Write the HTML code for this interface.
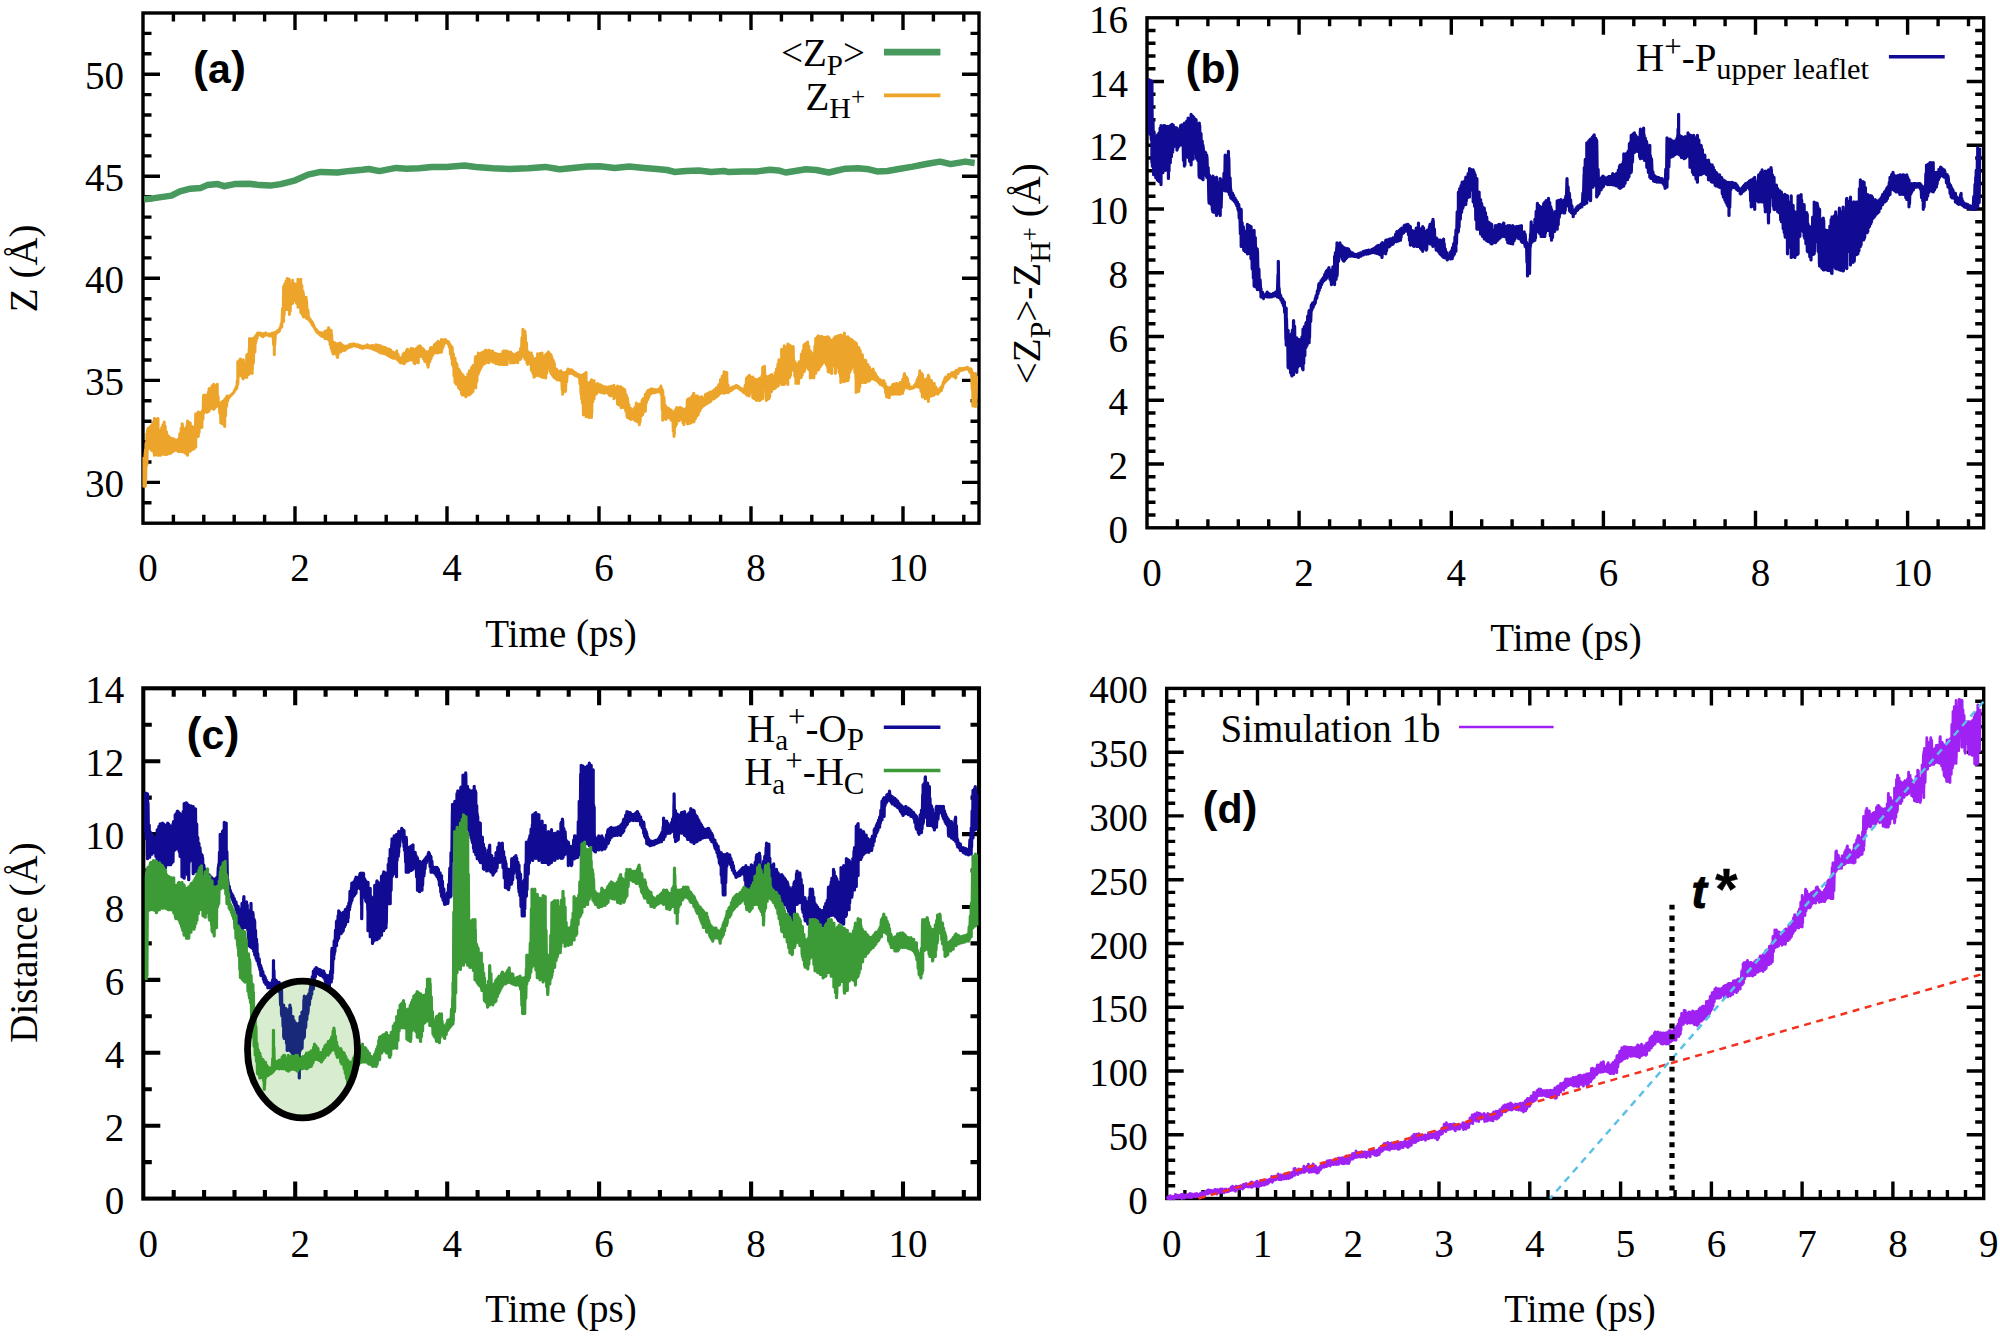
<!DOCTYPE html><html><head><meta charset="utf-8"><title>Figure</title>
<style>html,body{margin:0;padding:0;background:#fff;overflow:hidden;width:2000px;height:1337px}svg{display:block}text{fill:#000}</style></head><body>
<svg width="2000" height="1337" viewBox="0 0 2000 1337">
<rect width="2000" height="1337" fill="#fff"/>
<g id="panelA">
<path d="M173.4 523.2v-8.5 M173.4 13v8.5 M203.8 523.2v-8.5 M203.8 13v8.5 M234.2 523.2v-8.5 M234.2 13v8.5 M264.6 523.2v-8.5 M264.6 13v8.5 M295 523.2v-17 M295 13v17 M325.4 523.2v-8.5 M325.4 13v8.5 M355.8 523.2v-8.5 M355.8 13v8.5 M386.2 523.2v-8.5 M386.2 13v8.5 M416.6 523.2v-8.5 M416.6 13v8.5 M447 523.2v-17 M447 13v17 M477.4 523.2v-8.5 M477.4 13v8.5 M507.8 523.2v-8.5 M507.8 13v8.5 M538.2 523.2v-8.5 M538.2 13v8.5 M568.6 523.2v-8.5 M568.6 13v8.5 M599 523.2v-17 M599 13v17 M629.4 523.2v-8.5 M629.4 13v8.5 M659.8 523.2v-8.5 M659.8 13v8.5 M690.2 523.2v-8.5 M690.2 13v8.5 M720.6 523.2v-8.5 M720.6 13v8.5 M751 523.2v-17 M751 13v17 M781.4 523.2v-8.5 M781.4 13v8.5 M811.8 523.2v-8.5 M811.8 13v8.5 M842.2 523.2v-8.5 M842.2 13v8.5 M872.6 523.2v-8.5 M872.6 13v8.5 M903 523.2v-17 M903 13v17 M933.4 523.2v-8.5 M933.4 13v8.5 M963.8 523.2v-8.5 M963.8 13v8.5 M143 502.8h8.5 M979 502.8h-8.5 M143 482.4h17 M979 482.4h-17 M143 462h8.5 M979 462h-8.5 M143 441.6h8.5 M979 441.6h-8.5 M143 421.2h8.5 M979 421.2h-8.5 M143 400.8h8.5 M979 400.8h-8.5 M143 380.4h17 M979 380.4h-17 M143 360h8.5 M979 360h-8.5 M143 339.6h8.5 M979 339.6h-8.5 M143 319.1h8.5 M979 319.1h-8.5 M143 298.7h8.5 M979 298.7h-8.5 M143 278.3h17 M979 278.3h-17 M143 257.9h8.5 M979 257.9h-8.5 M143 237.5h8.5 M979 237.5h-8.5 M143 217.1h8.5 M979 217.1h-8.5 M143 196.7h8.5 M979 196.7h-8.5 M143 176.3h17 M979 176.3h-17 M143 155.9h8.5 M979 155.9h-8.5 M143 135.5h8.5 M979 135.5h-8.5 M143 115h8.5 M979 115h-8.5 M143 94.6h8.5 M979 94.6h-8.5 M143 74.2h17 M979 74.2h-17 M143 53.8h8.5 M979 53.8h-8.5 M143 33.4h8.5 M979 33.4h-8.5" stroke="#000" stroke-width="3.4" fill="none"/>
<rect x="143" y="13" width="836" height="510.2" fill="none" stroke="#000" stroke-width="3.4"/>
<path d="M143.9 457L143.9 486.3L143.9 458.1L144.5 476.1L145.1 453.1L145.4 486.3L145.4 449.8L145.7 481.3L146.3 442.5L146.8 465.2L146.8 433.7L147 462.9L147.5 430.6L148.1 449L148.1 428.3L148.2 446.2L148.7 435.9L149.4 446.6L150 427L150.5 447.7L150.8 426.5L150.8 449L151 426L151.6 450.4L152.2 424.4L152.9 450.9L153.5 422.1L154.1 453.4L154.4 418.4L154.4 455.3L154.7 433.1L155.4 446.5L156 418.9L156.6 454.9L157.1 425L157.6 446.3L158 418.4L158 455.3L158.2 432L158.9 455.3L159.4 434.1L160 444.8L160.6 430.1L160.6 455.3L160.6 430.1L161.2 450.1L161.8 427.4L162.4 444.6L163 424.7L163.6 454.5L164.1 428.8L164.2 454.4L164.2 422L164.6 452.3L165.2 426.3L165.8 454.4L166.5 431.8L166.9 454.4L166.9 433.7L167 454.3L167.6 441.8L168.3 453.8L168.9 436.3L169.5 449.5L170.1 437.7L170.5 453.5L170.5 438.1L170.9 453.2L171.4 441L172 452.3L172.5 438.6L173.1 451.5L173.7 439.2L174.1 450.8L174.1 439L174.3 446.6L174.9 440.1L175.6 450.3L176.1 442.8L176.8 449.8L176.8 439.9L176.8 449.9L177.3 441.4L178 451.1L178.6 439L178.6 451.7L178.7 442.2L179.3 451.2L179.8 433.8L180.5 451.6L181.2 428.3L181.8 449.5L182.2 423.8L182.2 451.7L182.4 424.3L183 452L183.6 428.8L184.3 450.2L184.8 436.9L184.9 452.6L184.9 430.1L185.4 453.1L185.9 427.7L186.4 454L187 425.5L187.5 454.6L187.6 421.1L187.6 455.3L188.2 433.9L188.8 449.1L189.4 422.4L189.9 451.4L190.3 422.9L190.3 450.8L190.6 427.1L191.3 450.3L192 426.5L192.6 449.3L193.3 427.4L193.9 449L193.9 428.3L193.9 445.6L194.6 426.8L195.2 441.6L195.7 413.9L195.7 447.2L195.9 414.3L196.6 434.7L197.2 413.6L197.9 431.4L198.3 412.1L198.3 436.4L198.5 414.5L199.1 432.7L199.7 412.8L200.4 424.2L201 416L201.6 425.9L201.9 413.9L201.9 427.5L202.2 411L202.9 419.5L203.5 396.7L203.7 413.1L203.7 395.1L204.2 412.2L204.7 397.5L205.3 411.1L206 395.2L206.5 412.2L207.1 395.2L207.3 412.2L207.3 395.1L207.7 406.6L208.3 392.3L209 411L209.1 388.8L209.1 411.3L209.6 388.4L210.2 406L210.9 393.4L211.5 408.5L212 385.9L212.6 404.1L213.3 388.2L213.6 409.5L213.6 384.3L214 408.9L214.5 385.2L215.1 407.9L215.7 386.6L216.3 406.6L216.9 392.6L217.2 405.9L217.2 384.3L217.5 405.9L218 396.3L218.5 404.8L219 403.1L219 405.9L219.1 403.1L219.8 413.5L220.3 403.7L220.8 423L220.8 403.1L220.8 418.5L221.4 402.6L221.9 421.4L222.5 403.7L222.6 423.9L222.6 401.3L223.1 419.6L223.8 403.5L224.3 425L224.7 399.5L224.7 426.6L224.9 399.3L225.5 416L226 397.7L226.6 406.3L227.1 395.9L227.1 402.3L227.2 396.5L227.8 400.8L228.5 397L229 397.7L229.6 395.9L229.8 396.4L230.2 396L230.9 395.4L231.5 394.7L232.1 394.1L232.7 393.5L233.4 392.9L233.4 392.8L234.1 391.9L234.7 390L235.2 390.3L235.9 387.6L236.5 388.6L236.9 385.2L236.9 388L237.2 381L237.8 384.4L237.8 361.8L237.9 382.7L238.6 361.3L239.2 374.8L239.8 359.8L240.4 374.6L240.5 359.1L240.5 375.4L241.1 360.1L241.6 373.1L242.1 363.3L242.6 377.9L243.2 360L243.2 379L243.3 359.9L243.8 377.6L244.4 363L245.1 371L245.7 363.7L246.2 377.4L246.8 354.9L246.8 377.2L246.8 354.7L247.4 373.7L248 354.1L248.7 374.4L249.2 348.3L249.5 373.6L249.5 338.5L249.9 373.5L250.6 351.3L251.2 371L251.7 340.7L252.2 373.6L252.2 338.5L252.3 369.6L252.8 349.2L253.4 363.1L254.1 338.8L254.7 351.5L254.9 336.7L254.9 352.1L255.2 337.2L255.8 342.7L256.5 334.7L257.1 338.4L257.6 333.1L257.6 335L257.7 333.5L258.3 334.9L258.9 333.1L259.5 334.4L260 333.5L260.3 335L260.3 333.1L260.5 335.2L261.1 333.6L261.6 335.9L262.3 333.8L262.9 336.7L263 334L263 336.8L263.5 333.8L264.1 335.9L264.6 333.5L265.2 335.2L265.7 333.1L265.7 335L265.8 333.1L266.4 335L267 333.9L267.6 335L268.2 334L268.8 335.2L269.3 334L269.3 335.9L269.4 334L270.1 335.9L270.8 334.3L271.3 335.9L272 333.4L272.5 335.3L272.9 333.1L272.9 335.9L273 334.1L273.6 344.7L274.2 333.1L274.3 354.8L274.3 333.1L274.7 345.3L275.4 333.3L275.5 334.1L275.5 332.2L276 333.7L276.6 331.5L277.2 332.8L277.8 330.5L278.3 331.9L278.9 329.8L279.1 331.4L279.1 329.5L279.4 330.9L279.9 327.9L280.6 327.8L281.1 324.1L281.8 326.9L281.8 322.3L281.8 326.6L282.5 308.7L283.1 321.6L283.6 286.4L283.6 321.5L283.7 289.3L284.2 314.8L284.8 283.7L285.4 309.8L286 281.1L286.5 309.6L287 287.5L287.2 309L287.2 278.4L287.7 305.8L288.4 282.2L289 310.4L289.4 279.3L289.4 314.4L289.6 292.4L290.2 311.4L290.9 284.6L291.6 301.2L292.1 287.3L292.6 303.6L292.6 280.2L292.8 300.3L293.5 285.4L294.1 299.2L294.6 283.7L295.2 301L295.3 284.6L295.3 300.9L295.7 285.6L296.4 303.3L297.1 284L297.6 303.3L298 279.3L298 307.2L298.2 281L298.8 297L299.4 283.5L300.1 299.3L300.6 282.4L300.7 312.6L300.7 279.3L301.3 313.3L301.8 285.3L302.4 314.7L302.9 291L303.4 317L303.4 293.6L303.6 315.5L304.2 302.8L304.8 308.8L305.4 300.8L305.9 316.1L306.1 297.2L306.1 317.9L306.6 300.7L307.3 318.7L307.9 310.1L308.5 319L308.8 317L308.8 319.7L309 318.2L309.6 320.7L310.2 319.1L310.7 322.3L311.3 320.8L312 324.4L312.4 322.3L312.4 325.1L312.5 322.5L313 326.1L313.6 324.6L314.3 327.8L314.8 327.7L315.5 330.2L316.2 329.4L316.8 332.3L316.8 330.4L316.8 331.6L317.3 330.8L318 333L318.6 332.4L319.3 334.1L319.8 332.5L320.4 335.2L320.9 333L321.3 335.9L321.3 333.1L321.4 335.9L322.1 332.9L322.6 336.5L323.2 333.1L323.8 335.4L324.5 332.6L324.9 338.6L324.9 331.3L325.1 338.6L325.7 332.1L326.4 338.8L326.9 330.5L327.5 338.4L328.2 330L328.5 339.5L328.5 327.7L328.7 340.1L329.4 332.9L330.1 344.7L330.6 329.9L331.2 346.6L331.2 330.4L331.2 348.5L331.7 334.6L332.2 351.5L332.8 341.8L333 353.9L333 342.1L333.5 354L334 342.6L334.6 353.1L335.3 343L335.8 353.4L336.4 345.9L337 356.6L337.5 343.9L337.5 357.4L337.5 346.8L338.1 354.8L338.8 343.6L339.4 351.9L340.1 343.3L340.2 352.1L340.2 343L340.7 351.9L341.3 343.9L341.9 350.9L342.5 345.6L343 349.9L343.5 345.7L344.2 350.5L344.7 346.6L344.7 350.3L344.7 347.2L345.4 349.9L345.9 346.2L346.5 349.1L347.1 346.1L347.7 347.6L348.4 346L348.9 347.2L349.2 344.8L349.2 347.6L349.5 344.8L350.1 346.4L350.8 344.5L351.3 346.7L351.9 344.3L352.5 346.2L353.1 344.4L353.6 345.8L353.6 343.9L353.7 345.4L354.3 344L355 345.6L355.5 344.3L356.1 346.2L356.7 345.2L357.4 346.2L357.9 344.9L358.1 346.7L358.1 344.8L358.5 346.9L359.1 345.5L359.7 347.4L360.4 345.7L361 347.7L361.6 346.2L362.2 348.2L362.6 346.6L362.6 348.5L362.9 346.5L363.4 347.6L364.1 346.1L364.7 347.7L365.3 346.3L365.9 347.3L366.5 345.7L367.1 347.6L367.1 344.8L367.2 347L367.9 345.9L368.5 347.7L369.2 345.8L369.8 348L370.3 345.9L371 348.3L371.5 345.7L371.6 348.5L371.6 345.7L372.1 348.7L372.8 345.5L373.4 349.2L374 346L374.5 349.7L375.1 345.4L375.8 350.2L376.1 344.8L376.1 350.3L376.3 344.9L376.9 350.7L377.5 345.6L378 351.4L378.6 345.3L379.2 352.1L379.9 347.1L380.5 352.9L380.6 345.7L380.6 353L381.1 348.1L381.7 352.8L382.4 346.7L382.9 353.5L383.6 348.3L384.2 353.3L384.8 347.4L385.1 353.9L385.1 347.5L385.5 353.4L386.1 347.9L386.7 354.7L387.3 349.4L387.9 355.5L388.5 348.9L389 354.3L389.6 349.3L389.6 356.5L389.6 350.1L390.3 356.8L390.9 350.3L391.6 357.5L392.3 352.9L392.9 358.2L393.1 352L393.1 358.3L393.5 352.9L394 358.2L394.6 354.1L395.2 357L395.8 352.8L396.3 356.7L396.7 351.1L396.7 359.2L396.9 353.3L397.4 359.4L398 354.3L398.7 361.1L399.2 357.4L399.8 362.1L400.3 360L400.3 362.8L400.4 359.8L401.1 363L401.7 357.6L402.4 361.6L403 354.7L403.6 362.2L403.9 352.9L403.9 363.7L404.1 353.5L404.7 363.1L405.4 353.7L405.9 361.1L406.5 350.6L407.1 361.2L407.5 349.3L407.5 361L407.7 349.5L408.3 360.7L408.8 350.8L409.4 356.6L410 350.4L410.6 357.6L411.1 348.4L411.1 360.1L411.1 348.4L411.6 359.1L412.3 348.7L412.8 358.8L413.5 349L414 363L414.5 349.6L414.7 363.7L414.7 349.3L415 359.1L415.6 349.4L416.2 360.6L416.9 348L417.5 362.6L418 347.3L418.3 362.8L418.3 346.6L418.6 355.8L419.3 347.5L419.9 356L420 345.7L420 355.6L420.5 346.3L421.1 356.7L421.7 347.9L422.3 355.7L423 348.7L423.6 359.2L423.6 349.3L423.6 356.3L424.2 350L424.8 361.4L425.5 355.3L426.1 361.8L426.7 351.8L427.4 364.7L428 352.8L428.1 367.3L428.1 352.9L428.5 365L429.2 351L429.8 361.8L430.4 348.2L430.8 359.2L430.8 347.5L431.1 358.6L431.8 347.4L432.4 355.7L433 348.7L433.7 352.3L434.3 344.9L434.4 353L434.4 344.8L435 352.9L435.7 343.6L436.3 350.7L436.8 343.1L437.3 353L437.9 345.8L438 353L438 341.2L438.5 351.5L439.1 342.1L439.8 352.3L440.4 342.6L440.9 352.2L441.5 339.4L441.5 352.1L441.5 339.4L442 349.8L442.6 339.9L443.1 347L443.7 340.1L444.2 344.1L444.7 340.8L445.1 342.2L445.1 339.4L445.3 342.3L445.9 340.3L446.6 342.8L447.2 341.1L447.9 343.7L448.6 342.1L448.7 344.9L448.7 342.1L449.2 347.2L449.9 344.3L450.5 354.3L451.2 345.9L451.7 358.9L452.3 347.5L452.3 364.6L452.3 350.4L453 365.8L453.5 354.1L454 376.1L454.6 357.9L455 382.6L455 358.2L455.2 382.9L455.8 362.1L456.4 384.4L457 364.2L457.5 380L458.2 370L458.6 388L458.6 369L458.8 387.9L459.5 370.5L460.2 389.6L460.8 372.4L461.5 393.7L462.1 381.4L462.2 395.1L462.2 374.4L462.6 395.2L463.2 375.6L463.7 390.1L464.3 377L464.9 394.9L465.4 377.6L465.8 396.9L465.8 378L466.1 396.5L466.7 382.8L467.4 395.2L467.9 373.9L468.6 388.8L469.2 376.9L469.4 395.1L469.4 370.8L469.7 393.7L470.3 376.2L471 393.5L471.6 367.6L472.3 392.3L472.8 369.7L473 391.6L473 365.4L473.4 383.3L474 366.1L474.6 385.6L475.3 359.1L475.7 388L475.7 356.5L475.8 387.5L476.3 359.8L476.9 381.5L477.4 357L478.1 374.5L478.3 352.9L478.3 373.6L478.7 358.4L479.3 371.5L479.9 358.5L480.5 369L481.1 352.9L481.8 366.1L481.9 352.9L481.9 366.4L482.4 353.3L483 364.2L483.5 351.8L484.2 364.1L484.7 353L485.3 362.9L485.5 350.2L485.5 362.8L485.9 350.2L486.6 357.9L487.1 350.7L487.7 362.5L488.4 350.8L488.9 361.9L489.1 350.2L489.1 362.8L489.6 350.5L490.2 360.2L490.8 351.2L491.5 360.7L492.1 354.8L492.6 359.9L492.7 351.1L492.7 361.9L493.1 352.4L493.7 362L494.3 354.4L495 363L495.6 353.3L496.2 363.2L496.3 353.8L496.3 363.7L496.7 354.7L497.4 363.2L498 354.3L498.6 364.3L499.2 354.8L499.8 364.5L499.9 354.7L499.9 364.6L500.4 354.2L501.1 363.8L501.7 355.2L502.3 364.6L502.8 351.8L503.4 363.3L503.5 351.1L503.5 364.6L504 351.2L504.6 364.6L505.3 351.1L505.8 364.6L506.5 354.2L507.1 364.6L507.1 351.1L507.1 364.6L507.7 351.5L508.2 359.4L508.8 352.1L509.4 358.9L509.9 352.2L510.6 362.9L510.7 352L510.7 362.8L511.1 355.3L511.7 362.6L512.2 353.4L512.7 362.8L513.4 355.6L514.1 362.8L514.3 354.7L514.3 362.8L514.6 355.1L515.2 362.5L515.9 354.1L516.4 359.3L517.1 353.3L517.6 361.7L517.8 352.9L517.8 362.8L518.1 352.6L518.8 358.9L519.4 353.5L520 359.6L520.5 349.3L520.5 359.2L520.7 348.2L521.3 357.9L521.9 337.7L522.5 356.2L522.9 329.2L522.9 355.6L523 329.4L523.6 356.5L524.2 341.2L524.9 351.8L525 331.3L525 359.2L525.4 334.9L525.9 358L526.5 342.8L527 363.1L527.5 351L527.7 364.6L527.7 352L528.2 363.4L528.8 352.5L529.3 362.2L529.9 355.3L530.5 364L531 353.1L531.3 370L531.3 352.9L531.6 370.8L532.3 355.7L532.9 373.4L533.4 358.9L534 377.1L534 360L534 377.2L534.5 360.6L535 376.5L535.6 358.5L536.1 373.4L536.7 358.5L537.3 375.5L537.6 353.8L537.6 375.4L537.8 353.9L538.5 375.2L539.1 359.3L539.6 376L540.2 353.4L540.7 376.6L541.3 354.8L542 368.1L542.1 352.9L542.1 377.2L542.5 356L543.2 377.4L543.8 356.6L544.5 371.6L545.1 356.8L545.6 377.3L545.7 354.7L545.7 378.1L546.2 354.2L546.8 373.3L547.4 353.2L547.9 368.2L548.4 352L548.4 366.4L548.5 352.1L549.1 368.2L549.6 353.5L550.2 371.2L550.8 357L551.1 373.6L551.1 354.7L551.4 371.5L551.9 357.3L552.5 375.5L553.1 359.9L553.7 375.8L553.8 361.8L553.8 377.2L554.3 363.2L554.8 378L555.4 369.5L556 378.8L556.6 369.1L557.2 379L557.3 370.8L557.3 379.9L557.9 371L558.5 377.1L559.2 371.7L559.8 380.3L560.4 370.9L560.9 380.8L560.9 370.8L561.1 379.1L561.7 376L562.2 390.2L562.7 372.6L562.7 394.2L562.8 372.9L563.3 385.8L563.9 372.7L564.4 390L564.9 372.6L565.4 391.6L565.4 372.6L565.6 390.1L566.1 372.4L566.7 381.9L567.4 370.6L568 372.3L568.1 369L568.1 373.6L568.6 369.2L569.3 373.5L569.9 370L570.6 372.2L571.2 369.8L571.7 373.6L571.7 369.9L571.9 373.5L572.5 370.5L573 373.7L573.6 371.4L574.2 374.8L574.7 372.3L575.2 375.4L575.3 372.6L575.3 375.4L575.7 372.8L576.4 375.9L577 374L577.6 376.5L578.2 374.8L578.8 377.1L578.9 374.4L578.9 377.2L579.4 375.8L579.9 383.8L580.5 377.1L581 394L581.6 375.3L581.6 398.7L581.7 381.1L582.4 403.3L582.9 379.7L583.4 414.9L583.4 374.4L583.6 405.7L584.2 373.9L584.8 410.8L585.4 373.2L585.9 413L586.1 372.6L586.1 416.7L586.5 389.9L587.1 411.8L587.7 382.7L588.2 405.6L588.8 383.4L588.8 417.6L588.9 383.2L589.6 417.6L590.1 382L590.7 403.2L591.2 380.7L591.5 417.6L591.5 379.8L591.8 413.5L592.3 380.7L592.9 401.8L593.6 380.7L594.1 398.7L594.1 380.7L594.2 396.9L594.8 387.3L595.4 394.2L596 384.8L596.5 393.9L597 386.2L597.6 391.4L597.7 383.4L597.7 391.6L598.1 383.7L598.6 391.2L599.1 384.9L599.7 392.1L600.3 384.8L600.8 392.4L601.3 385.2L601.3 392.5L601.3 387.3L601.9 392.6L602.4 386.1L603.1 392.9L603.8 386.8L604.4 391.8L604.9 387L604.9 393.3L605 387L605.6 392.8L606.2 387.1L606.9 392.3L607.6 387.3L608.3 393.5L608.8 387L609.3 395.1L609.4 387L609.4 395.1L609.9 387L610.5 395.9L611.1 386.3L611.6 393.1L612.1 386.6L612.8 395.4L613.5 385.7L613.9 398.7L613.9 385.2L614.1 395.9L614.8 391L615.3 395.6L615.9 387.9L616.4 397.5L616.9 387.3L617.5 403.6L617.5 386.1L617.5 404.1L618 388.3L618.7 404.9L619.3 386.9L619.9 400.6L620.4 386.8L621 404.2L621.1 387L621.1 407.7L621.6 390.7L622.2 405.2L622.7 388.2L623.2 407.4L623.8 389L624.4 407.2L624.7 389.7L624.7 407.7L625 391.6L625.7 411.2L626.3 394.8L627 416.1L627.4 397.7L627.4 417.6L627.7 399.2L628.4 418L629 404.7L629.5 418.5L630.1 410.4L630.7 419.2L631 408.5L631 419.4L631.3 412.8L631.8 418.5L632.4 409.7L632.9 418.8L633.6 411.4L634.2 419.6L634.5 408.5L634.5 420.3L634.8 407.5L635.5 418.8L636.1 405.7L636.3 421.2L636.3 403.1L636.7 421.2L637.2 405L637.8 421.9L638.3 405.7L638.9 422.6L639.4 404L639.4 424.8L639.6 410.4L640.1 421.9L640.8 405L641.3 416L642 400.7L642.6 414.9L642.6 399.5L642.7 414.7L643.4 398.6L644 409.2L644.6 401.1L645.3 407.9L645.3 394.2L645.3 411.3L645.9 399.4L646.4 402.7L647 392L647.7 399.8L648 390.6L648 398.7L648.3 392.5L648.8 397.4L649.5 389.9L650.1 394.4L650.7 389.3L651.3 392.5L651.6 388.8L651.6 393.3L652 389.2L652.7 392.3L653.2 389.3L653.7 392.8L654.3 390.3L655 392.6L655.2 389.7L655.2 392.5L655.5 389.8L656.2 392L656.9 389.7L657.6 391.9L658.2 390.3L658.8 391.6L658.8 389.7L658.8 391.6L659.5 388.7L660 392L660.5 387.3L660.9 392.5L660.9 386.1L661.1 394.5L661.7 388.2L662.2 410L662.7 390.6L662.7 420.3L662.8 391.3L663.4 411.3L664 397.2L664.5 411.8L665.2 405.3L665.7 419.3L666 406.7L666 419.4L666.3 406.9L666.9 418.1L667.6 408L668.2 416.7L668.7 408.5L668.7 416.7L668.9 408.8L669.5 417.8L670.1 409.6L670.8 419.5L671.3 410.3L671.3 420.3L671.5 411.8L672.1 420.4L672.7 414L673.3 431.4L673.8 412.6L674 436.4L674 412.1L674.3 434L675 410.6L675.7 426.3L676.2 408.9L676.7 423.9L676.7 407.6L676.8 419.2L677.3 408.1L677.9 419.2L678.5 408.8L679.1 420.8L679.8 407.6L680.3 419.4L680.3 407.6L680.4 419.3L681 409.5L681.6 417.6L682.3 408.6L682.9 422.8L683.5 409.8L683.9 424.8L683.9 409.4L684.1 422.8L684.7 413.6L685.4 416.9L686 408.4L686.6 421.1L687.3 400L687.5 423.9L687.5 399.5L687.9 423.2L688.5 399.1L689.2 423.4L689.8 398.4L690.4 419.1L690.9 397.8L691.1 423L691.1 397.7L691.5 420.4L692.2 396.1L692.8 418.1L693.5 393.8L693.8 422.1L693.8 393.3L694.1 421.5L694.8 402.8L695.5 418.8L696 396.3L696.6 416.4L697.3 396L697.4 414.9L697.4 395.9L697.9 414.9L698.1 397.7L698.1 414.9L698.5 397.6L699 412.2L699.6 400.1L700.1 410.5L700.6 397.1L701.2 407.8L701.7 396.8L701.7 407.7L701.8 399.4L702.3 404.6L702.9 400L703.5 406L704.1 398.1L704.8 404.9L705.3 394.7L705.9 402.7L706.2 394.2L706.2 404.1L706.6 394L707.2 403.6L707.7 393.5L708.4 401.9L709.1 392.7L709.7 402.3L709.7 392.4L709.7 402.3L710.2 392.1L710.9 401.2L711.5 392.4L712.2 397.1L712.8 391L713.5 399L714 391.3L714.2 398.7L714.2 389.7L714.6 398.2L715.2 389.4L715.7 397.3L716.3 388.1L717 396.6L717.6 387.7L717.8 396L717.8 387L718.2 395.6L718.7 384.8L719.3 394L719.8 383.7L720.4 393.4L720.5 379.8L720.5 393.3L721 384L721.5 392L722.2 376.3L722.8 392.9L723.4 375.2L724 393L724.1 371.7L724.1 393.3L724.6 373L725.2 393L725.8 372.4L726.3 388.6L726.8 372.6L726.8 392.5L726.9 378.3L727.5 392.4L728.1 385L728.6 392.5L728.6 389.7L728.8 391.7L729.4 389.2L730 390.9L730.7 388.2L731.3 390.5L731.9 387.4L732.2 389.8L732.2 387L732.6 389.2L733.1 387.4L733.8 388.6L734.3 386.5L734.9 387.8L735.6 386.2L736.1 386.9L736.3 385.2L736.3 387.1L736.7 385.8L737.2 387.7L737.8 386.2L738.4 388.2L738.9 387L739.6 389.1L740.2 387.8L740.3 389.8L740.3 387.9L740.7 390.1L741.4 388.6L742.1 391.1L742.7 389.2L743.3 392.1L743.9 389.7L743.9 392.5L744 389.3L744.5 392.9L745.1 385.6L745.8 393.7L746.4 379.1L746.6 395.1L746.6 378L747.1 395.3L747.7 376.9L748.4 395.6L748.9 375.6L749.2 396L749.2 375.3L749.5 394.4L750.1 376.2L750.7 391.8L751.3 378L751.9 389.5L752.4 379.7L752.8 397.8L752.8 377.1L753 397.8L753.6 379.3L754.2 398.8L754.8 379.1L755.5 399.1L756.1 381L756.4 400.5L756.4 379.8L756.8 394.2L757.4 380.3L758 396.8L758.5 379L759.1 400.5L759.8 379.8L760 400.5L760 378L760.4 399.9L760.9 383.1L761.6 393.6L762.1 375.3L762.6 398.6L762.7 367.2L762.7 398.7L763.2 369.4L763.8 386.1L764.4 371.9L764.5 384.4L764.5 366.3L765.1 386.8L765.6 380.1L766.3 400.1L766.3 376.2L766.3 400.5L767 379.9L767.5 399.5L768 377.6L768.6 398.8L769 376.2L769 398.7L769.1 376.2L769.7 396.7L770.3 375.5L770.9 388.8L771.4 379.1L771.7 391.6L771.7 374.4L772.1 389.7L772.7 376.6L773.3 388.1L774 376.3L774.5 388.8L775.2 372.9L775.3 388L775.3 372.6L775.9 387.5L776.5 369.1L777.1 380L777.7 366.2L778 386.2L778 363.6L778.3 385.9L779 359.8L779.7 382.1L780.2 363.8L780.7 382.5L781.2 363.9L781.6 384.4L781.6 349.3L781.8 375L782.3 352.7L782.8 384.4L783.4 361.1L784 374.8L784.3 345.7L784.3 384.4L784.7 347.7L785.2 382.1L785.7 347.3L786.3 382.4L786.9 350L787.4 382.6L787.8 343.9L787.8 384.4L787.9 345.8L788.6 368.1L789.2 344.8L789.7 377.5L790.4 355.6L790.5 375.4L790.5 345.7L791.1 364.3L791.8 352.7L792.5 370.2L793 348.4L793.2 368.2L793.2 346.6L793.7 369L794.3 360.9L794.8 376.3L795.5 362.8L795.9 383.5L795.9 365.4L796 378.7L796.7 364.8L797.2 379.2L797.9 365.2L798.5 380.1L798.6 363.6L798.6 383.5L799.2 361.8L799.7 376.8L800.4 362.8L800.9 377.7L801.3 354.7L801.3 377.2L801.5 353.9L802.2 375.3L802.8 350.7L803.4 369.9L803.9 345.1L804 371.8L804 344.8L804.6 370.8L805.2 344.1L805.7 364.2L806.3 343.2L806.9 367.2L807.6 342.3L807.6 366.4L807.6 342.1L808.2 369.1L808.8 346.3L809.3 369.9L810 355.3L810.3 378.1L810.3 351.1L810.6 378.1L811.2 352.2L811.8 377.4L812.5 353.8L813.1 370.8L813.8 355.1L813.9 378.1L813.9 354.7L814.3 372.1L814.9 345.8L815.6 373.1L815.7 338.5L815.7 373.6L816.2 341L816.8 370.6L817.5 336.7L818.1 369.7L818.4 335.8L818.4 370L818.6 346.2L819.1 368.8L819.8 347.4L820.5 366.4L821.2 336.5L821.8 355.3L822 336.7L822 364.6L822.3 336.8L823 356.4L823.6 346.1L824.2 362.4L824.7 337.6L825.4 361.9L825.5 337.6L825.5 361.9L826 337.9L826.5 365.1L827 337.1L827.6 367.6L828.2 336.7L828.2 371.8L828.2 342.9L828.8 360.3L829.3 338L829.9 372.2L830.5 349.7L831.1 373.2L831.7 342.6L831.8 373.6L831.8 340.3L832.2 366.9L832.9 340.5L833.6 365.1L834.1 338.1L834.8 360L835.3 343.3L835.4 373.6L835.4 336.7L835.9 371.7L836.4 336.4L837.1 367.3L837.6 336.1L838.1 363.7L838.1 335.8L838.3 363.4L838.9 336.9L839.4 373L840 335.2L840.5 376.4L840.8 334.9L840.8 382.6L841.1 336.8L841.7 381.8L842.3 347.4L842.9 380.7L843.5 335.4L844.1 367L844.4 333.1L844.4 381.7L844.6 349.2L845.3 368.4L845.8 337L846.5 380.7L847.1 342.6L847.6 377.4L848 336.7L848 380.8L848.1 351.6L848.7 378.3L849.3 338.3L849.9 372.2L850.6 340.5L851.2 369.6L851.6 339.4L851.6 368.2L851.8 339.8L852.4 364.9L853 340.8L853.6 365.7L854.2 351L854.3 366.4L854.3 342.1L854.8 372.6L855.3 350.5L855.9 378.5L856.1 343L856.1 392.5L856.5 344L857.2 389.7L857.8 349L858.5 389.6L858.8 347.5L858.8 391.6L859.1 348.5L859.8 387.2L860.3 350.7L860.9 378.4L861.5 364.9L862.2 379.4L862.4 354.7L862.4 382.6L862.9 359.4L863.5 377.3L864.1 363.1L864.6 382.5L865.3 359.9L865.9 382.6L865.9 360.9L865.9 382.2L866.6 363.9L867.3 375.9L867.9 364.4L868.5 381.3L869.2 370.5L869.5 380.8L869.5 367.2L869.8 380.6L870.4 369.9L871.1 378.8L871.7 370L872.2 376.6L872.8 370.9L873.1 379L873.1 369L873.5 378.5L874.2 372.1L874.8 379.7L875.4 373.5L875.9 379.2L876.4 376.2L876.7 380.8L876.7 376.2L877.1 380.6L877.7 377.3L878.2 382.3L878.9 379L879.6 383.6L880.3 381.2L880.3 384.4L880.3 379.8L880.8 383L881.4 381.8L882.1 385.2L882.7 380.7L883.3 385.9L883.9 380.7L883.9 386.2L883.9 381.1L884.5 387.6L885.1 383.4L885.7 393.2L886.2 386.2L886.6 396.9L886.6 387L886.8 396.8L887.4 390.6L888 397.1L888.6 387.7L889.2 394.3L889.3 387.9L889.3 397.8L889.7 387.8L890.3 395L890.9 387.3L891.6 392.6L892.2 385.7L892.9 393.6L892.9 384.3L892.9 394.2L893.4 386L893.9 394.2L894.5 384L895.2 392.6L895.7 385.5L896.4 392.7L896.5 383.4L896.5 394.2L897 383.6L897.5 393.7L898.2 386.1L898.7 394.2L899.2 384.3L899.8 394.2L900.1 382.5L900.1 394.2L900.4 383.1L901.1 393.5L901.7 382.5L902.3 393.4L902.7 379.8L902.7 393.3L903 378.9L903.5 390.5L904 375.4L904.5 388L904.5 373.5L904.5 387.4L905.1 379.1L905.7 387.4L906.3 376.7L907 388L907.2 378L907.2 388L907.6 379.4L908.3 388L908.9 383.7L909.5 388.8L909.9 387L909.9 388.9L910.2 387.3L910.8 388.6L911.4 387.1L911.9 388.3L912.5 387L913.2 387.5L913.5 387.5L913.8 387.9L914.5 385.2L915 386.6L915.7 383.5L916.3 386.6L917 380.2L917.1 387.1L917.1 379.8L917.6 384.1L918.2 377.4L918.8 386.2L919.4 375.1L919.8 388L919.8 370.8L920 382L920.5 374.5L921 391.5L921.7 373.5L922.3 396.2L922.5 374.4L922.5 396.9L922.9 383.8L923.4 391.1L923.9 378.9L924.6 393.7L925.2 381.3L925.2 398.7L925.2 379.8L925.8 395.6L926.5 379.7L927 397L927.6 377.9L928.3 401.3L928.4 375.3L928.4 401.4L929 376.7L929.7 391.8L930.2 379.9L930.8 396.3L931.3 382L931.5 396L931.5 380.7L932 394.1L932.6 384.7L933.2 395.4L933.8 383.5L934.2 395.1L934.2 383.4L934.4 390.7L935 388.4L935.6 393.3L936.1 387.3L936.7 393.7L937.4 389.9L937.8 394.2L937.8 390.6L937.9 394L938.6 389.8L939.1 392.5L939.7 388.7L940.3 390.5L940.9 387.4L941.3 390.7L941.3 387L941.4 390.5L942.1 385.7L942.6 387.6L943.3 382.1L943.9 383.7L944.5 379.7L944.9 382.6L944.9 378L945.1 382.3L945.8 377.1L946.4 381.1L947 376.9L947.6 379.5L948.3 374.6L948.5 379L948.5 374.4L948.8 378.3L949.4 375.5L949.9 377.5L950.5 374.2L951.2 375.9L951.7 372.8L952.1 375.4L952.1 372.6L952.4 375.6L953 373.2L953.6 376.4L954.1 372.4L954.6 376.5L955.1 372.7L955.7 378.1L955.7 370.8L955.8 377.4L956.3 370.4L956.8 373.6L957.5 370.9L958 373.6L958.5 369.5L959 371.5L959.3 368.5L959.3 370.9L959.6 368.8L960.2 370.6L960.8 368.6L961.3 370.4L961.9 368.5L962.4 370.1L962.9 368.5L962.9 370L963 368.6L963.5 369.8L964.2 368.2L964.8 369.4L965.5 368L966.1 368.8L966.8 367.5L967.3 368.6L967.4 367.2L967.4 368.6L967.9 367.5L968.5 370L969.2 369L969.7 371.9L970.3 368.7L971 373.1L971 369L971 373.6L971.5 370.1L972.2 389.5L972.8 372.6L972.8 405.9L972.8 377L973.5 404.9L974.1 375.3L974.7 393.6L975.4 381.2L975.5 406.8L975.5 373.5L975.9 405.2L976.6 376.1" fill="none" stroke="#ECA42A" stroke-width="3" stroke-linejoin="round" stroke-linecap="butt"/>
<path d="M144.2 199.2L152.6 198.4L161 197.1L171.5 195.6L179.9 191.4L190.4 188.7L200.9 187.9L207.2 185.1L217.7 184.1L224 186.2L234.5 184.1L249.2 183.7L259.7 185.1L270.2 185.6L280.7 184.1L295.4 180.3L308 174.6L320.6 171.9L337.4 172.5L350 170.9L362.6 169.8L368.9 169L379.4 171.1L396.2 167.9L406.7 168.8L419.3 168.3L431.9 166.9L446.6 166.9L464.4 165.6L476 166.9L492.8 168.3L509.6 169L528.5 168.3L545.3 166.9L557.9 169L560 169.3L572.6 167.9L587.3 166.6L599.9 166.2L614.6 167.9L629.3 166.6L644 167.9L656.6 168.9L667.1 170L674.4 171.9L686 171L698.6 170.4L711.2 171.9L723.8 171L728 171.9L742.7 171.4L757.4 171.4L770 169.8L778.4 170.4L785.7 172.5L795.2 171L805.7 169.3L816.2 170L828.8 172.5L835.1 171L845.6 168.7L858.2 168.3L868.7 169.3L877.1 171.4L887.6 171L900.2 168.7L912.8 166.6L927.5 163.7L940.1 161.6L950.6 164.1L965.3 161.6L974.7 163" fill="none" stroke="#47995E" stroke-width="6.5" stroke-linejoin="round"/>
<text x="148" y="581.3" font-family='"Liberation Serif", serif' font-size="39" text-anchor="middle">0</text>
<text x="300" y="581.3" font-family='"Liberation Serif", serif' font-size="39" text-anchor="middle">2</text>
<text x="452" y="581.3" font-family='"Liberation Serif", serif' font-size="39" text-anchor="middle">4</text>
<text x="604" y="581.3" font-family='"Liberation Serif", serif' font-size="39" text-anchor="middle">6</text>
<text x="756" y="581.3" font-family='"Liberation Serif", serif' font-size="39" text-anchor="middle">8</text>
<text x="908" y="581.3" font-family='"Liberation Serif", serif' font-size="39" text-anchor="middle">10</text>
<text x="124" y="497.4" font-family='"Liberation Serif", serif' font-size="39" text-anchor="end">30</text>
<text x="124" y="395.4" font-family='"Liberation Serif", serif' font-size="39" text-anchor="end">35</text>
<text x="124" y="293.3" font-family='"Liberation Serif", serif' font-size="39" text-anchor="end">40</text>
<text x="124" y="191.3" font-family='"Liberation Serif", serif' font-size="39" text-anchor="end">45</text>
<text x="124" y="89.2" font-family='"Liberation Serif", serif' font-size="39" text-anchor="end">50</text>
<text x="561" y="646.5" font-family='"Liberation Serif", serif' font-size="39" text-anchor="middle">Time (ps)</text>
<text x="37.4" y="268.3" font-family='"Liberation Serif", serif' font-size="39" text-anchor="middle" transform="rotate(-90 37.4 268.3)">Z (Å)</text>
<text x="219.5" y="83" text-anchor="middle" font-family='"Liberation Sans", sans-serif' font-weight="bold" font-size="41"><tspan font-size="45" dy="-1">(</tspan><tspan dy="1">a</tspan><tspan font-size="45" dy="-1">)</tspan></text>
<text x="865" y="66.2" font-family='"Liberation Serif", serif' font-size="39" text-anchor="end">&lt;Z<tspan font-size="29" dy="8.4">P</tspan><tspan dy="-8.4">&gt;</tspan></text>
<text x="865" y="110" font-family='"Liberation Serif", serif' font-size="39" text-anchor="end">Z<tspan font-size="30" dy="7.8">H</tspan><tspan font-size="25" dy="-12.6">+</tspan></text>
<path d="M884 52.1H940.4" stroke="#47995E" stroke-width="6.6"/>
<path d="M884 95.4H940.4" stroke="#ECA42A" stroke-width="3.8"/>
</g>
<g id="panelB">
<path d="M1177.4 527.8v-8.5 M1177.4 17.8v8.5 M1207.9 527.8v-8.5 M1207.9 17.8v8.5 M1238.3 527.8v-8.5 M1238.3 17.8v8.5 M1268.7 527.8v-8.5 M1268.7 17.8v8.5 M1299.1 527.8v-17 M1299.1 17.8v17 M1329.6 527.8v-8.5 M1329.6 17.8v8.5 M1360 527.8v-8.5 M1360 17.8v8.5 M1390.4 527.8v-8.5 M1390.4 17.8v8.5 M1420.8 527.8v-8.5 M1420.8 17.8v8.5 M1451.3 527.8v-17 M1451.3 17.8v17 M1481.7 527.8v-8.5 M1481.7 17.8v8.5 M1512.1 527.8v-8.5 M1512.1 17.8v8.5 M1542.5 527.8v-8.5 M1542.5 17.8v8.5 M1573 527.8v-8.5 M1573 17.8v8.5 M1603.4 527.8v-17 M1603.4 17.8v17 M1633.8 527.8v-8.5 M1633.8 17.8v8.5 M1664.2 527.8v-8.5 M1664.2 17.8v8.5 M1694.7 527.8v-8.5 M1694.7 17.8v8.5 M1725.1 527.8v-8.5 M1725.1 17.8v8.5 M1755.5 527.8v-17 M1755.5 17.8v17 M1785.9 527.8v-8.5 M1785.9 17.8v8.5 M1816.4 527.8v-8.5 M1816.4 17.8v8.5 M1846.8 527.8v-8.5 M1846.8 17.8v8.5 M1877.2 527.8v-8.5 M1877.2 17.8v8.5 M1907.6 527.8v-17 M1907.6 17.8v17 M1938.1 527.8v-8.5 M1938.1 17.8v8.5 M1968.5 527.8v-8.5 M1968.5 17.8v8.5 M1147 515h8.5 M1983.7 515h-8.5 M1147 502.2h8.5 M1983.7 502.2h-8.5 M1147 489.5h8.5 M1983.7 489.5h-8.5 M1147 476.8h8.5 M1983.7 476.8h-8.5 M1147 464h17 M1983.7 464h-17 M1147 451.2h8.5 M1983.7 451.2h-8.5 M1147 438.5h8.5 M1983.7 438.5h-8.5 M1147 425.8h8.5 M1983.7 425.8h-8.5 M1147 413h8.5 M1983.7 413h-8.5 M1147 400.2h17 M1983.7 400.2h-17 M1147 387.5h8.5 M1983.7 387.5h-8.5 M1147 374.8h8.5 M1983.7 374.8h-8.5 M1147 362h8.5 M1983.7 362h-8.5 M1147 349.2h8.5 M1983.7 349.2h-8.5 M1147 336.5h17 M1983.7 336.5h-17 M1147 323.8h8.5 M1983.7 323.8h-8.5 M1147 311h8.5 M1983.7 311h-8.5 M1147 298.2h8.5 M1983.7 298.2h-8.5 M1147 285.5h8.5 M1983.7 285.5h-8.5 M1147 272.8h17 M1983.7 272.8h-17 M1147 260h8.5 M1983.7 260h-8.5 M1147 247.2h8.5 M1983.7 247.2h-8.5 M1147 234.5h8.5 M1983.7 234.5h-8.5 M1147 221.7h8.5 M1983.7 221.7h-8.5 M1147 209h17 M1983.7 209h-17 M1147 196.2h8.5 M1983.7 196.2h-8.5 M1147 183.5h8.5 M1983.7 183.5h-8.5 M1147 170.7h8.5 M1983.7 170.7h-8.5 M1147 158h8.5 M1983.7 158h-8.5 M1147 145.2h17 M1983.7 145.2h-17 M1147 132.5h8.5 M1983.7 132.5h-8.5 M1147 119.8h8.5 M1983.7 119.8h-8.5 M1147 107h8.5 M1983.7 107h-8.5 M1147 94.2h8.5 M1983.7 94.2h-8.5 M1147 81.5h17 M1983.7 81.5h-17 M1147 68.8h8.5 M1983.7 68.8h-8.5 M1147 56h8.5 M1983.7 56h-8.5 M1147 43.2h8.5 M1983.7 43.2h-8.5 M1147 30.5h8.5 M1983.7 30.5h-8.5" stroke="#000" stroke-width="3.4" fill="none"/>
<rect x="1147" y="17.8" width="836.7" height="510" fill="none" stroke="#000" stroke-width="3.4"/>
<path d="M1149.4 79.8L1149.4 132.8L1149.4 79.9L1150 134.2L1150.6 80.7L1151.3 139.6L1151.9 85.3L1151.9 162.4L1151.9 81.1L1152.4 166.3L1153 119.6L1153.5 165.5L1153.6 132.9L1153.6 174.7L1154.1 133.4L1154.6 159.2L1155.2 145.5L1155.8 177.7L1156.4 137L1156.9 164L1157.3 135.4L1157.3 179.7L1157.5 134.9L1158.2 180.8L1158.9 133.1L1159.5 181.7L1160.1 128.1L1160.6 169.1L1161 125.5L1161 184.6L1161.1 136.6L1161.7 161.4L1162.3 134.7L1163 172.6L1163.6 125.5L1164.2 161.2L1164.7 125.5L1164.7 169.8L1164.8 139.5L1165.5 170.3L1166 127.7L1166.6 155.3L1167.2 126.3L1167.7 169.4L1168.4 129.2L1168.4 178.5L1168.4 126.7L1169 171.1L1169.6 126.1L1170.3 162.6L1170.9 125.2L1171.4 156.7L1172.1 124.3L1172.1 152.5L1172.1 124.8L1172.7 151.9L1173.3 125.2L1173.9 146.7L1174.5 129.3L1175.1 143.9L1175.8 127.7L1176.5 142.3L1177 128L1177 150.1L1177.1 133.9L1177.7 148.2L1178.3 132.6L1178.8 146.5L1179.5 129.8L1180.1 139.7L1180.6 125.7L1180.7 142.7L1180.7 125.5L1181.1 144.9L1181.7 124.8L1182.2 144.3L1182.9 129.4L1183.5 160.4L1184.2 125.5L1184.4 166.1L1184.4 123L1184.9 165L1185.4 131.6L1186.1 150.8L1186.7 121.2L1187.3 149.5L1187.9 120.8L1188.1 157.5L1188.1 118.1L1188.4 151L1188.9 122.5L1189.6 161.3L1190.2 120.5L1190.9 160.5L1191.1 114.4L1191.1 164.9L1191.5 116.1L1192.2 148.2L1192.7 116.1L1193.2 159.1L1193.8 117.4L1194.5 151.4L1195 120.9L1195.6 151L1195.6 119.3L1195.6 152.5L1196.1 119.9L1196.6 158.5L1197.3 123.8L1197.8 160.5L1198.5 131.3L1199.1 176L1199.3 123L1199.3 177.2L1199.7 125.5L1200.4 177.8L1201 133.6L1201.7 178.3L1202.2 141.1L1202.7 169L1203 145.3L1203 179.7L1203.3 147.7L1203.9 168.4L1204.4 151.6L1205 173.9L1205.7 152.7L1206.3 176.1L1206.7 155.1L1206.7 177.2L1207 157.2L1207.6 178L1208.2 167.7L1208.9 200.8L1209.1 174.9L1209.1 203.1L1209.4 175L1210.1 200.1L1210.7 178.4L1211.2 204.5L1211.7 177.6L1212.3 209.8L1212.8 176.1L1212.8 211.8L1212.9 176.1L1213.5 212.2L1214.1 184.5L1214.7 212.3L1215.3 177.8L1215.9 211.1L1216.5 177.3L1216.5 215.5L1216.6 177.3L1217.2 213.7L1217.8 188.4L1218.5 211.8L1219.1 182.7L1219.8 210.4L1220.2 178.6L1220.2 215.5L1220.4 178.9L1221.1 207.5L1221.8 184.6L1222.5 190.7L1223 179.8L1223.5 189.6L1223.5 179.8L1223.5 189.4L1224 173.2L1224.6 190.1L1225.2 155.1L1225.2 190.8L1225.2 160.9L1225.8 191L1226.5 158.8L1227.1 190.9L1227.7 157.2L1228.2 178L1228.4 151.4L1228.4 192L1228.8 157.9L1229.5 194.7L1230.1 177.8L1230.7 197.7L1230.9 189.7L1230.9 198.2L1231.3 193.2L1231.9 198.8L1232.5 193.1L1233.1 200L1233.6 195.3L1234.3 201.2L1235 199.3L1235.1 201.9L1235.1 198.3L1235.6 203.3L1236.2 200.2L1236.8 205.8L1237.4 202.1L1238 209.7L1238.6 204.4L1238.8 211.8L1238.8 204.5L1239.2 217.9L1239.8 210.3L1240.4 233.7L1240.9 209L1241.2 246.4L1241.2 209.4L1241.5 244.5L1242.1 222.7L1242.7 240.1L1243.4 226.9L1243.7 250.1L1243.7 229.2L1244 250.4L1244.7 231.7L1245.4 251.7L1245.9 231.9L1246.5 250.3L1247.1 230.6L1247.4 253.8L1247.4 224.3L1247.7 253.9L1248.2 225.2L1248.9 247.1L1249.4 225.6L1250 253.3L1250.5 226.6L1251 258.6L1251.1 226.7L1251.1 258.7L1251.6 231.9L1252.2 269L1252.8 243.3L1253.4 277.9L1254 238.7L1254.1 285.9L1254.1 230.4L1254.6 286.5L1255.3 237.5L1255.8 287L1256.4 248.2L1256.9 283.1L1257.3 249L1257.3 289.6L1257.5 251.4L1258.2 284.5L1258.9 269.2L1259.4 289.7L1260.1 279.9L1260.8 292.8L1261 288.5L1261 297L1261.4 292L1262.1 296.4L1262.6 292.4L1263.2 298.1L1263.5 294.6L1263.5 298.7L1263.8 294.8L1264.4 296.9L1265 294.8L1265.5 296L1266.1 293.8L1266.8 295.9L1267.2 292.2L1267.2 297L1267.3 292.3L1267.9 297L1268.5 293.9L1269.1 297L1269.6 293.9L1270.2 297L1270.9 294.6L1270.9 297L1270.9 294.6L1271.4 296.1L1272 294.8L1272.6 296.6L1273.1 293.6L1273.8 295.7L1274.4 293.2L1275 295.8L1275.5 292.5L1275.8 295.7L1275.8 292.2L1276.1 295.7L1276.7 291.4L1277.3 297L1277.3 290.9L1277.3 296.4L1278 274.4L1278.3 297L1278.3 261.3L1278.7 287.2L1279.2 288.9L1279.3 297.7L1279.3 290.9L1279.7 297.5L1280.3 294.9L1280.7 299.4L1280.7 295.9L1281 300.2L1281.6 298L1282.3 302.8L1282.8 299.4L1283.4 305.5L1284 301.5L1284.4 308.1L1284.4 302L1284.6 312.3L1285.3 310.6L1285.9 339.1L1286.2 308.2L1286.2 345.1L1286.5 318.6L1287.1 344.4L1287.7 334.5L1288.1 367.3L1288.1 330.4L1288.4 367.9L1288.9 334.8L1289.5 361.4L1290 336.7L1290.6 372.8L1291.1 334.4L1291.7 375.5L1291.9 332.9L1291.9 376L1292.4 330.1L1293 374.1L1293.5 321L1293.6 374.7L1293.6 320.6L1294.1 367.4L1294.6 326.2L1295.3 368.5L1295.8 338.7L1296.4 371.3L1296.8 337.8L1296.8 372.3L1297 350L1297.6 367.3L1298.2 339.4L1298.8 363.3L1299.4 340.6L1300 365.7L1300.5 340.3L1300.5 364.9L1300.7 339.4L1301.3 365.4L1301.9 336.9L1302.5 368.8L1303 329.2L1303 369.8L1303.1 329.1L1303.7 363.5L1304.3 326.5L1304.8 355.8L1305.3 326.9L1305.9 347.6L1305.9 323L1306 347.3L1306.5 322.1L1307.1 345.1L1307.7 316.1L1308.4 342L1308.9 311.8L1309.1 342.7L1309.1 310.7L1309.5 337.7L1310 310.1L1310.7 321.4L1311.3 305.2L1311.6 310.6L1311.6 304.5L1311.9 309.9L1312.6 303L1313.2 307.3L1313.8 302.3L1314.5 304.4L1315 300.3L1315.3 303.1L1315.3 298.3L1315.5 300.5L1316.2 295.5L1316.8 298.1L1317.4 290.8L1318 294L1318.7 284.9L1319 290.8L1319 283.5L1319.2 290.3L1319.8 283.8L1320.4 287.5L1321 280.9L1321.6 284.5L1322.2 279.4L1322.7 282.2L1322.7 278.6L1322.8 281.9L1323.5 277.5L1324.1 280.5L1324.7 274.7L1325.3 279.6L1325.8 272.4L1326.4 278.5L1326.4 271.2L1326.5 278.2L1327 270.3L1327.6 275.3L1328.1 269.6L1328.7 275.3L1328.9 267.5L1328.9 276L1329.3 269.5L1329.9 279.2L1330.4 270.7L1331.1 281.9L1331.4 271.2L1331.4 284.6L1331.7 270L1332.4 280.2L1332.9 266.8L1333.6 281.7L1334.3 265.2L1334.6 284.6L1334.6 256.4L1334.8 272.5L1335.4 252.7L1336.1 279.3L1336.7 247.9L1337 276L1337 242.8L1337.2 274.4L1337.9 245.3L1338.5 261.4L1339.2 248.1L1339.9 251.7L1340 242.8L1340 256.2L1340.5 245.3L1341.1 252.8L1341.7 245.5L1342.3 259.2L1342.9 246.9L1343.4 260.8L1343.7 247.7L1343.7 261.2L1343.9 248.2L1344.6 260.3L1345.2 248.1L1345.8 259L1346.4 249.9L1347 257.7L1347.6 248.7L1348.2 255.6L1348.6 249L1348.6 256.2L1348.8 251.9L1349.4 255.6L1349.9 251.1L1350.6 256.2L1351.2 253.1L1351.8 255.8L1352.4 252.8L1353.1 256.2L1353.6 253.9L1353.6 256.2L1353.6 253.9L1354.2 256.4L1354.7 254.4L1355.2 256.4L1355.9 254.6L1356.5 256.7L1357.1 254.5L1357.6 256.2L1358.1 253.9L1358.5 257.5L1358.5 253.9L1358.7 257.3L1359.3 254.4L1360 256.2L1360.5 252.9L1361.1 256.1L1361.8 253.7L1362.3 254.3L1363 251.8L1363.5 255L1363.5 251.4L1363.6 254.3L1364.2 251.6L1364.9 253.7L1365.5 250.9L1366.2 254.2L1366.9 250.6L1367.5 254L1368.1 250.8L1368.4 253.8L1368.4 250.2L1368.6 253.7L1369.2 250.4L1369.8 253.4L1370.5 251L1371.1 252.8L1371.7 249.7L1372.2 252.7L1372.9 249.1L1373.3 252.5L1373.3 249L1373.4 251.9L1374 248.5L1374.7 252.8L1375.3 247.6L1375.8 253L1376.4 246.7L1377 253.5L1377.5 245.9L1378.1 253.6L1378.3 245.3L1378.3 253.8L1378.6 247.2L1379.3 254.3L1379.9 245.7L1380.5 254.8L1381.1 244.2L1381.8 255.8L1382 242.8L1382 257.5L1382.5 242.6L1383.1 251L1383.7 245.8L1384.2 253.2L1384.8 243.3L1385.4 253.3L1385.7 240.3L1385.7 253.8L1385.9 240.3L1386.6 250.7L1387.2 239.8L1387.8 246L1388.3 240L1389 246.9L1389.4 239.1L1389.4 246.4L1389.6 241.7L1390.2 245.8L1390.8 238.8L1391.4 244.2L1392 239L1392.6 244.3L1393.1 237.8L1393.1 243.9L1393.1 237.9L1393.7 242.7L1394.4 238.1L1395 240.6L1395.6 234.4L1396.3 241.7L1396.8 231.7L1396.8 241.4L1396.9 231.9L1397.4 240.9L1397.9 232.2L1398.6 240.8L1399.2 230.3L1399.8 240.4L1400.5 229.2L1400.5 240.2L1400.5 229.2L1401.1 237.3L1401.7 228L1402.4 233.6L1403 228.6L1403.6 232.8L1404.2 225.5L1404.2 231.5L1404.2 226.8L1404.8 231.5L1405.3 225.1L1406 230.8L1406.6 224.9L1407.3 231.4L1407.9 224.3L1407.9 231.5L1407.9 224.3L1408.5 234.7L1409 225.6L1409.5 240.1L1410.2 227.6L1410.4 245.1L1410.4 226.7L1410.8 244.5L1411.3 230.7L1411.9 242.8L1412.6 230.6L1413.2 245.8L1413.8 231.4L1414.1 246.4L1414.1 231.7L1414.3 246L1414.9 233.6L1415.6 241.5L1416.2 228L1416.9 246.4L1417.5 228L1418.1 245.4L1418.5 223L1418.5 246.4L1418.6 227.8L1419.2 242.7L1419.9 228.7L1420.5 248.3L1421.2 232.5L1421.7 249.7L1422.4 230.6L1422.7 251.3L1422.7 226.7L1422.9 250.4L1423.6 227.9L1424.2 248.2L1424.9 236.7L1425.4 246.5L1426.1 231.6L1426.4 250.1L1426.4 231.7L1426.7 249.1L1427.3 230.1L1428 240.3L1428.5 229.8L1429.1 236.8L1429.4 226.7L1429.4 241.4L1429.7 226.3L1430 243.9L1430 224.3L1430.4 240.7L1430.9 227.3L1431.5 236.7L1432.2 221.9L1432.8 246.1L1433 219.3L1433 246.4L1433.3 221.3L1433.9 243.8L1434.4 229L1435 245.8L1435.6 239.1L1436.2 250L1436.2 237.8L1436.2 250.1L1436.8 238.3L1437.5 247.4L1438.1 242.1L1438.7 252L1439.2 240.1L1439.8 253.1L1439.9 240.3L1439.9 253.8L1440.4 240.1L1441 254.9L1441.7 240.8L1442.4 256.1L1443 241.8L1443.6 257.5L1443.6 239.1L1443.7 256.1L1444.2 243.7L1444.8 256L1445.3 248.8L1445.8 258.1L1446.4 252L1446.9 258.4L1447.3 256.4L1447.3 259.9L1447.5 256.3L1448.2 258L1448.7 255L1449.4 258.2L1449.9 252.7L1450.6 259L1451.2 251.4L1451.9 258.7L1452.2 249L1452.2 258.7L1452.5 247.7L1453 256.5L1453.7 243.6L1454.3 254.4L1455 236.9L1455.5 246.4L1455.9 231.7L1455.9 251.3L1456 229.9L1456.5 243.7L1457.2 211.9L1457.9 232.3L1458.4 205.5L1458.4 231.5L1458.4 192.2L1459.1 227.1L1459.7 188.6L1460.3 219.1L1461 185.6L1461.6 212.3L1462.1 182.3L1462.1 209.3L1462.2 182.2L1462.9 207.8L1463.5 187.7L1464.1 205.1L1464.7 180.9L1465.3 202.2L1465.8 177.3L1465.8 204.4L1465.9 177.2L1466.3 200.9L1467 180.2L1467.5 197.6L1468.1 173.6L1468.8 196.9L1469.3 172.1L1469.5 197L1469.5 168.7L1469.9 189.9L1470.5 169L1471.1 189L1471.8 170.4L1472.3 190.5L1472.9 169.8L1473.2 201.9L1473.2 169.9L1473.4 202.1L1474.1 171.9L1474.6 206.3L1475.2 174.7L1475.8 219.7L1476.5 179.8L1476.9 229.1L1476.9 178.6L1477.1 226.8L1477.8 193.9L1478.5 229.1L1479.1 192L1479.6 222L1480.3 204.2L1480.6 234L1480.6 199.6L1481 232.2L1481.7 203.5L1482.4 236.3L1482.9 207.4L1483.6 236.2L1484.3 208.8L1484.3 238.9L1484.3 208.2L1484.9 233.5L1485.5 212.7L1486.2 240.2L1486.7 217.1L1487.4 240.9L1488 221.8L1488 241.4L1488 221.8L1488.6 239.1L1489.2 222.6L1489.9 242.2L1490.5 223.5L1491 243.4L1491.7 225.2L1491.7 243.9L1491.7 224.3L1492.3 243.7L1492.9 230.2L1493.5 239.8L1494.1 232.1L1494.8 241L1495.3 228.8L1495.4 242.7L1495.4 225.5L1495.9 240.6L1496.5 231.5L1497.2 240.9L1497.7 225L1498.3 237.5L1498.8 225.4L1499.1 238.9L1499.1 224.3L1499.4 238.5L1500.1 224.5L1500.8 237.5L1501.4 225L1502 236.5L1502.7 225.9L1503.2 233.7L1503.6 223L1503.6 235.2L1503.8 223.1L1504.5 236.7L1505.1 226.4L1505.8 235.4L1506.4 228.4L1506.9 240L1507.5 229.7L1507.8 242.7L1507.8 225.5L1508.1 240.8L1508.8 225.8L1509.4 243.1L1509.9 225.6L1510.6 243.4L1511.3 227.1L1511.9 243.7L1512.5 226.8L1512.7 243.9L1512.7 225.5L1513 236.7L1513.5 226.3L1514.1 240.8L1514.7 229.6L1515.2 238.7L1515.8 227L1516.4 236.1L1516.4 226.7L1516.4 236.5L1516.9 226.7L1517.4 235.5L1518 226.6L1518.7 238.6L1519.3 226L1519.9 239L1520.5 229.7L1521.2 235.2L1521.4 225.5L1521.4 241.4L1521.7 231.7L1522.3 242.4L1522.9 233.5L1523.6 241.5L1524.2 231.9L1524.7 244.3L1525.1 234.1L1525.1 246.4L1525.3 235.6L1525.8 244.1L1526.4 242.2L1526.5 248.8L1526.5 242.8L1527 262.5L1527.5 244L1527.5 276L1527.7 245.9L1528.3 265.1L1528.8 244.1L1529.5 270.9L1529.5 244L1529.5 273.5L1530.1 238.8L1530.5 246.4L1530.5 234.1L1530.7 240.5L1531.2 221.8L1531.2 242.7L1531.4 228.1L1532.1 242.1L1532.6 225.6L1533.1 240.2L1533.7 227.8L1534.3 240.6L1534.8 225.5L1534.9 240.2L1534.9 219.3L1535.5 238L1536.2 211.4L1536.9 231.5L1537.4 203.3L1537.4 231.5L1537.5 204.8L1538 230.4L1538.7 205.4L1539.4 233.1L1539.9 206.4L1540.5 234.2L1541.1 207L1541.1 236.5L1541.2 209.3L1541.8 236.4L1542.4 207.7L1543 236.5L1543.7 203.6L1544.3 223.7L1544.8 202L1544.8 236.5L1544.9 202.2L1545.4 233.1L1546.1 200.7L1546.7 223.4L1547.2 203.4L1547.9 230.4L1548.4 203.8L1548.5 229.1L1548.5 198.3L1549.1 227L1549.7 202.6L1550.3 235.6L1550.8 206.9L1551.4 238.7L1551.5 209.4L1551.5 240.2L1552 210.3L1552.5 237.5L1553 221L1553.5 231.5L1554.1 215.1L1554.7 225.1L1554.7 214.4L1554.7 231.5L1555.3 211.5L1555.9 223.4L1556.4 211.6L1557.1 227.2L1557.2 200.8L1557.2 229.1L1557.7 202.8L1558.2 224.7L1558.8 200.4L1559.3 217.2L1559.9 202.8L1560.4 209.9L1560.9 199.6L1560.9 213L1561 200.3L1561.6 210.3L1562.1 200.5L1562.7 211.7L1563.2 200.5L1563.9 213L1564.6 199.6L1564.6 213L1564.6 204.3L1565.2 210.8L1565.8 196.1L1566.3 203.1L1567 179L1567 204.4L1567 178.6L1567.6 205.8L1568.1 186.8L1568.7 206.3L1569.3 193.1L1569.5 210.6L1569.5 194.6L1569.9 211.3L1570.6 199.9L1571.3 212.6L1571.9 205.8L1572.6 213.9L1573.2 211.9L1573.2 216.7L1573.3 212.2L1573.9 214.2L1574.6 210.1L1575.2 213.3L1575.9 208.6L1576.5 210.1L1576.9 207L1576.9 210.6L1577.2 206.8L1577.8 209.9L1578.3 205.9L1578.9 208.4L1579.4 206.2L1580.1 207.5L1580.6 204.3L1581.2 207L1581.9 203.3L1581.9 206.8L1581.9 203L1582.4 203.8L1582.9 193L1583.5 195.8L1584.1 174L1584.3 204.4L1584.3 167.5L1584.7 195L1585.3 159.3L1586 203.2L1586.5 160.7L1586.8 203.1L1586.8 142.8L1587.2 189.1L1587.8 142.8L1588.3 188.1L1588.8 140.9L1589.3 199.1L1590 139.6L1590.5 200.7L1590.5 139.1L1590.6 200L1591.2 139.4L1591.7 187L1592.4 137L1592.9 187.2L1593.6 135.6L1594.1 177.4L1594.2 134.9L1594.2 182.2L1594.8 138L1595.3 185.2L1595.8 138.4L1596.3 176.6L1596.7 140.3L1596.7 197L1596.8 144.9L1597.5 195.6L1598.1 169.4L1598.7 193.9L1599.1 179.8L1599.1 193.3L1599.3 184.9L1600 187.2L1600.5 178.4L1601.1 190L1601.8 177.3L1602.4 184.8L1602.8 176.1L1602.8 187.1L1603 178.1L1603.5 186.4L1604.1 176.8L1604.7 183.7L1605.2 179.5L1605.8 183.6L1606.3 178L1607 184.2L1607.6 180.1L1607.8 184.6L1607.8 177.3L1608.3 182.9L1608.8 176.5L1609.5 184.6L1610 176.3L1610.7 184.5L1611.3 178.2L1612 184.6L1612.5 177.5L1612.7 184.6L1612.7 173.6L1613.2 184.8L1613.8 175.2L1614.3 185.2L1614.8 174.5L1615.4 182.7L1615.9 177.1L1616.4 185.9L1616.4 173.6L1616.6 185.7L1617.2 173.6L1617.7 181.5L1618.3 170.1L1619 187.6L1619.5 166.3L1620.1 188.3L1620.1 165L1620.2 188.1L1620.8 166.5L1621.5 187.3L1622.1 164.4L1622.7 186.5L1623.3 161.5L1623.8 185.9L1623.8 153.9L1623.9 185L1624.5 154.5L1625.1 183.1L1625.8 153.8L1626.4 176.1L1627.1 159.5L1627.5 179.7L1627.5 152.7L1627.7 178.3L1628.2 151.2L1628.9 176.9L1629.4 143.7L1630 173.1L1630.7 141.9L1631.2 172.3L1631.2 135.4L1631.4 170.8L1632 139.3L1632.5 161.9L1633.1 133.9L1633.7 152.4L1634.2 135.2L1634.4 152.5L1634.4 132.9L1634.8 151.9L1635.5 135.1L1636.1 148.3L1636.8 136.8L1637.3 146.6L1637.4 137.8L1637.4 151.3L1637.9 137.8L1638.4 150.8L1639.1 139.4L1639.7 156.9L1640.3 131.6L1640.4 158.7L1640.4 129.2L1641 157L1641.6 129.8L1642.2 154.6L1642.8 136.1L1643.4 158.6L1643.6 128L1643.6 158.7L1644.1 134.7L1644.6 160.4L1645.3 138L1645.8 157.9L1646.5 141.4L1646.8 167.3L1646.8 142.8L1647.1 161.9L1647.7 152.7L1648.4 172.4L1649 151.5L1649.7 171.3L1649.8 145.3L1649.8 177.2L1650.4 155.6L1651 178.4L1651.5 158.8L1652.2 176.4L1652.9 171.8L1653.5 180.4L1653.5 174.9L1653.5 180.9L1654 175.2L1654.5 181.3L1655.1 176.2L1655.6 181.6L1656.1 176.8L1656.8 181.9L1657.2 177.3L1657.2 182.2L1657.5 178.1L1658.1 181.3L1658.7 177.7L1659.2 182.2L1659.8 178.4L1660.4 182.2L1660.9 178.9L1661.6 181.7L1662.1 178.6L1662.1 182.2L1662.2 179.1L1662.8 183.4L1663.5 180.6L1664.1 185.2L1664.6 181.4L1665.1 188.3L1665.1 179.8L1665.2 188.2L1665.8 169.1L1666.4 187L1667 137.8L1667 187.1L1667.1 157L1667.8 179.1L1668.4 139.1L1668.9 166.6L1669.4 139.9L1670 157.5L1670 139.1L1670.1 156.2L1670.8 139.8L1671.3 157L1672 140.7L1672.5 154.9L1673.2 141.5L1673.2 156.2L1673.2 144L1673.9 151L1674.5 141.1L1675.2 154.7L1675.7 140.9L1676.3 152.5L1676.4 140.3L1676.4 153.8L1676.9 138.3L1677.5 152.3L1677.7 135.4L1677.7 153.8L1678.1 128.8L1678.6 152.5L1678.6 114.4L1678.7 150L1679.4 138.2L1679.6 155L1679.6 135.4L1680 155.2L1680.6 136.2L1681.1 154L1681.4 136.6L1681.4 157.5L1681.7 136.7L1682.3 157.6L1682.8 137.2L1683.4 154L1684.1 139.5L1684.3 158.7L1684.3 137.8L1684.6 156.3L1685.2 136.7L1685.7 157.7L1686.3 143.7L1686.8 148.8L1687.4 137.4L1687.9 153.3L1688 132.9L1688 156.2L1688.5 134.8L1689.1 153.9L1689.6 134.9L1690 167.3L1690 135.4L1690.2 165.8L1690.8 135.4L1691.4 165.1L1692 135.9L1692.5 172.3L1693.2 135.7L1693.7 174.7L1693.7 135.4L1693.7 174.3L1694.2 138L1694.8 174.2L1695.4 138L1696 179.1L1696.6 143L1697.1 171.2L1697.4 135.4L1697.4 182.2L1697.7 138.1L1698.4 175.3L1698.9 140.2L1699.5 171.7L1700 150.5L1700.7 168.4L1701.1 145.3L1701.1 174.7L1701.3 146L1701.9 173.3L1702.4 149.7L1703 173.5L1703.5 159.2L1704.1 172.1L1704.8 155.4L1704.8 172.3L1704.8 155.1L1705.4 173.3L1706.1 160.4L1706.6 174.7L1707.2 161.8L1707.9 172.4L1708.4 165.8L1708.5 179.7L1708.5 160.1L1708.9 180L1709.5 163.5L1710 178.8L1710.7 166.5L1711.4 181.6L1712 164.8L1712.2 182.2L1712.2 165L1712.5 177.9L1713.3 167.2L1713.9 182.5L1714.6 170.3L1715.1 185.1L1715.6 172.4L1715.9 185.9L1715.9 172.4L1716.1 184.2L1716.7 172.9L1717.3 185.8L1718 174.8L1718.5 186.8L1719.2 176.2L1719.6 187.1L1719.6 174.9L1719.8 187.5L1720.4 180.2L1721 186.5L1721.7 177.7L1722.3 193.6L1722.8 179.9L1723.3 197L1723.3 179.8L1723.5 197.2L1724.1 180.5L1724.8 200L1725.3 181.2L1725.9 202.3L1726.6 182.6L1727 204.4L1727 182.3L1727.3 205.3L1727.9 186.9L1728.5 207L1729 182.3L1729 215.5L1729.1 185L1729.7 207.5L1730.3 183.3L1730.9 189.5L1731.4 184L1731.5 187.1L1731.5 182.3L1732 187.3L1732.7 182.6L1733.3 187.4L1733.9 184.4L1734.4 186.6L1735.1 183.3L1735.6 188.1L1735.7 183.5L1735.7 188.3L1736.1 184L1736.7 189.5L1737.3 185.6L1738 190.5L1738.5 187.6L1739.2 190.6L1739.7 189.1L1740.2 193.5L1740.6 189.7L1740.6 194L1740.8 189.4L1741.5 193.2L1742.1 187.8L1742.8 191.7L1743.3 186.4L1743.9 191L1744.4 185L1744.9 188.9L1745.5 184.7L1745.6 189.6L1745.6 183.5L1746 188L1746.6 184.5L1747.2 186.3L1747.8 182.7L1748.5 187.7L1749 182.1L1749.3 187.1L1749.3 181.1L1749.5 189.3L1750.1 180.6L1750.7 201.2L1751.2 185.6L1751.2 206.8L1751.2 179.8L1751.9 202.9L1752.4 187.9L1753 206.1L1753.5 178.7L1754.1 205.3L1754.7 177.3L1754.7 209.3L1754.8 180.4L1755.3 200.9L1755.9 183L1756.4 195.4L1757 187L1757.6 200.6L1758.2 179.8L1758.6 201.9L1758.6 174.9L1758.8 200.9L1759.5 183L1760 201.7L1760.7 172.3L1761.3 199.9L1761.8 171.5L1762.1 201.9L1762.1 169.9L1762.4 201.7L1763.1 176.4L1763.8 195.2L1764.3 178L1764.9 206.8L1765.3 171.2L1765.3 211.8L1765.5 184.1L1766.2 200.3L1766.7 171.5L1767.2 211.2L1767.8 170.8L1768.4 220L1768.5 169.9L1768.5 222.9L1768.9 171.9L1769.5 212.1L1770.1 170.6L1770.7 197.3L1771 167.5L1771 197L1771.4 169.7L1772 195.8L1772.6 175.2L1773.3 206.2L1773.9 178.5L1774 209.3L1774 177.3L1774.5 209.6L1775.1 189.7L1775.7 208.7L1776.4 185.1L1776.9 205.7L1777.5 190.1L1777.7 211.8L1777.7 188.5L1778.1 204L1778.7 191.3L1779.3 212.8L1780 190.8L1780.7 219.8L1781.2 192.6L1781.4 221.7L1781.4 192.2L1781.9 215L1782.5 195.2L1783.2 228.7L1783.7 195.1L1784.2 232.6L1784.8 194.4L1785.1 236.5L1785.1 194.6L1785.3 237.2L1786 206.8L1786.5 236.7L1787.2 195.7L1787.5 253.8L1787.5 195.9L1787.7 238.3L1788.2 201.7L1788.8 242.7L1789.5 209L1790 247.2L1790.7 203.1L1791.2 257.5L1791.2 195.9L1791.4 257.5L1792 220.4L1792.6 256.6L1793.1 205.3L1793.7 254.9L1794.2 211.5L1794.9 257.5L1794.9 211.9L1794.9 256.7L1795.5 223.7L1796.1 246.1L1796.8 222.5L1797.4 254.6L1798 202.9L1798.1 253.8L1798.1 195.9L1798.6 233.4L1799.3 198.9L1799.9 236.3L1800.4 195.3L1801.1 225.3L1801.1 194.6L1801.1 226.6L1801.7 200.1L1802.4 230.8L1802.9 206.3L1803.4 231.9L1804 208.1L1804.1 236.5L1804.1 204.5L1804.7 238.2L1805.3 219.2L1805.9 243.7L1806.6 212.6L1807.3 251.2L1807.3 214.4L1807.3 251.3L1807.9 223.6L1808.6 252.1L1809.2 226.1L1809.8 256.6L1810.5 229.4L1811 259.9L1811 231.7L1811 259.9L1811.5 227.8L1812 251.1L1812.7 217.1L1813.2 254.4L1813.9 216.5L1814.2 253.8L1814.2 202L1814.5 251.3L1815.2 204.9L1815.8 234.3L1816.4 203L1816.9 240.9L1817.2 203.3L1817.2 241.4L1817.6 205.6L1818.2 251.4L1818.8 208.7L1819.4 263.5L1819.6 209.4L1819.6 266.1L1820 223.1L1820.6 262.2L1821.2 221L1821.8 268.3L1822.5 218.8L1823 261.7L1823.3 218.1L1823.3 269.8L1823.7 220.6L1824.3 269.8L1825 229.8L1825.6 268L1826.3 230.4L1826.8 269.8L1827 231.7L1827 269.8L1827.4 230.7L1827.9 270.5L1828.6 239.4L1829.3 270.6L1829.9 226.1L1830.5 264.5L1831.1 219.7L1831.6 273.2L1832 216.9L1832 273.5L1832.3 237.1L1832.9 264.9L1833.5 235.7L1834 266.6L1834.6 215.6L1835.1 258.5L1835.7 212.4L1835.7 268.6L1835.7 211.9L1836.4 268.8L1836.9 229.3L1837.5 269L1838.1 216.8L1838.7 245.5L1839.4 208.2L1839.4 269.8L1839.4 218.7L1839.9 257.9L1840.5 211.6L1841 270.3L1841.6 214.3L1842.2 247.8L1842.7 224.2L1843.1 271L1843.1 207L1843.4 270.8L1844 210.9L1844.6 267.8L1845.2 223.5L1845.9 266.3L1846.5 199.2L1846.8 268.6L1846.8 198.3L1847.1 250.4L1847.7 204L1848.3 240.7L1849 201.4L1849.6 251.4L1850.2 204L1850.5 264.9L1850.5 197.1L1850.7 252.7L1851.3 221.7L1851.9 259.7L1852.5 204.8L1853.1 262.3L1853.7 201.9L1854.2 261.2L1854.2 202L1854.3 260.8L1854.8 223.8L1855.4 249.3L1855.9 202L1856.5 254.7L1857.2 202L1857.8 249.5L1857.9 202L1857.9 253.8L1858.4 206L1858.9 250.8L1859.4 188.5L1860 235.2L1860.4 179.8L1860.4 246.4L1860.5 180.5L1861.1 244.7L1861.8 195.3L1862.3 235.5L1863 181.5L1863.6 240L1864.1 182.3L1864.1 238.9L1864.1 182.4L1864.7 237.5L1865.4 187.6L1865.9 232.2L1866.5 197.3L1867.1 232.6L1867.7 199.8L1867.8 231.5L1867.8 194.6L1868.4 227.6L1869 195.5L1869.6 226.3L1870.2 195.7L1870.8 223.7L1871.3 202.7L1871.5 221.7L1871.5 195.9L1871.8 212.2L1872.4 197.2L1873.1 218.3L1873.7 201.8L1874.3 217L1874.8 203.6L1875.2 215.5L1875.2 199.6L1875.4 212.3L1876.1 203.8L1876.7 214L1877.3 200.9L1877.8 212.9L1878.4 200.9L1878.9 211.8L1878.9 200.8L1879.1 207.1L1879.8 199.5L1880.5 208.5L1881 198L1881.5 205.3L1882 196.4L1882.6 204.4L1882.6 194.6L1882.7 204.3L1883.3 194.2L1883.9 201.2L1884.5 192.2L1885 201.8L1885.7 190.5L1886.3 198.6L1886.3 189.7L1886.3 200.7L1886.9 188L1887.4 198.6L1888 186.6L1888.7 195.7L1889.3 182.4L1889.9 194.6L1890 177.3L1890 194.5L1890.5 180.4L1891.1 188.4L1891.6 174.7L1892.2 185.9L1892.8 173.1L1893 189.6L1893 172.4L1893.3 189.1L1893.9 174.9L1894.6 190.8L1895.2 180.8L1895.9 189.5L1896.2 176.1L1896.2 192L1896.5 180.5L1897.1 192L1897.8 175.6L1898.4 186.9L1898.9 175.8L1899.5 193.4L1899.9 174.9L1899.9 194.5L1900.2 174.9L1900.8 193.9L1901.5 179.8L1902 194.2L1902.7 174.9L1903.4 194.5L1903.6 174.9L1903.6 194.5L1903.9 177.1L1904.6 193.8L1905.1 175.5L1905.8 197.6L1906.4 176.6L1906.8 199.4L1906.8 174.9L1907.1 195.1L1907.7 177.3L1908.4 197.2L1908.9 183.6L1909 206.8L1909 179.8L1909.5 203.7L1910.1 185.4L1910.8 194L1911.5 185.8L1911.7 192L1911.7 183.5L1912.1 190.5L1912.8 184.1L1913.3 190L1913.9 183.5L1914.4 187.5L1915.1 183.5L1915.7 187L1915.9 183.5L1915.9 187.1L1916.3 183.9L1916.8 187.1L1917.5 184L1918.1 187L1918.6 183.5L1919.3 187.1L1919.9 183.7L1920.1 187.1L1920.1 183.5L1920.4 189L1920.9 184.5L1921.6 197.6L1922.2 186L1922.8 201L1923.3 187.2L1923.3 209.3L1923.5 188.4L1924.1 206.9L1924.7 186.9L1925.4 193.6L1925.9 173.7L1926.5 199.4L1926.5 165L1926.6 198.9L1927.2 176.8L1927.7 195.9L1928.4 164.1L1929 192.2L1929.5 165.1L1930 189.6L1930 162.5L1930.1 186.4L1930.7 162.7L1931.3 190.5L1931.8 166.6L1932.3 191.4L1932.8 169.8L1933.2 192L1933.2 162.5L1933.5 191.5L1934.1 172.6L1934.6 189.7L1935.3 172.6L1935.8 187.2L1936.4 172.7L1936.4 187.1L1936.4 172.4L1937.1 184.1L1937.7 174.5L1938.4 179.9L1938.9 169.4L1939.6 177.3L1940.1 168.7L1940.6 174.7L1940.6 167L1940.7 173.6L1941.3 167.6L1941.9 175.6L1942.5 168.9L1943 176.3L1943.6 170.1L1944.3 176.9L1944.3 169.9L1944.3 177.2L1944.8 171.1L1945.3 177.5L1945.9 174.4L1946.5 183L1947.1 174.6L1947.7 184.7L1948 176.1L1948 187.1L1948.2 177.5L1948.9 186L1949.5 183.8L1950.1 193.4L1950.6 185.3L1951.2 196.8L1951.2 187.2L1951.2 197L1951.7 188.1L1952.3 197.8L1952.9 189.9L1953.5 197.8L1954.1 192.9L1954.8 198.7L1955.4 195.4L1955.4 201.9L1955.4 193.4L1956.1 202.4L1956.6 196.8L1957.2 203.3L1957.9 198.5L1958.6 204.4L1958.6 199.6L1958.6 204.2L1959.3 198L1959.9 204.1L1960.5 195.2L1961.1 204.4L1961.1 193.4L1961.1 201.3L1961.8 198.5L1962.4 205.3L1962.9 201.4L1963.5 204.6L1964.1 203.3L1964.1 206.8L1964.2 204L1964.8 207L1965.4 204.1L1965.9 207.4L1966.6 204.1L1967.1 207.8L1967.7 204.5L1967.8 208.1L1967.8 204.5L1968.3 208.2L1968.8 206.1L1969.5 208L1970.1 205.9L1970.8 208.8L1971.3 206.3L1971.9 209.1L1972.6 207L1972.7 209.3L1972.7 207L1973.2 208.8L1973.8 196.4L1974.4 209.3L1975 184.3L1975.6 200.4L1975.7 177.3L1975.7 209.3L1976.2 170.5L1976.8 206.7L1977.4 157.5L1977.7 206.8L1977.7 147.7L1978 189.3L1978.5 160L1979.2 202.6L1979.7 147.8" fill="none" stroke="#110B93" stroke-width="3.2" stroke-linejoin="round" stroke-linecap="butt"/>
<text x="1152" y="586" font-family='"Liberation Serif", serif' font-size="39" text-anchor="middle">0</text>
<text x="1304.1" y="586" font-family='"Liberation Serif", serif' font-size="39" text-anchor="middle">2</text>
<text x="1456.3" y="586" font-family='"Liberation Serif", serif' font-size="39" text-anchor="middle">4</text>
<text x="1608.4" y="586" font-family='"Liberation Serif", serif' font-size="39" text-anchor="middle">6</text>
<text x="1760.5" y="586" font-family='"Liberation Serif", serif' font-size="39" text-anchor="middle">8</text>
<text x="1912.6" y="586" font-family='"Liberation Serif", serif' font-size="39" text-anchor="middle">10</text>
<text x="1128" y="542.8" font-family='"Liberation Serif", serif' font-size="39" text-anchor="end">0</text>
<text x="1128" y="479" font-family='"Liberation Serif", serif' font-size="39" text-anchor="end">2</text>
<text x="1128" y="415.2" font-family='"Liberation Serif", serif' font-size="39" text-anchor="end">4</text>
<text x="1128" y="351.5" font-family='"Liberation Serif", serif' font-size="39" text-anchor="end">6</text>
<text x="1128" y="287.8" font-family='"Liberation Serif", serif' font-size="39" text-anchor="end">8</text>
<text x="1128" y="224" font-family='"Liberation Serif", serif' font-size="39" text-anchor="end">10</text>
<text x="1128" y="160.2" font-family='"Liberation Serif", serif' font-size="39" text-anchor="end">12</text>
<text x="1128" y="96.5" font-family='"Liberation Serif", serif' font-size="39" text-anchor="end">14</text>
<text x="1128" y="32.8" font-family='"Liberation Serif", serif' font-size="39" text-anchor="end">16</text>
<text x="1566" y="651" font-family='"Liberation Serif", serif' font-size="39" text-anchor="middle">Time (ps)</text>
<text x="1213" y="83" text-anchor="middle" font-family='"Liberation Sans", sans-serif' font-weight="bold" font-size="41"><tspan font-size="45" dy="-1">(</tspan><tspan dy="1">b</tspan><tspan font-size="45" dy="-1">)</tspan></text>
<text x="1636" y="71.3" font-family='"Liberation Serif", serif' font-size="39">H<tspan font-size="31" dy="-14.6">+</tspan><tspan dy="14.6">-P</tspan><tspan font-size="30.4" dy="8.1">upper leaflet</tspan></text>
<path d="M1888.9 56.7H1944.7" stroke="#110B93" stroke-width="3.6"/>
<text transform="translate(1039.9 273.7) rotate(-90)" x="0" y="0" text-anchor="middle" font-family='"Liberation Serif", serif' font-size="39">&lt;Z<tspan font-size="30" dy="9.7">P</tspan><tspan dy="-9.7">&gt;-Z</tspan><tspan font-size="30" dy="9.7">H</tspan><tspan font-size="25" dy="-11.5">+</tspan><tspan dy="1.8"> (Å)</tspan></text>
</g>
<g id="panelC">
<path d="M173.7 1198.6v-8.5 M173.7 688.3v8.5 M204.1 1198.6v-8.5 M204.1 688.3v8.5 M234.5 1198.6v-8.5 M234.5 688.3v8.5 M264.9 1198.6v-8.5 M264.9 688.3v8.5 M295.2 1198.6v-17 M295.2 688.3v17 M325.6 1198.6v-8.5 M325.6 688.3v8.5 M356 1198.6v-8.5 M356 688.3v8.5 M386.4 1198.6v-8.5 M386.4 688.3v8.5 M416.8 1198.6v-8.5 M416.8 688.3v8.5 M447.2 1198.6v-17 M447.2 688.3v17 M477.6 1198.6v-8.5 M477.6 688.3v8.5 M508 1198.6v-8.5 M508 688.3v8.5 M538.4 1198.6v-8.5 M538.4 688.3v8.5 M568.7 1198.6v-8.5 M568.7 688.3v8.5 M599.1 1198.6v-17 M599.1 688.3v17 M629.5 1198.6v-8.5 M629.5 688.3v8.5 M659.9 1198.6v-8.5 M659.9 688.3v8.5 M690.3 1198.6v-8.5 M690.3 688.3v8.5 M720.7 1198.6v-8.5 M720.7 688.3v8.5 M751.1 1198.6v-17 M751.1 688.3v17 M781.5 1198.6v-8.5 M781.5 688.3v8.5 M811.9 1198.6v-8.5 M811.9 688.3v8.5 M842.2 1198.6v-8.5 M842.2 688.3v8.5 M872.6 1198.6v-8.5 M872.6 688.3v8.5 M903 1198.6v-17 M903 688.3v17 M933.4 1198.6v-8.5 M933.4 688.3v8.5 M963.8 1198.6v-8.5 M963.8 688.3v8.5 M143.3 1162.1h8.5 M979 1162.1h-8.5 M143.3 1125.7h17 M979 1125.7h-17 M143.3 1089.2h8.5 M979 1089.2h-8.5 M143.3 1052.8h17 M979 1052.8h-17 M143.3 1016.3h8.5 M979 1016.3h-8.5 M143.3 979.9h17 M979 979.9h-17 M143.3 943.4h8.5 M979 943.4h-8.5 M143.3 907h17 M979 907h-17 M143.3 870.5h8.5 M979 870.5h-8.5 M143.3 834.1h17 M979 834.1h-17 M143.3 797.6h8.5 M979 797.6h-8.5 M143.3 761.2h17 M979 761.2h-17 M143.3 724.8h8.5 M979 724.8h-8.5" stroke="#000" stroke-width="4.1" fill="none"/>
<rect x="143.3" y="688.3" width="835.7" height="510.3" fill="none" stroke="#000" stroke-width="4.1"/>
<path d="M145.7 793L145.7 831.7L145.7 793L146.2 838.4L146.9 793.6L147.4 856.5L147.5 793.8L147.5 858.7L148 802.9L148.7 852.8L149.2 825L149.7 857.2L149.7 831.3L149.8 856.4L150.5 832.3L151 848L151.6 833.8L152 854.2L152 834.3L152.1 853.7L152.8 835.2L153.4 852.1L154 842.2L154.7 852.6L155 837.3L155 852.7L155.2 840.6L155.9 856.4L156.5 839.1L157.2 861.5L157.2 829.8L157.2 861.7L157.8 833.8L158.4 859.1L158.9 826.4L159.5 863.4L160.1 828.5L160.2 864.7L160.2 823.8L160.7 850.1L161.4 839.6L162.1 864.2L162.5 823L162.5 864.7L162.6 827.1L163.2 860.3L163.8 824.1L164.4 863L165.1 825L165.5 867.7L165.5 825.3L165.7 854.7L166.3 840.9L166.8 864.3L167.5 824.7L167.7 864.7L167.7 823L168.1 861.8L168.7 824L169.4 864.7L169.9 825.8L170.6 855L170.7 826L170.7 864.7L171.1 827.5L171.8 862.9L172.4 827.9L173 861.7L173 823.8L173 861.7L173.5 821.7L174.2 850.5L174.9 822.5L175.2 849.7L175.2 814.8L175.4 843.3L176.1 813.9L176.6 848L177.2 811.6L177.5 848.2L177.5 811L177.7 848.5L178.4 811.9L179 851.1L179.5 821.8L179.7 852.7L179.7 813.3L180.1 856.5L180.7 820.5L181.3 855.2L181.8 818.2L182 876.7L182 814.8L182.5 874.5L183.1 811.7L183.7 877.8L184.2 803.5L184.2 878.2L184.3 815.8L185 866.5L185.6 803.2L186.3 872.7L186.5 802.8L186.5 872.2L186.9 803.3L187.5 874.7L188.1 814.9L188.7 879.1L188.7 805L188.7 879.7L189.3 815.6L190 861.2L190.6 819.1L191 846.7L191 805.8L191.2 848.5L191.8 807L192.4 851.3L193 806.6L193.2 873.7L193.2 806.5L193.5 872.2L194.2 808.8L194.8 871.6L195.4 814.7L195.5 870.7L195.5 808.8L196 868.5L196.7 824.2L197.2 873L197.7 837.3L197.7 873.7L197.8 838.1L198.4 871.9L198.9 843.3L199.5 868.7L200 847.8L200 867.7L200.2 850.1L200.8 866.2L201.3 854L202 872L202.2 855.3L202.2 873.7L202.6 857.5L203.2 873.7L203.8 865.1L204.5 873.1L204.5 868.8L204.5 873.7L205.1 870.9L205.6 875.8L206.3 871.6L206.8 878.1L207.5 872.8L208.1 880.9L208.8 875.5L209 882.7L209 874.8L209.4 880L210 875.8L210.6 883.4L211.3 877.1L211.8 884.5L212.3 878.3L212.9 885.1L213.4 879.2L213.5 885.7L213.5 879.3L214.1 885.5L214.7 879L215.3 883.6L216 879.2L216.5 885.7L216.5 877.8L216.6 885.6L217.1 877.1L217.6 884L218.3 867.2L218.7 884.2L218.7 864.3L218.8 883.4L219.5 852.2L220.2 882.7L220.2 834.3L220.2 882.7L220.9 835.2L221.4 868L222.1 845L222.5 873.7L222.5 831.3L222.7 860.6L223.3 830.4L224 871.8L224.3 822.3L224.3 873.7L224.5 826.6L225.2 863.3L225.7 824.1L226.2 882.7L226.2 823L226.2 881.9L226.9 851.7L227.5 887.8L227.7 879.3L227.7 888.7L228.1 882.1L228.7 891.2L229.2 886.2L229.9 894.4L230 889.8L230 894.7L230.5 890.9L231.2 897.1L231.9 893.7L232.4 899.4L233 895.8L233 900.7L233 896.2L233.6 902.5L234.3 898.6L234.8 905.4L235.3 902.2L235.9 908.1L236 901.8L236 909.7L236.5 904.3L237.1 915L237.8 906.7L238.2 927.7L238.2 906.3L238.4 925L238.9 910.8L239.6 935.3L239.7 912.3L239.7 938.2L240.2 917.2L240.9 937.2L241.4 908.5L241.9 924.6L242 903.3L242 936.7L242.5 903.4L243.2 922.6L243.7 898.3L243.9 927.7L243.9 896.5L244.3 926.5L244.8 906.2L245.4 927L246 906.9L246.5 927.7L246.5 901.8L246.6 927.2L247.2 904.9L247.8 930.2L248.3 913.8L248.7 945.7L248.7 910.8L248.9 942.9L249.5 917.8L250.2 946.7L250.9 908.3L251 947.2L251 903.3L251.4 947.5L251.9 916.5L252.6 947.9L252.8 912.3L252.8 948.7L253.1 913.9L253.7 951.2L254.2 919.4L254.7 954.7L254.7 921.3L254.9 955.2L255.5 930.3L256 958.1L256.5 939L257 960.7L257 943.8L257.2 957.1L257.8 953.5L258.4 964.5L259.1 958.8L259.2 966.7L259.2 958.8L259.8 969.5L260.4 965.2L260.9 975.3L260.9 966.4L261 975.6L261.6 968.3L262.2 975.4L262.8 971.6L263.5 979.6L264 976.8L264.3 982.1L264.3 975.6L264.6 982.3L265.2 977.3L265.8 984.4L266.3 980.1L266.9 984.4L267.6 982.3L267.8 987.8L267.8 982.4L268.3 987.7L268.9 983.1L269.6 987.8L270.2 983.3L270.8 986.3L271.2 983.6L271.2 987.8L271.4 983L272 987.3L272.6 980.1L272.6 987.8L272.7 980L273.3 985.6L273.5 960.7L273.5 986.7L273.9 970L274.4 986.7L274.4 980.1L274.5 985.8L275.2 982.3L275.7 984.3L275.8 980.1L275.8 986.7L276.3 980.7L276.8 987.4L277.4 982.2L278.1 989.7L278.7 982.8L279.2 991.2L279.2 982.4L279.3 991.9L280 986.6L280.6 1005L281.3 989.2L281.5 1014L281.5 989.3L281.9 1016.1L282.5 1005.8L283.1 1026.5L283.7 1005.2L283.7 1036.9L283.7 1015.5L284.2 1038.5L284.9 1009.9L285.5 1034L286 1008.5L286.5 1043.2L287.1 1010.2L287.2 1050.5L287.2 1009.8L287.7 1050.2L288.4 1015.3L288.9 1039.1L289.4 1009.2L289.9 1050.5L289.9 1005.2L290 1050.6L290.6 1007.8L291.1 1051.9L291.7 1021.2L292.2 1053.2L292.9 1024.7L292.9 1054L292.9 1016.6L293.6 1053.8L294.1 1020.6L294.8 1051.3L295.5 1022.8L296.1 1049.1L296.3 1024.6L296.3 1052.8L296.6 1026L297.3 1047L297.9 1030.5L298.3 1054L298.3 1023.5L298.6 1058.9L299.2 1023.7L299.3 1077.9L299.3 1023.5L299.7 1051.6L300.2 1016.6L300.2 1050.5L300.3 1019.3L301 1044.9L301.6 1016L302 1048.3L302 1012.1L302.1 1047.6L302.7 1015.1L303.3 1038.5L303.9 999.8L304.3 1036.9L304.3 996.1L304.4 1036L305 1006.9L305.7 1027.4L306.3 1000.6L306.8 1019.5L307.4 996.2L307.7 1014L307.7 996.1L308.1 1011.8L308.8 993.9L309.4 1005L310.1 989.2L310.6 998.5L310.7 984.7L310.7 998.1L311.1 984L311.7 994.5L312.3 976.5L312.9 987.3L313.4 971L313.4 988.9L313.5 974.5L314.2 982.3L314.8 969.2L315.4 977L316 967.8L316.1 973L316.1 967.6L316.7 973.3L317.4 968.5L318 973.5L318.7 969.4L319.2 974.6L319.8 969.7L320.2 975.3L320.2 969.9L320.5 975.4L321.2 970.3L321.9 975.5L322.5 971.5L322.9 977L323.6 971L323.7 977.5L323.7 971L324.1 978.2L324.7 973.5L325.4 981.7L325.9 977.2L326.6 988.7L326.6 975.6L326.6 988.9L327.1 975.6L327.6 988.7L328.3 976.3L328.8 990.7L329.4 975.6L329.4 991.2L329.5 975.2L330.1 982L330.7 971L331.3 982L331.8 950.3L332 978.7L332 948.3L332.5 973.2L333.1 949.7L333.7 959.2L334.2 940.8L334.2 954.7L334.3 941.1L334.9 951.8L335.5 930L336.1 944.9L336.5 921.3L336.5 945.7L336.8 920.9L337.4 940.8L338.1 915.5L338.7 938.2L338.7 910.8L338.7 935.8L339.3 911.5L339.9 932.7L340.5 919.7L341 933.7L341 913.8L341.1 930.5L341.7 913.4L342.2 932.1L342.7 916.1L343.2 930.7L343.2 912.3L343.3 930.4L343.9 917.8L344.6 926.9L345.2 910L345.5 924.7L345.5 909.3L345.7 922.7L346.2 909L346.9 920.1L347.5 910.1L347.7 921.7L347.7 906.3L348.2 918.1L348.9 902.7L349.5 909.8L350 891.3L350 906.7L350.1 891.5L350.8 903.8L351.5 887.5L351.8 900.7L351.8 883L352.1 899.8L352.8 882.7L353.5 892.7L353.7 882.3L353.7 896.2L354.1 881.5L354.6 895L355.2 879.2L355.8 890.2L356 877L356 893.2L356.3 879.6L356.8 889.1L357.3 877.7L358 885.1L358.2 877.8L358.2 887.2L358.5 877.4L359.2 887.9L359.8 874.4L360.2 888.7L360.2 873.3L360.3 888.2L360.8 873.3L361.1 890.2L361.1 873.3L361.5 904.5L361.7 873.3L361.7 918.7L362.2 873.3L362.3 891.7L362.3 873.3L362.7 889.9L363.3 873.3L363.5 891.7L363.5 873.3L364 893.4L364.6 878.9L365.2 898.5L365.7 880.8L365.7 900.7L365.8 880.9L366.4 902L367.1 882.4L367.8 910.1L368 882.3L368 930.7L368.4 895.4L368.9 915.8L369.6 904.4L370.2 930.4L370.2 888.3L370.2 936.7L370.8 896L371.3 934.8L372 904.5L372.5 943.4L372.5 903.3L372.7 928.3L373.3 897.5L373.9 940.9L374.5 907.1L374.7 939.7L374.7 885.3L375 937.5L375.7 894.7L376.2 938.1L376.8 881.4L377 939.7L377 880.8L377.5 933.9L378.2 882.4L378.7 937.9L379.2 883.8L379.2 938.2L379.3 883.8L379.9 936.4L380.4 892.6L381 918.9L381.5 876.3L381.5 935.2L381.6 891L382.2 930.8L382.9 874.5L383.6 926L383.7 871.8L383.7 930.7L384.3 872.2L384.9 928.4L385.6 889.7L386 927.7L386 873.3L386.3 923.3L386.8 888.1L387.3 902.9L388 871.7L388.2 903.7L388.2 864.3L388.6 903.5L389.2 858.1L389.8 897.2L390.2 849.3L390.2 903.7L390.5 850.6L391.1 890.3L391.7 844.1L392 876.7L392 838.8L392.3 876.3L392.9 841.5L393.5 862L394 841.9L394.2 873.7L394.2 835.8L394.6 871.1L395.3 836.2L395.9 861L396.4 837.2L396.5 876.7L396.5 834.3L397.1 860.4L397.6 838.8L398.3 856.1L398.7 831.3L398.7 852.7L398.9 831.3L399.6 846.5L400.3 834.6L401 835.7L401.6 830.3L401.7 833.2L401.7 828.3L402.2 836.2L402.8 829.5L403.4 842.1L404 836.1L404 846.7L404 830.5L404.5 850.2L405 843.7L405.7 862.4L406.2 837.3L406.2 872.2L406.4 839.1L407 872L407.7 847.2L408.2 872.1L408.5 849.3L408.5 872.2L408.8 849.2L409.5 870.6L410 847.6L410.6 861.4L410.7 846.3L410.7 870.7L411.2 848.2L411.9 869.9L412.5 845.2L413 869.2L413 844.8L413 869L413.6 852.9L414.2 867.3L414.8 856.3L415.2 866.2L415.2 852.3L415.4 862.4L416 855.6L416.6 877L417.3 857.7L417.5 890.2L417.5 858.3L417.8 890.4L418.5 861.1L419.1 891.3L419.7 861.3L419.7 891.7L419.7 872.4L420.2 879.9L420.8 862L421.3 886.8L422 863.5L422 890.2L422 862.8L422.6 885.3L423.3 861L423.9 876L424.2 859.8L424.2 873.7L424.4 863.3L425 869L425.7 858.1L426.3 862.9L426.5 856.8L426.5 861.7L426.9 857.6L427.6 860.3L428.1 854.3L428.7 858.7L428.7 852.3L428.7 857.8L429.4 853.7L430.1 866.6L430.7 856.2L431 872.2L431 856.8L431.2 868.6L431.9 861.1L432.4 872.1L432.9 866.5L433.6 871.1L434 867.3L434 872.2L434.1 867.3L434.7 873.3L435.3 867.4L436 875.2L436.6 867.5L437 876.7L437 867.3L437.1 876.8L437.7 868.4L438.3 878.8L438.4 869.3L438.4 879.3L438.9 873.5L439.5 885.2L440.1 872.8L440.8 892.1L441.3 881.6L441.5 896L441.5 875.6L441.9 896.9L442.4 881.2L443.1 900.2L443.8 888.9L444.4 903.6L444.7 894.4L444.7 904.4L444.9 894.3L445.6 904.1L446.2 896.5L446.9 903.7L447.5 892.6L447.8 903.4L447.8 892.3L448 902.8L448.6 884.3L449.2 892.8L449.8 868L450.5 897L451 852.5L451 896L451.2 862L451.8 860.6L452.4 811.5L452.5 843.7L452.5 804.3L453.1 838L453.7 804.5L454.3 841.6L454.8 801.3L454.8 841.7L454.8 806.5L455.3 835.3L455.9 810.7L456.5 831.6L457 793.5L457.7 826.7L457.8 790.8L457.8 836.7L458.3 791.7L458.9 833.7L459.6 794.8L460.3 813.6L460.8 787.8L460.8 828.7L460.9 787.2L461.6 826.5L462.1 789.9L462.7 822L463 775.1L463 822.7L463.4 786.4L464 810.8L464.7 779.8L465.2 818.2L465.7 772.8L465.7 820.7L465.8 774.2L466.5 824.1L467 797.7L467.5 828.7L467.5 786.3L467.6 828.8L468.2 796.6L468.8 830.1L469.3 789.9L469.8 834.7L469.8 790.8L470 820L470.6 796.8L471.2 838.1L471.9 800.6L472 840.7L472 790.8L472.4 842.6L472.9 796.9L473.5 848.2L474.1 807.8L474.2 851.7L474.2 786.3L474.7 842.7L475.4 790.9L475.8 854.7L475.8 792.3L476 853.1L476.7 805.5L477.2 858.6L477.2 813.3L477.2 858.7L477.7 816.4L478.3 852.7L479 822.6L479.5 860.7L479.5 825.3L479.6 858L480.1 823.9L480.3 862.5L480.3 823.2L480.7 862.6L481.2 843.2L481.8 854.6L482.3 837L483 858L483.4 844.2L483.4 868.8L483.5 845L484.1 869.3L484.7 848.3L485.2 862.6L485.8 856.3L486.4 869.7L486.6 854.6L486.6 870.9L487 854.2L487.6 868.5L488.2 850L488.8 869.7L489.4 846.1L489.7 870.9L489.7 845.2L490 870.4L490.6 858.1L491.2 872.2L491.7 855.5L492.3 871.7L492.9 860.9L492.9 875.1L492.9 862.2L493.5 874.2L494.1 858.5L494.6 872.4L495.2 859.2L495.9 869.6L496 852.5L496 870.9L496.4 852.5L497.1 867.9L497.8 847.2L498.4 857.9L499.1 846.6L499.1 862.5L499.1 843.1L499.6 861.9L500.3 844L500.8 862.2L501.3 849.9L501.9 861.6L502.3 843.1L502.3 862.5L502.4 845.7L503 867.7L503.6 851.6L504.2 877.9L504.7 857.4L505.3 879.3L505.4 860.9L505.4 887.6L506 863.3L506.6 885L507.2 869.7L507.8 888.6L508.3 869L508.6 889.7L508.6 869.3L509 888.1L509.5 869.7L510.1 883.5L510.8 868.9L511.4 884.2L511.7 858.8L511.7 883.5L512.1 858.5L512.7 879.7L513.2 862.8L513.8 873.4L514.3 857L514.9 867.7L515.4 857L515.9 866.7L515.9 855.7L516.1 868.4L516.7 858.2L517.3 877.9L518 862.4L518.7 888.6L519 865.1L519 891.8L519.3 871.2L519.9 895.5L520.5 874L521 906.6L521.6 887.8L522.2 915.9L522.2 881.9L522.3 915.6L522.9 894.5L523.5 906.7L524.1 887.4L524.3 915.9L524.3 879.8L524.8 909L525.3 864.7L525.9 896.8L526.4 842.1L526.4 896L526.5 849.9L527 889.7L527.7 849.9L528.3 874L528.9 839.4L529.4 862.9L529.5 837.9L529.5 862.5L529.9 835.7L530.6 851.1L531.1 829.1L531.8 846L532.4 824.3L532.7 860.4L532.7 814.8L532.9 859.7L533.6 826.6L534.1 847.9L534.8 813.4L535.4 858.1L535.8 812.7L535.8 858.3L536.1 813.9L536.8 852.4L537.3 815.9L537.9 858.4L538.6 814.6L538.9 860.4L538.9 814.8L539.3 846.2L539.8 822.2L540.5 848.3L541 829.7L541.7 855.2L542.1 821.1L542.1 862.5L542.2 823.9L542.7 862.5L543.4 834.3L544 862.5L544.6 827.3L545.2 853.9L545.2 825.3L545.2 862.5L545.8 836.9L546.5 856.9L547.2 841L547.7 863.1L548.4 832.1L548.4 864.6L548.4 831.6L549 864.2L549.6 839.4L550.1 863.2L550.7 837.8L551.2 853.6L551.5 829.5L551.5 862.5L551.9 833.6L552.6 853.5L553.2 834.1L553.7 852.8L554.4 833.3L554.7 860.4L554.7 833.7L554.9 860.2L555.6 833.3L556.1 849.2L556.6 834.2L557.3 850.3L557.8 831.6L557.8 858.3L557.8 831.6L558.3 855.8L559 836.7L559.7 854.1L560.2 834L560.9 855.2L560.9 823.2L560.9 858.3L561.4 822L562.1 855.9L562.4 819L562.4 858.3L562.7 820.7L563.3 856.9L563.9 828.7L564.5 854.8L565.1 831.9L565.1 854.1L565.1 831.6L565.8 848.1L566.3 840.3L566.9 851.4L567.5 843L568.1 856.3L568.3 842.1L568.3 865.6L568.6 843.1L569.2 861L569.9 846.4L570.5 861.9L571.2 851.1L571.4 865.6L571.4 850.4L571.8 864.6L572.4 846.2L573 856.4L573.7 839.9L574.4 858.8L574.6 835.8L574.6 858.3L575.1 835.9L575.6 857.9L576.2 838.2L576.7 857.6L577.2 837.5L577.7 857.3L577.7 835.8L577.8 857.1L578.3 821.5L579 850.8L579.2 801.3L579.2 854.7L579.5 808L580.1 845.7L580.7 774.2L581.2 849.7L581.2 765.3L581.3 848.1L582 767.6L582.5 846.1L583 766.1L583 846.7L583.1 766.2L583.7 820.5L584.3 768.2L584.8 842.3L585.2 767.6L585.2 841.7L585.5 776.1L586.1 835.6L586.7 769.2L587.2 842.7L587.2 766.1L587.2 843.7L587.8 786.6L588.4 840.2L589 784L589.3 845.7L589.3 763.1L589.6 844L590.1 789.1L590.6 838.2L591.2 765.3L591.2 847.7L591.3 795.3L591.9 843.4L592.5 775.7L593.1 823.7L593.2 769.8L593.2 849.7L593.6 804.7L594.2 850.7L594.2 807.3L594.3 850.8L594.8 836.4L595 851.7L595 839.3L595.3 848.9L595.5 837.9L595.5 852L595.9 840.7L596.5 848.7L597.1 838.3L597.6 849.5L598.1 840.2L598.7 849.9L598.7 835.8L598.8 849.7L599.3 837.7L599.8 847.6L600.4 838.4L601.1 844.7L601.7 836.2L601.8 849.9L601.8 835.8L602.3 849.7L602.9 837.9L603.4 845.7L604 840.3L604.7 847.2L604.9 840L604.9 848.9L605.4 840.5L606 847.1L606.5 834.8L607.1 841L607.7 830.9L608.1 843.6L608.1 829.5L608.4 843L609 829L609.6 840.3L610.1 828.2L610.8 837.9L611.2 827.4L611.2 837.4L611.4 828.3L612 836.2L612.6 830.9L613.2 836L613.7 828.2L614.3 834.2L614.4 828.4L614.4 835.3L614.9 830.3L615.4 835.3L616.1 827.9L616.8 832.6L617.3 827.7L617.5 835.3L617.5 827.4L617.9 834.3L618.4 826.9L619.1 832.2L619.7 826.5L620.4 835.3L620.7 825.3L620.7 835.3L620.9 824.8L621.5 833.3L622.1 823.5L622.7 832.6L623.4 820.3L623.8 831.1L623.8 819L624 827.3L624.6 820.8L625.1 827.4L625.7 815.2L626.4 822.4L626.9 811.8L626.9 824.8L626.9 811.7L627.4 824.1L628.1 812.1L628.7 821.6L629.2 816L629.8 820.9L630.1 812.7L630.1 820.6L630.4 812.9L630.9 820.1L631.5 815.9L632.1 819.5L632.7 814.5L633.2 820.6L633.2 814.8L633.3 820.2L634 814.3L634.6 820L635.2 813.5L635.8 820.6L636.4 812.5L636.9 818.3L637.4 811.7L637.4 820.6L637.6 812L638.3 818.6L638.9 814.1L639.5 820.6L640.2 817.7L640.6 824.8L640.6 816.9L640.9 825.2L641.5 820L642.1 827.7L642.7 823.4L643.3 829.8L643.7 822.2L643.7 833.2L643.9 823L644.6 836.1L645.1 829.1L645.6 837.9L646.2 831.5L646.8 843.6L646.8 833.7L646.9 843.4L647.6 836.8L648.2 844.4L648.7 839.2L649.2 843.9L649.8 840.6L650 845.7L650 841L650.5 844.4L651.1 841L651.7 845.1L652.3 841.7L652.8 843.5L653.5 841.3L654.1 844.5L654.2 841L654.2 844.7L654.7 840.8L655.2 843.2L655.8 840.3L656.4 843.5L657 840L657.6 842.6L658.2 839.1L658.4 842.6L658.4 838.9L658.8 842.1L659.5 837.2L660 842L660.5 835.4L661.2 840.6L661.5 833.7L661.5 841.6L661.9 832.3L662.6 839.6L663.1 826.8L663.6 839.5L663.6 818L663.7 836.4L664.3 820.5L665 836.6L665.5 821.8L666.2 834.2L666.7 821.1L666.7 833.2L666.9 822.9L667.5 833.1L668 823.3L668.7 833.1L669.3 825.4L669.9 833.2L669.9 826.3L669.9 832.7L670.4 825.5L671.1 832.2L671.6 822.3L672.2 826.9L672.6 819L672.6 831.1L672.8 818.6L673.3 830.2L673.5 816.9L673.5 830L674 803.4L674.1 829L674.1 793.9L674.7 837.4L674.7 812.7L674.7 837.3L675.3 820.1L675.5 841.6L675.5 810.6L676 839.3L676.5 820.1L677 840.5L677.5 814.1L678.1 839.7L678.3 814.8L678.3 839.5L678.8 818.4L679.4 832.6L680 815.8L680.6 832.8L681.1 814.9L681.4 833.2L681.4 812.7L681.7 828.8L682.3 812.4L683 831L683.6 812L684.3 834.8L684.6 811.7L684.6 835.3L684.9 813.4L685.5 834.1L686.1 815.1L686.7 836.9L687.4 815.8L687.7 839.5L687.7 814.8L688 830.8L688.5 813.5L689.1 836.5L689.7 812.4L690.3 840.1L690.8 808.5L690.8 841.6L690.8 811.5L691.4 841.9L691.9 812.1L692.6 840.5L693.2 810L693.8 840.4L694 810.6L694 843.6L694.3 811.3L694.9 842.2L695.4 814.9L696 841.9L696.6 816.2L697.1 841.6L697.1 816.9L697.3 839.1L697.9 818.8L698.5 839.1L699 820.7L699.6 839.9L700.2 823L700.3 839.5L700.3 823.2L700.8 839.2L701.4 824.9L702 835.2L702.6 827.2L703.3 837.8L703.9 829L704.5 837.4L704.5 829.5L704.6 837.3L705.3 829.3L705.8 837.4L706.5 829.3L707.1 836.9L707.7 828.7L708.3 837.4L708.7 828.4L708.7 837.4L708.9 828.9L709.5 837.1L710.1 830.9L710.7 839.8L711.4 833L711.8 841.6L711.8 833.7L711.9 841.3L712.6 835.3L713.1 842.4L713.8 839.4L714.4 845.9L714.9 840L714.9 847.8L715 841L715.7 849.3L716.3 843.5L717 852.8L717.6 847.4L718.1 856.2L718.1 846.2L718.3 857.2L718.8 850L719.4 863.2L720 853.3L720.7 865.7L721.2 852.5L721.2 875.1L721.4 853.8L722.1 882.9L722.6 863.4L723.2 893.9L723.3 854.6L723.3 895L723.9 855L724.5 887.1L725 854.6L725 895L725 865.2L725.7 882.8L726.4 855.9L726.9 865.9L727.1 853.6L727.1 862.5L727.5 854.1L728.1 859.4L728.7 855L729.3 862.9L729.7 854.9L729.7 863.1L729.8 855.9L730.4 864.7L731 858.6L731.7 868L732.3 864.2L732.4 870.2L732.4 862.1L732.8 870.3L733.4 865.5L734 873.5L734.6 870.8L735.2 875.1L735.8 875L736 877.4L736 874.6L736.3 877.2L736.9 873.7L737.6 876.2L738.3 872.7L739 875.8L739.5 873L739.6 875.6L739.6 871.1L740.2 875.3L740.9 869.8L741.5 873.6L742.1 868.7L742.7 872L743.2 867.5L743.2 873.8L743.3 867.6L744 874.6L744.5 868.6L745 880.4L745.5 866.7L745.9 888.2L745.9 865.7L746.1 880.6L746.6 867.1L747.2 885.9L747.7 872.3L748.3 888.6L748.6 867.5L748.6 890L748.9 870L749.6 888.6L750.1 871.2L750.8 887.1L751.3 864.8L751.3 886.4L751.3 865.9L751.9 881.8L752.5 872.6L753.2 883.2L753.9 870.5L754 882.8L754 865.7L754.5 878.1L755.2 862L755.8 880.4L756.3 856.9L756.7 879.2L756.7 854.9L756.8 878.2L757.5 854.5L758.1 872.8L758.6 854.3L759.3 868.6L759.4 853.1L759.4 868.5L759.9 855.5L760.4 872.6L761 864.8L761.7 877.4L762.1 865.7L762.1 879.2L762.3 865L763 877.8L763.6 861.2L764.3 878.2L764.7 856.7L764.7 879.2L764.9 856.1L765.4 878.6L766.1 847.6L766.5 879.2L766.5 843.2L766.6 878.7L767.3 855.5L767.9 878.2L768.6 844.8L768.9 882.8L768.9 844.1L769.1 881.8L769.8 858L770.5 878.2L771 865.7L771 886.4L771.1 868.3L771.7 880.7L772.3 872.5L772.8 888.7L773.3 864.8L773.7 890L773.7 863.9L773.8 886.1L774.4 869.8L775 888.9L775.6 871.7L776.2 886.7L776.4 869.3L776.4 893.6L776.8 871L777.4 894.9L778.1 872.8L778.7 891.8L779.1 874.6L779.1 897.2L779.3 874.6L779.9 897.9L780.5 876.1L781.1 896.9L781.7 876.6L781.8 900.8L781.8 874.6L782.4 901.3L783 876.2L783.6 903.2L784.3 878.2L784.5 904.4L784.5 878.2L784.9 904.8L785.5 879.5L786 898.5L786.6 886.2L787.2 907.9L787.2 881.8L787.2 899.7L787.8 883.5L788.5 911.2L789.1 887L789.7 909.7L789.9 889L789.9 920.5L790.4 900.5L790.9 915.9L791.4 889L792.1 922L792.2 889L792.2 925.9L792.8 887.1L793.3 920.2L794 883.2L794.4 915.1L794.4 881.8L794.7 905L795.2 881L795.9 897.4L796.5 873.6L797.1 904.4L797.1 871.1L797.1 894.9L797.8 881.3L798.3 903L798.8 877.2L799.5 901.3L799.8 872.8L799.8 902.6L800 873.9L800.6 901.6L801.1 879.3L801.7 902.1L802.3 885.2L802.4 909.7L802.4 885.4L803 912.1L803.6 897.5L804.3 916.7L804.9 897.5L805.1 920.5L805.1 898L805.4 920.9L805.9 900.8L806.5 917.7L807 903.4L807.6 922.4L807.8 905.2L807.8 924.1L808.1 904.7L808.7 922.2L809.2 897.3L809.7 918.7L810.2 889L810.2 918.7L810.3 889L810.9 914.9L811.5 899L812 917L812.3 889L812.3 916.9L812.7 891L813.2 911.7L813.9 897.4L814.5 912.4L815 903.4L815 918.7L815.1 908.4L815.6 918.3L816.3 905.1L816.9 919.7L817.5 907.2L817.7 920.5L817.7 907L818 920.3L818.5 911L819.1 919.4L819.8 909.7L820.4 922.3L820.4 910.5L820.4 918.9L821 912.4L821.6 923.9L822.1 910.7L822.8 920.9L823.1 910.5L823.1 925.9L823.4 912L824.1 924.3L824.6 906.5L825.3 920.5L825.8 903.4L825.8 922.3L826 904.7L826.5 919.5L827.2 900.3L827.9 917.4L828.4 888.6L828.5 916.9L828.5 887.2L829 911.9L829.6 888.2L830.3 915.6L830.8 884.6L831.2 915.1L831.2 881.8L831.3 915.1L831.9 878.1L832.4 914.8L833 884.6L833.5 915.1L833.5 869.3L833.6 900.2L834.2 871.6L834.8 914.3L835.5 878.8L835.7 916.9L835.7 876.4L836.2 915.7L836.8 878.7L837.5 918.9L838 885.4L838.3 920.5L838.3 881.8L838.5 919.3L839.2 886.8L839.8 921.5L840.5 886L841 922.3L841 867.5L841.2 919.3L841.9 873.1L842.4 923.2L842.9 867.5L843.5 923.8L843.7 865.7L843.7 924.1L844.1 867.5L844.7 899.4L845.3 870L845.9 916.3L846.4 858.5L846.4 915.1L846.4 861.5L847.1 907.2L847.7 859.5L848.4 907.7L849.1 877.9L849.1 909.7L849.1 860.3L849.7 902.8L850.3 862.2L851 886.2L851.6 866L851.8 897.2L851.8 863.9L852.1 895.3L852.8 858.7L853.5 878.8L854 851L854.5 890L854.5 847.7L854.7 879.4L855.3 850.6L855.9 874.3L856.3 826.2L856.3 886.4L856.5 834.8L857.1 867.5L857.6 824.5L858.1 875.6L858.1 823.5L858.2 862.8L858.8 831.6L859.4 857.8L860 832.5L860.6 851.4L860.8 829.8L860.8 859.5L861.2 832.9L861.8 857.1L862.5 835L863.2 854.7L863.5 831.6L863.5 854.1L863.8 832.5L864.5 853.3L865.2 835.8L865.8 852.5L866.2 835.2L866.2 852.3L866.5 840.5L867.1 850.5L867.6 838.4L868.3 849.8L868.9 841.4L868.9 852.3L868.9 840.5L869.4 851L869.9 839.8L870.6 849.8L871.1 839L871.6 850.5L871.6 838.7L871.8 849.7L872.3 836.2L872.9 845.8L873.5 836.2L874.2 841.5L874.2 829.8L874.2 841.5L874.8 828.5L875.5 836.3L876.2 826.1L876.8 829.9L876.9 824.4L876.9 832.6L877.4 823.2L877.9 830.5L878.5 820.1L879.2 826.8L879.6 817.2L879.6 827.2L879.7 816.9L880.3 823.4L880.9 810.1L881.5 818.2L882 801L882 820L882.1 801.1L882.7 814L883.3 798.9L883.9 813.2L884.1 797.5L884.1 816.4L884.4 800.6L885.1 805.3L885.7 797.8L886.3 802.8L886.8 794.8L886.8 802L887 796.6L887.6 799.3L888.2 794.1L888.8 799.4L889.5 793.7L889.5 800.2L889.5 791.2L890.1 800.6L890.7 795.5L891.2 802.5L891.8 796.7L892.2 803.8L892.2 796.6L892.3 802.4L892.8 799.5L893.4 803.3L894 798L894.7 805.3L894.9 798.4L894.9 805.6L895.2 799.8L895.8 805.4L896.4 799.9L897.1 807L897.6 801L897.6 807.4L897.8 801.7L898.3 807.9L898.9 803L899.6 809.3L900.1 804.5L900.3 811L900.3 804.6L900.7 811.6L901.4 805.7L902 813.7L902.6 806.9L903 815.5L903 807.3L903.3 815.1L903.9 809.6L904.4 814L905 807.8L905.6 810.6L905.7 806.4L905.7 812.8L906.2 806.8L906.8 813.6L907.5 809.1L908 813.6L908.3 808.2L908.3 814.6L908.6 808.5L909.1 815L909.7 809.1L910.4 815.2L910.9 810.2L911 816.4L911 810L911.5 816.3L912.2 812.1L912.7 816.5L913.3 812.3L913.7 818.2L913.7 812.7L913.8 818.4L914.3 814.2L914.8 822.5L915.4 815L916 827.3L916.4 816.3L916.4 829L916.5 816.4L917.1 829.5L917.8 822.9L918.3 832.7L918.9 819.1L919.1 834.3L919.1 819L919.6 832.5L920.2 814.8L920.8 832.4L921.5 810L921.5 832.6L921.5 810L922.1 828.7L922.7 794.6L923.1 823.6L923.1 784.9L923.4 822.2L924 783.6L924.7 817.5L925.2 777.5L925.4 814.6L925.4 776.8L925.8 808.7L926.3 785L926.9 812.5L927.5 796.7L927.6 825.4L927.6 783.1L928.1 825.4L928.8 786.1L929.4 824.1L929.4 786.7L929.4 825.4L930 798.4L930.7 825.2L931.2 805.5L931.7 825.4L931.7 806.4L931.8 821.4L932.4 809.1L933 826.8L933.6 817.7L934.3 829.7L934.4 813.6L934.4 829.9L934.9 814.7L935.5 825.7L936.1 807.9L936.5 827.2L936.5 806.4L936.7 823.1L937.3 806.4L938 819.2L938.5 806.7L939 813.7L939.5 807.5L939.8 809.2L939.8 806.4L940.1 809.5L940.7 806.6L941.3 812.7L942 806.7L942.7 816.3L943.3 807.7L943.4 818.2L943.4 806.4L943.9 819.2L944.5 810.9L945.1 821.8L945.6 814.2L946 823.6L946 815.4L946.2 823.9L946.9 817.2L947.4 825.5L948 818.8L948.5 834.6L948.7 819.9L948.7 836.1L949.1 820.5L949.7 835.5L950.3 822.6L950.8 831.4L951.4 821.7L951.4 837.9L951.5 821.8L952 838.2L952.5 823.5L953.2 835.5L953.8 824.4L953.8 839.7L953.9 828.8L954.4 839.5L955 819.7L955.6 841.5L955.6 817.2L955.7 841.1L956.4 825.7L957 844.5L957.5 839L957.7 846.9L957.7 840.5L958.2 845.7L958.8 843.1L959.5 848.3L960.1 844.7L960.4 850.5L960.4 844.1L960.8 849.8L961.3 847.3L962 850.1L962.5 848.5L963.1 852.3L963.1 847.7L963.2 850.8L963.8 849.1L964.4 853.1L965 848.4L965.6 853.3L965.8 848.6L965.8 854.1L966.2 849.4L966.8 853.6L967.3 850.8L968 854.7L968.5 849.5L968.5 855L968.7 848.9L969.3 854.3L969.9 839.9L970.5 849.9L971.1 832.8L971.2 854.1L971.2 828L971.6 846.9L972.1 810.8L972.6 834.8L973 790.3L973 837.9L973.2 797.9L973.9 822.2L974.5 788.6L975.1 829.8L975.3 786.7L975.3 829L975.7 789.8L976.4 829L976.9 793.9" fill="none" stroke="#110B93" stroke-width="3.2" stroke-linejoin="round" stroke-linecap="butt"/>
<path d="M146.3 876.3L146.3 978.7L146.3 876.3L146.8 974.8L146.9 870.3L146.9 975.7L147.5 871.7L147.9 911.2L147.9 867.3L148.2 911L148.8 876.6L149.4 895L150.1 864.5L150.5 909.7L150.5 862.8L150.6 901.6L151.1 862.4L151.7 898.2L152.4 878.1L152.9 909.7L153.5 878.9L153.5 909.7L153.5 860.5L154 910.1L154.5 860.8L155 910.3L155.5 861.6L156.2 912.3L156.5 861.3L156.5 912.7L156.9 869.7L157.5 907.9L158.1 866.1L158.7 909.8L159.2 863.9L159.5 909.7L159.5 862.8L159.9 908.1L160.4 865.7L161.1 907.3L161.7 865.1L162.2 903.4L162.5 865.8L162.5 908.2L162.8 866.6L163.3 908.1L163.8 867.8L164.5 903.1L165.2 871.7L165.5 908.2L165.5 870.3L165.9 898.8L166.5 874.5L167.1 908.9L167.7 880L168.3 901.3L168.5 876.3L168.5 909.7L168.9 879.4L169.5 906.2L170 877.3L170.5 909.7L171.2 880.3L171.5 909.7L171.5 877.8L171.9 904.1L172.5 889.8L173.2 910.7L173.7 878.3L173.7 912.7L173.7 877.8L174.2 913.4L174.7 886.2L175.4 917.1L176 885.3L176 918.7L176.1 887.9L176.7 908.8L177.3 891.8L177.8 906.6L178.3 883L179 914.5L179 882.3L179 920.2L179.6 889.4L180.2 923.2L180.8 897L181.5 926.1L182 882.3L182 927.7L182 884L182.7 930.2L183.4 884.5L184 934.5L184.2 885.3L184.2 935.2L184.5 899.5L185.1 918.1L185.8 895.9L186.3 933.9L186.5 888.3L186.5 938.2L187 890.5L187.5 938.1L188.2 906.2L188.7 938.2L188.7 886.8L188.8 937.4L189.4 888.5L190 915.9L190.6 885.3L191 932.2L191 883.8L191.1 929.6L191.7 883.2L192.2 923.6L192.9 882.9L193.5 924.7L194 880.8L194 929.2L194.1 880.6L194.7 927L195.2 878.4L195.8 923.6L196.5 876.5L197 920.2L197 874.8L197.2 910L197.7 873.1L198.3 913.7L198.9 870L199.5 903.8L200 867.3L200 909.7L200.1 867.4L200.8 904.4L201.5 865.8L201.5 900.7L201.5 870.6L202 904.6L202.5 880.5L203 915.7L203 876.3L203.1 915.8L203.8 883.1L204.4 913.5L205 889.3L205.2 917.2L205.2 871.8L205.5 914L206.1 872.5L206.6 901.8L207.2 870.2L207.5 912.7L207.5 868.8L207.9 902.9L208.5 885.5L209.1 918.1L209.7 880L209.7 920.2L209.7 876.3L210.3 915.9L211 882.9L211.6 925.1L212 880.8L212 930.7L212.1 884.3L212.6 932.2L213.3 896L213.8 929.1L214.2 886.8L214.2 935.9L214.4 892.9L215.1 926.4L215.6 890.9L216.2 927.5L216.5 886.8L216.5 927.7L216.8 886.6L217.5 906.9L218 892.1L218.6 904L218.7 885.3L218.7 903.7L219.3 880.8L219.8 888.6L220.4 871.8L221 888.2L221 867.3L221 888.7L221.6 874.7L222.1 885.6L222.7 865.5L223.2 887.2L223.2 862.8L223.4 887.3L224.1 866.2L224.6 888.2L225.2 861.3L225.2 888.7L225.3 868.6L225.8 893.9L226.4 874.9L227 903.7L227 876.3L227 903L227.5 882L228.1 902.7L228.6 893.6L229.2 908.1L229.2 900.3L229.2 908.2L229.7 902.9L230.3 909.8L230.8 904.8L231.4 912.3L231.5 906.3L231.5 912.7L232 907.2L232.5 915.3L233 909.6L233.6 918.5L233.7 910.8L233.7 918.7L234.3 915.9L234.9 928.3L235.6 921.3L236 938.2L236 915.3L236.3 931.6L236.9 927.4L237.6 945.4L238.1 926.4L238.2 948.7L238.2 925.8L238.7 955.6L239.3 927.9L239.8 969.6L240.4 929.9L240.4 977.5L240.5 929.9L241 976.9L241.7 930.8L242.2 979.3L242.8 931.1L243.4 980.5L244 931.7L244.5 981.6L245 932.2L245 982.1L245 932.6L245.6 979.2L246.2 939.4L246.7 976.1L247.3 961.4L248 991.3L248.5 953.9L249.1 995.6L249.5 959.6L249.5 998.1L249.8 962.1L250.5 1002.4L251.1 975.5L251.6 1021.9L252.2 983.9L252.9 1026.7L252.9 984.7L252.9 1036.9L253.4 992.2L254.1 1046.3L254.8 1010.8L255.2 1055.1L255.2 1016.6L255.4 1047.7L255.9 1026.5L256.5 1061.2L257 1043.3L257.5 1073.4L257.5 1048.6L257.7 1069.2L258.3 1050.1L258.9 1074.6L259.5 1054.6L259.8 1077.9L259.8 1053.1L260.1 1076.8L260.7 1056.6L261.4 1073.6L261.9 1061.3L262.4 1077.3L263 1059.7L263.2 1077.9L263.2 1060L263.5 1080.6L264.1 1062L264.3 1089.3L264.3 1062.3L264.6 1085.5L265.2 1062.3L265.5 1077.9L265.5 1062.3L265.9 1073.2L266.5 1065.2L267.2 1076L267.7 1067.5L267.8 1075.6L267.8 1066.8L268.3 1075.2L268.9 1067.6L269.4 1074.5L270.1 1068.3L270.8 1072.7L271.2 1068L271.2 1073.4L271.3 1068.3L272 1070.5L272.6 1062.3L272.6 1072.2L272.7 1058.8L273.2 1071.3L273.5 1030.3L273.5 1071.1L273.9 1047.4L274.4 1069.9L274.4 1060L274.5 1069.8L275.1 1062.2L275.6 1067L275.8 1062.3L275.8 1068.8L276.2 1063.9L276.9 1068.4L277.5 1061.3L278.1 1068.1L278.7 1060.5L279.2 1068.8L279.2 1060L279.3 1067.4L279.8 1062.2L280.4 1068.3L281 1060.5L281.6 1068.6L282.1 1057.2L282.6 1068.7L283.2 1056.1L283.7 1068.8L283.7 1055.4L283.9 1068.4L284.6 1055.4L285.3 1066.1L286 1058.4L286.6 1070.2L287.3 1060.7L287.8 1068.1L288.3 1055.4L288.3 1071.1L288.5 1058.3L289.2 1069L289.7 1056.3L290.3 1070L290.9 1056.3L291.4 1069.3L292.1 1057.7L292.7 1068.6L292.9 1056.6L292.9 1068.8L293.3 1059.6L293.8 1069.2L294.4 1056.3L294.9 1069.7L295.5 1055.9L296 1069.9L296.7 1060.5L297.4 1070.4L297.4 1055.4L297.4 1071.1L297.9 1057.1L298.5 1069.3L299.2 1058.7L299.9 1067L300.5 1061.9L301.2 1067.2L301.8 1061.7L302 1068.8L302 1057.7L302.4 1068.5L303.1 1056.7L303.7 1068.1L304.3 1057.1L304.9 1067.5L305.5 1055L306 1068.4L306.5 1054.5L306.6 1068.8L306.6 1053.1L307 1068.5L307.7 1054.8L308.2 1068L308.9 1052.5L309.4 1066.5L310.1 1052.7L310.6 1065.9L311.1 1050.9L311.1 1066.5L311.2 1056L311.9 1064.9L312.5 1051.4L313 1062.6L313.6 1047.4L314.2 1059.3L314.5 1044L314.5 1059.7L314.8 1046.5L315.4 1059.5L315.9 1045.9L316.6 1058.5L317.2 1047.9L317.8 1059.7L318 1048.6L318 1059.7L318.4 1051.9L319.1 1060.4L319.7 1053.7L320.3 1060.8L321 1052.6L321.4 1062L321.4 1053.1L321.6 1060L322.3 1054.3L322.9 1060L323.4 1049.2L324 1058.2L324.7 1047.6L324.8 1057.4L324.8 1046.3L325.4 1056L325.9 1044.9L326.4 1054.5L327 1046.2L327.6 1052.3L328.2 1041.7L328.2 1055.1L328.3 1041.7L328.8 1053.7L329.5 1043.7L330 1052.7L330.5 1039.8L331.1 1049.4L331.6 1037.2L331.6 1050.5L331.8 1039.7L332.5 1049.7L333.1 1031L333.8 1044.7L333.9 1028L333.9 1048.3L334.3 1030.2L334.9 1050.4L335.4 1036.1L336.1 1053.9L336.6 1042.2L337.2 1056.9L337.4 1046.3L337.4 1057.4L337.8 1046.7L338.3 1056.7L338.9 1049.7L339.6 1056.1L340.1 1049.8L340.7 1061.8L340.8 1048.6L340.8 1062L341.3 1050.1L341.8 1063.9L342.5 1052.1L343 1062.6L343.5 1052.6L344.1 1068.5L344.2 1053.1L344.2 1068.8L344.6 1054.9L345.3 1073.3L345.8 1056.6L346.5 1078.2L347.2 1061.5L347.6 1082.5L347.6 1060L347.9 1081.7L348.5 1061.5L349.2 1072.5L349.8 1063.6L349.9 1075.6L349.9 1062.3L350.3 1075L351 1062.2L351.6 1073.9L352.2 1062L352.9 1069.5L353.4 1058.2L354.1 1069.2L354.7 1056.2L355.3 1068.2L355.9 1054.5L356.4 1068.8L356.7 1053.1L356.7 1068.8L357 1052.6L357.5 1065.3L358.1 1050.9L358.7 1064.7L359.2 1049.2L359.9 1061.5L360.5 1049.2L361.2 1062.3L361.7 1045.6L362.3 1062L362.5 1044L362.5 1062L362.8 1047.9L363.3 1062L363.9 1049.3L364.5 1062L365 1047.7L365.6 1060.8L365.9 1048.6L365.9 1062L366.1 1051.3L366.8 1061.8L367.5 1050.8L368 1063.3L368.7 1055.2L369.3 1062.5L369.3 1053.1L369.3 1064.2L369.8 1056.1L370.4 1064L371 1056.3L371.7 1065L372.2 1057.3L372.7 1066.5L372.7 1057.7L372.8 1066L373.4 1056.9L373.9 1064.2L374.5 1054.6L375.1 1065.8L375.7 1052.3L376.1 1066.5L376.1 1050.9L376.2 1065.5L376.7 1048.9L377.2 1064.3L377.8 1046L378.3 1056.1L378.8 1040.4L379.4 1052.6L379.6 1037.2L379.6 1059.7L380.1 1044.6L380.7 1052.9L381.2 1036.3L381.9 1052.8L382.4 1035.7L383 1050.5L383 1034.9L383 1048.6L383.7 1035.2L384.2 1049.9L384.9 1034L385.6 1051.5L386.1 1033.3L386.4 1052.8L386.4 1032.6L386.7 1052.9L387.3 1036.8L387.9 1051.8L388.6 1035.7L389.3 1056.7L389.8 1037.2L389.8 1057.4L390 1040.1L390.7 1055.2L391.3 1032.3L391.9 1046L392.5 1036.4L393.1 1042.6L393.3 1025.8L393.3 1048.3L393.7 1033.1L394.4 1047.7L394.9 1023.2L395.5 1037.1L396.2 1027L396.7 1048.3L396.7 1016.6L396.8 1039.6L397.4 1025.7L398 1040.5L398.6 1010.4L399.1 1031L399.7 1014.3L400.1 1027.7L400.1 1005.2L400.4 1020.8L400.9 1004.3L401.5 1027.7L402 1003L402.6 1020.4L403.2 1003.3L403.5 1027.7L403.5 1000.7L403.8 1019.9L404.4 1003.9L404.9 1027.9L405.5 1011.3L406 1028.5L406.7 1010.7L406.9 1039.1L406.9 1009.8L407.2 1039L407.8 1009.1L408.4 1040.1L408.9 1014.1L409.5 1040.8L410.2 1005.7L410.4 1041.4L410.4 1005.2L410.8 1039.3L411.5 1002.3L412.1 1030.8L412.6 999.9L413.2 1023.2L413.8 997.5L413.8 1027.7L413.8 996.1L414.3 1029.2L415.1 995.1L415.6 1031.3L416.1 994L416.6 1031.2L417.2 991.5L417.2 1036.9L417.2 1007.7L417.9 1037.3L418.5 992.5L419.2 1028L419.8 1000.7L420.4 1041.1L420.6 993.8L420.6 1041.4L420.9 994.6L421.5 1036.6L422 1000.3L422.6 1030.8L423.1 995.5L423.8 1021.5L424.1 996.1L424.1 1023.2L424.3 995L424.9 1022.6L425.4 995L426.1 1015.5L426.6 989.2L427.2 1017.6L427.5 979L427.5 1020.9L427.8 982.7L428.3 1020L429 986.3L429.6 1010.7L429.8 979L429.8 1025.4L430.2 983.7L430.8 1022.7L431.3 996.8L431.9 1025.9L432.4 1011.7L433 1033.7L433.1 1018L433.1 1034.3L433.6 1022.1L434.2 1036.4L434.7 1025.7L435.3 1037.3L435.8 1023.6L436.3 1040.6L436.3 1020.1L436.4 1036.8L436.6 1016.6L436.6 1041.4L437.1 1016.1L437.7 1034.1L438.4 1021.9L439 1040.8L439.4 1013.9L439.4 1042.7L439.6 1015.8L440.1 1037.8L440.7 1021L441.4 1034L441.5 1013.9L441.5 1034.3L442 1021L442.6 1034.3L443.1 1024.7L443.7 1036.7L444.2 1026.6L444.7 1038.5L444.7 1028.5L444.9 1035.9L445.6 1026.2L446.2 1034.4L446.8 1023L447.3 1030.9L447.8 1020.1L447.8 1030.1L447.9 1022.3L448.5 1029.1L449.1 1019.8L449.7 1027.6L450.3 1018.5L451 1025.9L451 1018L451 1025.9L451.5 1009.3L452.1 1024.4L452.8 997.1L453 1023.8L453 982.4L453.3 1020.5L453.8 912.2L454.4 1011.7L454.7 831.6L454.7 1009.2L455 890.1L455.7 992.9L456.3 842.4L457 972.7L457.2 827.4L457.2 969.4L457.6 838.2L458.1 969.1L458.7 833.3L459.3 955L459.9 838.1L460.4 969.4L460.4 823.2L460.5 967.6L461.1 830.1L461.6 920L462.2 819.3L462.7 925.2L463.4 830.9L463.5 965.2L463.5 814.8L463.9 963.3L464.4 824.3L465 962L465.6 816.6L466 961L466 816.9L466.3 961.5L467 843.4L467.7 963.7L467.7 833.7L467.7 965.2L468.3 874.1L469 962.5L469.5 931.2L469.8 967.3L469.8 921.7L470 963.6L470.6 926.3L471.1 967.3L471.7 920.5L472.2 966.3L472.8 936.5L472.9 967.3L472.9 919.6L473.4 970.5L474.1 941.1L474.6 968.8L475 919.6L475 979.8L475.3 929.3L475.9 980.3L476.6 944.4L477.1 982.5L477.8 947.6L478.2 984L478.2 948.9L478.5 984.4L479 953.9L479.6 985.6L480.2 962.3L480.7 981.3L481.3 953.1L481.3 988.2L481.3 959.1L481.9 990.5L482.5 964.2L483.2 985.4L483.7 973.1L484.4 1000.4L484.5 978.2L484.5 1000.8L484.9 988.1L485.4 1001.5L486.1 985.7L486.7 1003.2L487.2 990L487.6 1007.1L487.6 988.7L487.8 1006.8L488.3 981.3L489 1004.1L489.7 967.1L489.7 1005L489.7 965.7L490.3 993.3L490.9 973.5L491.4 994L491.9 985.3L492.4 1000.2L492.9 986.6L492.9 1005L493.1 986.4L493.7 1001.1L494.4 983.5L495.1 1002L495.7 981L496 1000.8L496 980.3L496.3 997.5L496.9 979.1L497.4 996.4L498.1 977.6L498.8 993.1L499.1 976.1L499.1 992.4L499.4 977.8L499.9 990.8L500.4 978.7L501.1 988.4L501.6 973.6L502.3 981.5L502.3 972L502.3 986.1L502.8 972.4L503.4 984.1L504.1 975.1L504.6 983.4L505.3 976.5L505.4 984L505.4 974.1L505.9 983.7L506.6 972.4L507.1 980.4L507.7 970.4L508.3 982.4L509 968.3L509.2 981.9L509.2 967.8L509.6 980.5L510.1 974.1L510.7 982.8L511.3 973.9L511.9 983.5L512.6 974.1L512.8 984L512.8 974.1L513.2 983.7L513.7 977.8L514.4 984.6L514.9 979L515.6 983.3L515.9 978.2L515.9 985.1L516.3 978.2L516.9 984.7L517.6 977.4L518.3 984.9L518.8 976.8L519.5 985.9L520.1 976.3L520.1 986.1L520.1 976.1L520.6 989L521.3 981.7L521.9 1005.4L522.5 983.9L522.6 1013.4L522.6 978.2L523.2 1007.3L523.8 978.2L524.5 1013L524.7 978.2L524.7 1013.4L525.2 977.2L525.8 998.1L526.4 968.4L526.8 984L526.8 955.2L527 976.3L527.6 958.8L528.3 980.5L529 955.2L529.5 977.7L529.5 955.2L529.6 976.9L530.3 943L530.8 972.3L531.4 908.8L532 967.3L532 889.2L532.1 959.7L532.8 890.1L533.3 958.7L534 893.1L534.6 941.9L534.8 889.2L534.8 965.2L535.2 905.6L535.9 969.9L536.6 896.7L537.2 975.6L537.3 894.4L537.3 977.7L537.7 909L538.3 955.1L539 898L539.5 971.3L540 898.6L540 979.8L540.2 898.4L540.8 979.1L541.3 899L541.8 955.9L542.3 919.1L543 953.5L543.1 895.5L543.1 981.9L543.6 895.8L544.1 952.3L544.7 920.8L545.2 979.8L545.2 896.5L545.4 977.9L546 930.3L546.7 986.6L547.3 954.5L547.7 994.5L547.7 959.4L547.9 992.5L548.5 961.1L549 980.1L549.7 963.4L549.8 984L549.8 963.6L550.2 980.2L550.8 935.2L551.4 977.6L551.9 902.8L551.9 975.6L552.1 902.7L552.6 971.9L553.2 901.9L553.7 948L554.4 915.7L554.7 967.3L554.7 900.7L555 947.5L555.6 909.3L556.1 960.5L556.6 901.1L557.3 956.9L557.8 900.7L557.8 954.7L558 905.5L558.5 937.4L559.1 907.7L559.7 947.9L560.3 917.8L560.3 952.6L560.3 907L560.8 947.3L561.5 900.2L562 941.3L562.5 899.3L563 942.1L563 891.3L563.2 933.9L563.9 897.8L564.5 940.5L565 921.9L565.1 946.3L565.1 907L565.5 944.3L566.1 922.3L566.7 944.9L567.4 928.6L568 945.3L568.3 928L568.3 945.3L568.5 930.9L569 944.7L569.6 928.2L570.1 944.5L570.7 927.3L571.4 944.2L571.4 925.9L571.4 943.1L572 919.8L572.6 935L573.1 912.8L573.7 938.5L574.1 896.5L574.1 940L574.2 903.8L574.8 932.8L575.3 905.9L575.8 935.4L576.3 907.6L576.7 933.7L576.7 898.6L576.9 919.1L577.6 906.7L578.1 924.4L578.8 895.2L579.4 914.3L579.8 881.9L579.8 917L580 882.7L580.7 915.2L581.3 856.3L581.8 912.5L581.9 844.2L581.9 912.8L582.5 843.7L583.1 885.2L583.8 847.9L584.4 903.1L584.6 842.1L584.6 906.5L585.1 857.8L585.7 898.7L586.3 849.2L587 904L587.5 859.6L587.6 904.4L587.6 850.4L588.2 900.3L588.7 849.7L589.3 899.1L589.9 852.5L590.5 884L590.7 847.3L590.7 896L591.2 860.9L591.7 895.3L592.3 869.5L592.9 899.9L593 873.5L593 900.2L593.5 878.8L594.2 902L594.9 891.3L595.5 904.4L595.5 892.3L595.5 904.4L596.1 896.9L596.8 902.1L597.5 893.8L598 906.7L598.6 899.4L598.7 907.5L598.7 894.4L599.2 906.1L599.8 897.8L600.3 906.7L601 892.9L601.6 906.4L601.8 888.2L601.8 906.5L602.3 888.8L602.9 905.5L603.6 890.6L604.2 904.1L604.8 892.4L604.9 905.5L604.9 892.3L605.4 901.9L606 890.1L606.7 903.7L607.4 887.8L607.9 902.3L608.1 886.1L608.1 902.3L608.5 886.1L609 895.9L609.7 883.9L610.3 896L610.9 887.8L611.2 898.1L611.2 881.9L611.5 898.2L612 882.5L612.6 898.6L613.2 883.2L613.7 898.2L614.2 884.6L614.4 899.2L614.4 884L614.8 898L615.4 883.8L616.1 897.3L616.6 886.8L617.2 894.2L617.5 881.9L617.5 902.3L617.9 885.5L618.4 898.1L618.9 878.7L619.6 903L620.1 875.8L620.7 902L620.7 874.5L620.7 903.4L621.3 882.8L621.9 898.1L622.5 878.6L623.2 901L623.8 879.8L623.8 902.3L623.9 883.8L624.4 901.1L624.9 882.7L625.5 898L626.1 873.2L626.7 890.6L626.9 869.3L626.9 896L627.4 869.5L628.1 886.6L628.7 872.6L629.3 879.8L629.9 872.7L630.1 879.3L630.1 869.3L630.4 879.5L631 870.7L631.7 880.4L632.4 872.2L633 878.2L633.2 871.4L633.2 881.4L633.7 871.4L634.4 880.6L634.9 871.4L635.5 882.3L636.1 873.1L636.4 883.5L636.4 871.4L636.6 883.5L637.3 869.3L637.9 881.8L638.4 866.8L639 883.4L639.1 865.1L639.1 883.5L639.6 867.5L640.2 886.5L640.8 873.1L641.3 890.4L641.6 873.5L641.6 891.8L641.9 874.2L642.5 893.1L643.2 881.1L643.8 896.3L644.4 882.6L644.7 898.1L644.7 879.8L644.9 894.3L645.5 882.4L646 896.9L646.7 887.3L647.2 899.3L647.8 889.8L647.9 902.3L647.9 890.2L648.5 902.4L649 891.1L649.6 902.9L650.3 892.6L650.8 905.3L651 892.3L651 906.5L651.4 895.3L652 906.4L652.5 896.9L653.1 903.1L653.8 897.9L654.2 907.5L654.2 898.6L654.3 904.8L654.9 899L655.5 905.8L656.2 898.6L656.9 903.2L657.3 896.5L657.3 904.4L657.4 896.5L657.9 903.9L658.4 895.8L659 903.3L659.5 896L660.1 902.2L660.5 894.4L660.5 902.3L660.7 894.2L661.4 902.9L661.9 892.9L662.4 901.2L663.1 893.2L663.6 904.3L663.6 890.2L663.6 904.4L664.1 890.2L664.6 902.3L665.2 895.5L665.8 903.2L666.3 897L666.7 908.6L666.7 890.2L666.9 908.3L667.6 892L668.1 909L668.7 893.2L669.3 904.4L669.9 894.4L669.9 909.6L669.9 896.7L670.4 908.5L670.9 893.4L671.6 903.2L672.2 889L672.6 906.5L672.6 888.2L672.9 906L673.5 888.7L673.7 905.5L673.7 886.1L674.2 893.9L674.5 868.2L674.5 904.4L674.8 874.5L675.3 912.8L675.3 886.1L675.5 912.4L676.1 892.5L676.7 910.3L677.2 890.2L677.2 923.3L677.3 897.2L677.8 912.7L678.5 892.3L678.9 906.5L678.9 890.2L679 902.3L679.6 890.8L680.2 903.1L680.4 890.2L680.4 904.4L680.8 892L681.5 899L682 889.3L682.6 899.8L683.2 888.4L683.5 898.1L683.5 887.1L683.8 897.5L684.5 887.7L685.1 897.2L685.6 887.1L686.3 896.7L686.8 888.7L687.4 896.3L687.7 887.1L687.7 898.1L688.1 887.8L688.6 897.2L689.3 891.1L689.9 901L690.6 892.3L690.8 902.3L690.8 892.3L691.2 901.9L691.9 894.2L692.5 902.8L693.2 895.8L693.9 906.3L694 896.5L694 906.5L694.5 897.6L695.1 907.9L695.6 900.4L696.2 910.9L696.8 902.5L697.1 912.8L697.1 902.8L697.4 913.3L698 904.9L698.5 913.9L699.1 907.9L699.8 917.4L700.3 907L700.3 919.1L700.4 908.3L701.1 921.2L701.6 909L702.1 923.6L702.7 910.3L703.4 927.5L703.4 911.2L703.4 924.6L704 915.1L704.6 925.4L705.3 913.2L705.8 927.6L706.3 913.2L706.6 931.6L706.6 913.3L707 932.1L707.6 917L708.2 930.9L708.7 920.6L709.4 933.7L709.7 923.8L709.7 935.8L709.9 926.7L710.6 937.3L711.2 925.8L711.7 939.2L712.4 927.7L712.8 941.1L712.8 928L712.9 940.8L713.4 930.1L714 938.2L714.7 928L715.3 937.7L716 928.1L716 937.9L716 928L716.5 937L717 933L717.7 936.5L718.2 930.5L718.7 938.7L719.3 934.3L720 942.7L720.2 932.1L720.2 943.2L720.5 931.2L721.1 939L721.7 928.6L722.4 936.7L722.9 925.6L723.3 934.8L723.3 923.8L723.5 934.3L724.1 921.8L724.6 931L725.3 918.5L726 924.6L726.5 915.4L726.5 925.4L726.5 916.1L727.1 923.2L727.1 911.4L727.2 923L727.9 913.2L728.4 916L728.9 908.4L729.5 917.2L729.7 907L729.7 916.9L730.2 907.9L730.9 914.6L731.5 902.6L732.1 911.4L732.7 900L733.3 909.7L733.3 898L733.3 907.8L733.9 897.5L734.5 908.5L735.1 896.2L735.6 905.1L736.1 895.2L736.7 906.3L736.9 894.4L736.9 906.1L737.4 895.9L738 904.4L738.7 894.3L739.4 903.7L739.9 892.9L740.5 902.6L740.5 892.6L740.5 902.6L741.2 893.6L741.7 901.4L742.4 889.9L743.1 900L743.6 888.2L744.1 899L744.1 887.2L744.1 898.3L744.8 889L745.3 903.8L746 888.8L746.7 909L746.8 889L746.8 909.7L747.3 889.5L747.9 909.2L748.6 893.9L749.3 911L749.5 890.8L749.5 911.5L749.9 890.1L750.4 910.3L751 888.1L751.5 908.6L752.2 885.4L752.2 907.9L752.2 891L752.8 905.4L753.5 882.5L754 900.4L754.7 882.7L754.9 904.4L754.9 876.4L755.2 904.4L755.8 877L756.4 894L757 874.4L757.6 894.8L757.6 867.5L757.6 904.4L758.2 870.1L758.8 901L759.4 864.8L759.4 907.9L759.5 866.2L760.2 909.1L760.7 869.5L761.2 911.5L761.2 871.1L761.4 911.6L761.9 874.7L762.5 913.6L762.6 878.2L762.6 915.1L763.2 884L763.5 925L763.5 881.8L763.7 921.4L764.2 877.4L764.4 911.5L764.4 874.6L764.7 909.6L765.3 868.5L765.6 907.9L765.6 865.7L766 902.4L766.6 866.2L767.2 901.2L767.7 866.6L768.3 897.2L768.3 863.9L768.4 897.2L768.9 869.4L769.4 890.2L770 878.2L770.5 898.7L771 887.2L771 899L771.1 887.5L771.8 899.7L772.4 889.7L773 901.5L773.5 890.6L773.7 902.6L773.7 890.8L774.2 899.7L774.8 896.1L775.4 905.7L776.1 892.4L776.4 907.9L776.4 892.6L776.7 905.2L777.3 894.6L777.9 913.4L778.5 899.3L779.1 918.7L779.1 896.2L779.1 911.8L779.8 899.2L780.5 924.4L781 906.1L781.6 930.3L781.8 903.4L781.8 931.3L782.1 904.5L782.7 931.9L783.4 907.7L784 931.5L784.5 910.5L784.5 936.7L784.6 916.4L785.2 935.2L785.8 916L786.4 937.3L786.9 914.3L787.2 942L787.2 914.1L787.4 932.2L788.1 918.3L788.7 947.8L789.2 916.8L789.9 951.2L789.9 917.7L789.9 952.8L790.5 920.1L791 953.3L791.7 923.7L792.2 954.6L792.2 924.9L792.4 954L793.1 922.7L793.8 944.9L794.4 916.2L794.4 947.4L794.4 914.1L794.9 946L795.4 916.6L796 943L796.6 916.6L797.1 940.3L797.1 914.1L797.1 936.8L797.8 915.6L798.4 942.1L799.1 918.2L799.6 937.9L799.8 919.5L799.8 945.6L800.3 921L801 945.5L801.6 926.1L802.1 954.1L802.4 926.7L802.4 956.4L802.8 936.9L803.3 959.6L803.9 934.4L804.5 964.9L805.1 947L805.1 967.2L805.1 939.3L805.6 957.7L806.1 946.8L806.6 965.7L807.2 944.9L807.7 966.3L807.8 942.9L807.8 969L808.3 938.3L808.8 964.3L809.5 926.6L810.2 958.2L810.2 919.5L810.2 955.7L810.8 919.9L811.5 956L812.1 925.5L812.3 954.6L812.3 919.5L812.7 956.8L813.3 919.7L813.9 964.5L814.6 920.6L815 970.8L815 919.5L815.2 969L815.8 920.2L816.5 960.6L817.1 920.9L817.7 972.6L817.7 921.3L817.8 966.1L818.3 940.2L819 971.1L819.6 925.6L820.2 974.2L820.4 924.9L820.4 974.4L820.8 932.7L821.4 967.5L822 931.7L822.5 971.7L823 929.5L823.1 977.9L823.1 928.5L823.5 977.3L824.1 935.4L824.7 976.5L825.3 925.5L825.8 976.2L825.8 924.9L825.9 976L826.6 923.5L827.2 956.9L827.9 925.3L828.4 972.2L828.5 919.5L828.5 972.6L828.9 920L829.6 966L830.1 928.3L830.7 966.2L831.2 919.5L831.2 976.2L831.3 919.9L831.9 975.2L832.4 924.2L833 965L833.6 925.6L833.9 986.9L833.9 923.1L834.3 980.8L834.9 932.3L835.5 992.6L836.2 931.7L836.5 997.7L836.5 928.5L836.8 994.1L837.5 927.2L838.1 980.8L838.8 937L839.2 985.1L839.2 924.9L839.5 984.7L840.1 925.6L840.8 979.9L841.4 948.7L841.9 981.5L841.9 926.7L842 965.8L842.5 930.8L843.1 980.7L843.6 928.8L844.3 991.9L844.6 928.5L844.6 993.2L845 929.3L845.6 985.6L846.2 953.3L846.9 990L847.3 930.3L847.3 990.5L847.5 934.2L848 974.4L848.7 942L849.3 980.9L849.9 951.6L850 977.9L850 933.9L850.5 976.2L851 935.5L851.6 978.9L852.3 943.9L852.7 979.7L852.7 933.9L852.9 980L853.5 930.9L854.2 980.8L854.8 927.2L855.4 985.1L855.4 923.1L855.4 969.1L856.1 925.5L856.6 978L857.1 923.6L857.7 976.8L858.1 918.6L858.1 976.2L858.4 920.6L859.1 973.1L859.6 920.7L860.3 952.3L860.4 919.5L860.4 969L861 925.7L861.5 949.7L862.1 928.9L862.6 961.8L862.6 930.3L862.7 959.7L863.4 931.3L864.1 954.7L864.6 941.1L865.2 948.5L865.3 932.1L865.3 956.4L865.9 933.8L866.5 954L867.2 934.7L867.7 953.1L868 935.7L868 952.8L868.3 940.1L868.9 951.6L869.5 937.6L870.2 949.9L870.7 938L870.7 949.2L870.7 937.5L871.3 947.6L871.9 937L872.5 948L873.1 936.9L873.3 947.4L873.3 935.7L873.7 946L874.2 934.6L874.8 945.5L875.4 932.9L875.9 943.7L876 932.1L876 943.8L876.4 933.8L877 942L877.5 932.5L878.2 939.4L878.7 930.3L878.7 940.3L878.9 929.6L879.5 938.5L880.1 927L880.6 936.1L881.2 921.7L881.4 936.7L881.4 919.5L881.9 929.4L882.6 917.9L883.1 932.2L883.7 914.9L883.8 931.3L883.8 914.1L884.3 931.8L884.9 917.6L885.5 928.6L885.9 917.7L885.9 933.1L886 918.1L886.5 932.1L887.2 921.3L887.8 934.8L888.3 924.2L888.6 940.3L888.6 924.9L888.9 941.1L889.5 928.7L890.2 944L890.8 934.1L891.3 947.4L891.3 935.7L891.4 945.3L892.1 937.8L892.7 944.8L893.2 940.3L893.8 948.3L894.4 937.3L894.9 951L894.9 937.5L895.1 950.8L895.7 936.5L896.2 949.6L896.8 936L897.3 951L897.6 933.9L897.6 951L898 934L898.6 949.6L899.1 933.9L899.7 948.1L900.3 937.1L900.3 947.4L900.3 933L900.9 945.6L901.5 933L902.2 947.1L902.8 933L903 947.4L903 933L903.5 946L904.1 934.2L904.8 947.2L905.4 938.1L905.7 947.4L905.7 935.7L905.9 946.5L906.5 939L907.2 947.8L907.9 937.5L908.3 948.3L908.3 937.5L908.5 944.5L909.1 940.9L909.7 948.8L910.3 938L910.9 947L911 937.5L911 949.2L911.6 939.3L912.2 949.8L912.8 941.8L913.3 950.7L913.7 939.3L913.7 951L913.9 941.6L914.5 952.3L915 945.5L915.7 954.9L916.3 942.8L916.4 956.4L916.4 942.9L916.9 959.6L917.5 950.5L918.2 968.4L918.8 953.8L919.1 974.4L919.1 953.6L919.4 975L920 958.1L920.6 975.4L920.9 955.4L920.9 977.9L921.3 948.4L922 973.6L922.5 923.5L922.7 970.8L922.7 919.5L923.2 948.7L923.8 928.3L924.4 950.5L925 919.5L925 947.4L925.1 920.5L925.7 942L926.3 921.8L926.8 948.6L927.2 917.7L927.2 949.2L927.5 918.8L928 949.8L928.5 922.4L929.1 954.1L929.8 926.3L929.9 956.4L929.9 926.7L930.5 948.7L931.1 928.9L931.6 956.1L932.3 933.2L932.6 960.9L932.6 930.3L932.8 960.5L933.4 929.7L933.9 949.7L934.4 937.5L935 956.5L935.3 924.9L935.3 956.4L935.5 931.8L936.1 949.9L936.7 920.4L937.2 943L937.6 915L937.6 940.3L937.9 917.1L938.5 929.7L939 914.6L939.6 928.9L939.8 914.1L939.8 927.7L940.1 915.2L940.8 933.4L941.3 922.7L941.8 939.7L942.4 924L942.5 943.8L942.5 923.1L943 942.2L943.6 928.4L944.1 949.6L944.6 932.1L945.1 956.4L945.1 933.9L945.1 956.1L945.8 936.2L946.3 955.6L946.8 943.5L947.3 954.9L947.8 942.9L947.8 954.6L947.9 942.9L948.5 951.2L949.1 942.1L949.6 950.4L950.3 941.3L950.5 951L950.5 941.1L950.8 950.8L951.5 940.1L952 946.3L952.6 939.1L953.2 949.2L953.2 937.5L953.3 945.9L953.9 937.4L954.5 943.1L955 935.1L955.7 945L955.9 933.9L955.9 945.6L956.3 934.3L956.9 941.6L957.4 935L958.1 943.9L958.6 935.7L958.6 943.8L958.7 935.8L959.4 942.8L960 937.6L960.5 942.9L961 937.6L961.3 942.9L961.3 936.6L961.6 941.4L962.1 937.5L962.7 942.5L963.3 936.1L964 940.6L964.5 935.9L964.9 942L964.9 935.7L965.2 941.8L965.7 936.9L966.4 940.2L966.9 934.8L967.4 940.8L967.9 934.4L968.5 941.1L968.5 933.9L968.5 940.8L969.2 926.7L969.7 938.9L970.3 916L970.9 933.4L971.2 907L971.2 936.7L971.4 903.1L971.9 926.8L972.6 868.4L973 927.7L973 856.7L973.3 926.7L973.9 856.8L974.5 921.7L975.1 858.7L975.3 925.9L975.3 854L975.8 925.1L976.4 855L976.9 925.6" fill="none" stroke="#3C9B37" stroke-width="3.2" stroke-linejoin="round" stroke-linecap="butt"/>
<ellipse cx="302.5" cy="1049.5" rx="55" ry="68.4" fill="#3ca514" fill-opacity="0.2" stroke="#000" stroke-width="6.8"/>
<text x="148.3" y="1256.5" font-family='"Liberation Serif", serif' font-size="39" text-anchor="middle">0</text>
<text x="300.2" y="1256.5" font-family='"Liberation Serif", serif' font-size="39" text-anchor="middle">2</text>
<text x="452.2" y="1256.5" font-family='"Liberation Serif", serif' font-size="39" text-anchor="middle">4</text>
<text x="604.1" y="1256.5" font-family='"Liberation Serif", serif' font-size="39" text-anchor="middle">6</text>
<text x="756.1" y="1256.5" font-family='"Liberation Serif", serif' font-size="39" text-anchor="middle">8</text>
<text x="908" y="1256.5" font-family='"Liberation Serif", serif' font-size="39" text-anchor="middle">10</text>
<text x="124.3" y="1213.6" font-family='"Liberation Serif", serif' font-size="39" text-anchor="end">0</text>
<text x="124.3" y="1140.7" font-family='"Liberation Serif", serif' font-size="39" text-anchor="end">2</text>
<text x="124.3" y="1067.8" font-family='"Liberation Serif", serif' font-size="39" text-anchor="end">4</text>
<text x="124.3" y="994.9" font-family='"Liberation Serif", serif' font-size="39" text-anchor="end">6</text>
<text x="124.3" y="922" font-family='"Liberation Serif", serif' font-size="39" text-anchor="end">8</text>
<text x="124.3" y="849.1" font-family='"Liberation Serif", serif' font-size="39" text-anchor="end">10</text>
<text x="124.3" y="776.2" font-family='"Liberation Serif", serif' font-size="39" text-anchor="end">12</text>
<text x="124.3" y="703.3" font-family='"Liberation Serif", serif' font-size="39" text-anchor="end">14</text>
<text x="561" y="1321.7" font-family='"Liberation Serif", serif' font-size="39" text-anchor="middle">Time (ps)</text>
<text x="37.4" y="942.5" font-family='"Liberation Serif", serif' font-size="39" text-anchor="middle" transform="rotate(-90 37.4 942.5)">Distance (Å)</text>
<text x="213" y="748.5" text-anchor="middle" font-family='"Liberation Sans", sans-serif' font-weight="bold" font-size="41"><tspan font-size="45" dy="-1">(</tspan><tspan dy="1">c</tspan><tspan font-size="45" dy="-1">)</tspan></text>
<text x="864" y="741.6" text-anchor="end" font-family='"Liberation Serif", serif' font-size="39">H<tspan font-size="29" dy="8.4">a</tspan><tspan font-size="31" dy="-23">+</tspan><tspan dy="14.6">-O</tspan><tspan font-size="31" dy="8.4">P</tspan></text>
<text x="864.5" y="785.2" text-anchor="end" font-family='"Liberation Serif", serif' font-size="39">H<tspan font-size="29" dy="8.4">a</tspan><tspan font-size="31" dy="-23">+</tspan><tspan dy="14.6">-H</tspan><tspan font-size="31" dy="8.4">C</tspan></text>
<path d="M883.8 727.3H940.4" stroke="#110B93" stroke-width="3.6"/>
<path d="M883.8 770.5H940.4" stroke="#3C9B37" stroke-width="3.6"/>
</g>
<g id="panelD">
<path d="M1184.9 1198.5v-8.5 M1184.9 688.4v8.5 M1203 1198.5v-8.5 M1203 688.4v8.5 M1221.2 1198.5v-8.5 M1221.2 688.4v8.5 M1239.3 1198.5v-8.5 M1239.3 688.4v8.5 M1257.5 1198.5v-17 M1257.5 688.4v17 M1275.6 1198.5v-8.5 M1275.6 688.4v8.5 M1293.8 1198.5v-8.5 M1293.8 688.4v8.5 M1311.9 1198.5v-8.5 M1311.9 688.4v8.5 M1330.1 1198.5v-8.5 M1330.1 688.4v8.5 M1348.3 1198.5v-17 M1348.3 688.4v17 M1366.4 1198.5v-8.5 M1366.4 688.4v8.5 M1384.6 1198.5v-8.5 M1384.6 688.4v8.5 M1402.7 1198.5v-8.5 M1402.7 688.4v8.5 M1420.9 1198.5v-8.5 M1420.9 688.4v8.5 M1439 1198.5v-17 M1439 688.4v17 M1457.2 1198.5v-8.5 M1457.2 688.4v8.5 M1475.3 1198.5v-8.5 M1475.3 688.4v8.5 M1493.5 1198.5v-8.5 M1493.5 688.4v8.5 M1511.7 1198.5v-8.5 M1511.7 688.4v8.5 M1529.8 1198.5v-17 M1529.8 688.4v17 M1548 1198.5v-8.5 M1548 688.4v8.5 M1566.1 1198.5v-8.5 M1566.1 688.4v8.5 M1584.3 1198.5v-8.5 M1584.3 688.4v8.5 M1602.4 1198.5v-8.5 M1602.4 688.4v8.5 M1620.6 1198.5v-17 M1620.6 688.4v17 M1638.7 1198.5v-8.5 M1638.7 688.4v8.5 M1656.9 1198.5v-8.5 M1656.9 688.4v8.5 M1675.1 1198.5v-8.5 M1675.1 688.4v8.5 M1693.2 1198.5v-8.5 M1693.2 688.4v8.5 M1711.4 1198.5v-17 M1711.4 688.4v17 M1729.5 1198.5v-8.5 M1729.5 688.4v8.5 M1747.7 1198.5v-8.5 M1747.7 688.4v8.5 M1765.8 1198.5v-8.5 M1765.8 688.4v8.5 M1784 1198.5v-8.5 M1784 688.4v8.5 M1802.1 1198.5v-17 M1802.1 688.4v17 M1820.3 1198.5v-8.5 M1820.3 688.4v8.5 M1838.5 1198.5v-8.5 M1838.5 688.4v8.5 M1856.6 1198.5v-8.5 M1856.6 688.4v8.5 M1874.8 1198.5v-8.5 M1874.8 688.4v8.5 M1892.9 1198.5v-17 M1892.9 688.4v17 M1911.1 1198.5v-8.5 M1911.1 688.4v8.5 M1929.2 1198.5v-8.5 M1929.2 688.4v8.5 M1947.4 1198.5v-8.5 M1947.4 688.4v8.5 M1965.5 1198.5v-8.5 M1965.5 688.4v8.5 M1166.7 1185.7h8.5 M1983.7 1185.7h-8.5 M1166.7 1173h8.5 M1983.7 1173h-8.5 M1166.7 1160.2h8.5 M1983.7 1160.2h-8.5 M1166.7 1147.5h8.5 M1983.7 1147.5h-8.5 M1166.7 1134.7h17 M1983.7 1134.7h-17 M1166.7 1122h8.5 M1983.7 1122h-8.5 M1166.7 1109.2h8.5 M1983.7 1109.2h-8.5 M1166.7 1096.5h8.5 M1983.7 1096.5h-8.5 M1166.7 1083.7h8.5 M1983.7 1083.7h-8.5 M1166.7 1071h17 M1983.7 1071h-17 M1166.7 1058.2h8.5 M1983.7 1058.2h-8.5 M1166.7 1045.5h8.5 M1983.7 1045.5h-8.5 M1166.7 1032.7h8.5 M1983.7 1032.7h-8.5 M1166.7 1020h8.5 M1983.7 1020h-8.5 M1166.7 1007.2h17 M1983.7 1007.2h-17 M1166.7 994.5h8.5 M1983.7 994.5h-8.5 M1166.7 981.7h8.5 M1983.7 981.7h-8.5 M1166.7 969h8.5 M1983.7 969h-8.5 M1166.7 956.2h8.5 M1983.7 956.2h-8.5 M1166.7 943.5h17 M1983.7 943.5h-17 M1166.7 930.7h8.5 M1983.7 930.7h-8.5 M1166.7 917.9h8.5 M1983.7 917.9h-8.5 M1166.7 905.2h8.5 M1983.7 905.2h-8.5 M1166.7 892.4h8.5 M1983.7 892.4h-8.5 M1166.7 879.7h17 M1983.7 879.7h-17 M1166.7 866.9h8.5 M1983.7 866.9h-8.5 M1166.7 854.2h8.5 M1983.7 854.2h-8.5 M1166.7 841.4h8.5 M1983.7 841.4h-8.5 M1166.7 828.7h8.5 M1983.7 828.7h-8.5 M1166.7 815.9h17 M1983.7 815.9h-17 M1166.7 803.2h8.5 M1983.7 803.2h-8.5 M1166.7 790.4h8.5 M1983.7 790.4h-8.5 M1166.7 777.7h8.5 M1983.7 777.7h-8.5 M1166.7 764.9h8.5 M1983.7 764.9h-8.5 M1166.7 752.2h17 M1983.7 752.2h-17 M1166.7 739.4h8.5 M1983.7 739.4h-8.5 M1166.7 726.7h8.5 M1983.7 726.7h-8.5 M1166.7 713.9h8.5 M1983.7 713.9h-8.5 M1166.7 701.2h8.5 M1983.7 701.2h-8.5" stroke="#000" stroke-width="3.4" fill="none"/>
<rect x="1166.7" y="688.4" width="817" height="510.1" fill="none" stroke="#000" stroke-width="3.4"/>
<path d="M1166.7 1199L1166.7 1199L1167.2 1198.6L1167.9 1197L1168 1198.7L1168 1197.3L1168.5 1198.6L1169.2 1196.2L1169.8 1198.8L1170.4 1195.7L1171 1198.9L1171.6 1196.9L1172.3 1197.7L1173 1196.4L1173.5 1198.8L1174.2 1196.1L1174.8 1198.1L1175.5 1194.3L1176 1197.1L1176 1195.7L1176 1198L1176.7 1195.2L1177.2 1197L1177.8 1195.5L1178.4 1198L1179 1195.4L1179.5 1197.1L1180.1 1195.4L1180.7 1197.8L1181.3 1194.4L1182 1198.5L1182.6 1194.3L1183.1 1196L1183.7 1195L1184 1196.3L1184 1194.9L1184.3 1198L1184.9 1195.1L1185.6 1197.5L1186.1 1194.9L1186.8 1196.3L1187.4 1194.9L1187.9 1197.3L1188.6 1194.5L1189.2 1195.9L1189.9 1193.4L1190.5 1197.7L1191.1 1194L1191.8 1197.7L1192 1194.9L1192 1196.3L1192.4 1194.1L1193 1196.5L1193.6 1195.1L1194.2 1196.4L1194.8 1193.9L1195.4 1197L1196 1193.7L1196.6 1196.3L1197.2 1193.6L1197.7 1196.6L1198.3 1194.5L1198.8 1197L1199.4 1194.5L1200 1196.9L1200 1194.1L1200 1195.5L1200.5 1193.2L1201 1196.8L1201.5 1193L1202.1 1195.1L1202.7 1192.4L1203.3 1196L1203.8 1192.9L1204.5 1196L1205.1 1192.6L1205.6 1193.9L1206.3 1191.1L1206.9 1194.1L1207.5 1190.2L1208 1193.9L1208 1191.7L1208 1193.4L1208.6 1189.8L1209.3 1193L1210 1190.3L1210.6 1193L1211.2 1190.3L1211.8 1192.3L1212.4 1190.9L1213 1192.5L1213.6 1190.5L1214.3 1191.9L1214.4 1190.1L1214.4 1192.3L1214.9 1189.4L1215.5 1192.3L1216.2 1189.7L1216.9 1194.1L1217.5 1189.7L1218 1192.8L1218.7 1190.2L1219.2 1192.6L1219.8 1189.3L1220.3 1192L1220.8 1189.3L1220.8 1191.5L1220.9 1188.9L1221.6 1192.6L1222.2 1189L1222.9 1192.1L1223.5 1189.9L1224.2 1192.8L1224.9 1189.2L1225.5 1191.7L1226.1 1189.1L1226.8 1192L1227.2 1190.1L1227.2 1191.5L1227.4 1189.8L1228 1191.6L1228.7 1189.1L1229.3 1191.2L1230 1188.9L1230.6 1190.6L1231.1 1187.1L1231.8 1190.1L1232.5 1186.1L1233.2 1190L1233.6 1187.7L1233.6 1189.9L1233.7 1187.2L1234.3 1190.5L1234.9 1188.2L1235.5 1191.4L1236 1186.1L1236.6 1189.4L1237.1 1186.7L1237.7 1189.2L1238.3 1186.3L1239 1188.6L1239.5 1186.1L1240 1188.3L1240 1186.1L1240.2 1188.9L1240.9 1185.7L1241.4 1188.1L1242 1186.1L1242.6 1189.1L1243.2 1184.3L1243.9 1187.9L1244.5 1184.5L1245 1186.1L1245.5 1183.6L1246.1 1186.1L1246.4 1183.7L1246.4 1186.7L1246.7 1184L1247.3 1186.8L1247.9 1184.3L1248.5 1187L1249 1184L1249.5 1186.2L1250.2 1182.9L1250.8 1187L1251.4 1181.8L1252 1187.3L1252.6 1183.3L1252.8 1185.9L1252.8 1182.9L1253.2 1186.4L1253.7 1182.8L1254.3 1186L1254.8 1183.1L1255.3 1186.2L1256 1182L1256.5 1186.2L1257.1 1181.1L1257.7 1186.5L1258.3 1183.2L1258.9 1186.9L1259.2 1182.9L1259.2 1185.9L1259.6 1183.5L1260.2 1185.1L1260.8 1180.4L1261.3 1185.7L1262 1180.3L1262.7 1184.5L1263.2 1180.2L1263.7 1185.2L1264.2 1181.5L1264.9 1185L1265.5 1182.3L1265.6 1184.3L1265.6 1181.3L1266.1 1183.6L1266.8 1180L1267.4 1184.1L1268 1180.1L1268.7 1183.1L1269.2 1179.5L1269.8 1181.7L1270.4 1178.9L1271.1 1181.3L1271.8 1176.3L1272 1181.1L1272 1178.1L1272.4 1182.3L1273 1178.3L1273.6 1180.3L1274.3 1176.3L1274.9 1180L1275.5 1176.2L1276.1 1179.5L1276.8 1176.1L1277.5 1178.9L1278.2 1174L1278.4 1178.7L1278.4 1174.9L1278.9 1179.6L1279.5 1175.3L1280.2 1179.7L1280.8 1175L1281.4 1179.9L1282.1 1175.2L1282.7 1178.2L1283.4 1175.8L1284 1179L1284.7 1174.1L1284.8 1177.9L1284.8 1174.9L1285.2 1178L1285.8 1174.6L1286.3 1178.8L1286.8 1175.7L1287.5 1177.1L1288 1173.6L1288.5 1178.6L1289.1 1174.2L1289.6 1177.9L1289.6 1174.1L1289.8 1178L1290.3 1173.5L1290.9 1176.8L1291.6 1172.4L1292.1 1177L1292.8 1172.7L1293.5 1175.3L1294 1168.7L1294.4 1174.7L1294.4 1170.1L1294.6 1175.4L1295.1 1168.4L1295.8 1174.2L1296.4 1169.9L1296.9 1174.1L1297.6 1170.1L1298.2 1174.5L1298.7 1168.9L1299.4 1172.4L1300 1169.8L1300.7 1172.5L1300.8 1170.1L1300.8 1173.1L1301.3 1170.2L1302 1172.1L1302.7 1168.9L1303.3 1172.3L1303.9 1166.1L1304.4 1172.4L1305.1 1167.2L1305.6 1171.5L1306.2 1168.2L1306.7 1170L1307.2 1166.1L1307.2 1170.7L1307.2 1166.1L1307.9 1170.7L1308.4 1164.1L1309.1 1172.3L1309.6 1165.9L1310.3 1170.8L1310.8 1167.2L1311.4 1172L1312 1165.5L1312.5 1171.7L1313.2 1163.8L1313.6 1170.7L1313.6 1165.3L1313.7 1171.8L1314.4 1167.3L1315 1169.9L1315.5 1165.8L1316.1 1172.4L1316.6 1168.1L1317.3 1173.2L1317.8 1167.8L1318.4 1171.5L1318.4 1167.7L1318.4 1172.5L1319 1167.8L1319.7 1170.4L1320.3 1166.2L1320.9 1169.4L1321.4 1165.3L1322 1167.6L1322.5 1163.5L1323.1 1166.5L1323.2 1162.9L1323.2 1166.7L1323.8 1163.8L1324.3 1167.4L1324.9 1163.2L1325.4 1165L1326 1162.3L1326.7 1166.7L1327.2 1160.9L1327.9 1165.7L1328.5 1161L1329.1 1165L1329.6 1160.4L1329.6 1165.1L1329.6 1161.3L1330.2 1166.1L1330.8 1160.7L1331.3 1164.2L1331.9 1161L1332.4 1164.4L1333 1160.4L1333.7 1164.7L1334.2 1160L1334.9 1162.6L1335.5 1158.9L1336 1163.5L1336 1159.7L1336.2 1164.7L1336.8 1159.3L1337.3 1164L1337.9 1158.5L1338.6 1164.4L1339.1 1157.8L1339.8 1162.7L1340.4 1159.3L1341 1162.8L1341.6 1158L1342.1 1163.6L1342.4 1158.1L1342.4 1162.7L1342.7 1157.7L1343.4 1163.8L1343.9 1159.5L1344.5 1163.5L1345.1 1157.9L1345.7 1163.2L1346.4 1155.9L1347 1163.3L1347.6 1157.4L1348.2 1161.1L1348.7 1159.2L1348.8 1163.5L1348.8 1157.3L1349.4 1162.1L1349.9 1157.6L1350.6 1159.6L1351.1 1155.3L1351.7 1159.1L1352.4 1153.6L1353 1159.1L1353.5 1154.2L1353.6 1157.9L1353.6 1153.3L1354 1157.7L1354.7 1153.9L1355.3 1157.7L1356 1150.9L1356.6 1157.3L1357.2 1152.3L1357.8 1157L1358.5 1152.9L1359.1 1156.5L1359.8 1153.8L1360 1156.3L1360 1152.5L1360.4 1157.2L1361 1152.9L1361.6 1156.5L1362.1 1151.8L1362.7 1156.9L1363.3 1152.4L1363.9 1156.7L1364.5 1151.8L1365.1 1156L1365.7 1152.1L1366.3 1157.6L1366.4 1152.5L1366.4 1157.1L1366.9 1153L1367.5 1155.5L1368.1 1151.8L1368.8 1155.8L1369.4 1152L1370.1 1156.8L1370.7 1150.2L1371.2 1153.9L1371.2 1150.1L1371.4 1154.1L1371.9 1150.7L1372.5 1153.5L1373.1 1149.1L1373.7 1154.3L1374.2 1151.1L1374.9 1155.2L1375.5 1151L1376 1154.7L1376 1150.9L1376.1 1155.5L1376.8 1150.2L1377.3 1155.3L1377.9 1151.2L1378.5 1154.1L1379.1 1148.3L1379.2 1154.7L1379.2 1148.5L1379.7 1153.1L1380.5 1147.4L1381.1 1151.7L1381.8 1147.2L1382.3 1151.2L1383 1145.5L1383.5 1150L1384 1143.7L1384 1149.1L1384 1144L1384.5 1148.5L1385.2 1143.5L1385.9 1149L1386.6 1144.2L1387.1 1149.3L1387.7 1142.3L1388.2 1148.5L1388.9 1143.5L1389.5 1150L1390.2 1143.4L1390.4 1148.3L1390.4 1143.7L1390.8 1148.7L1391.5 1142.8L1392.1 1148.7L1392.6 1145L1393.3 1148.4L1393.9 1143L1394.5 1148.5L1395 1143.5L1395.6 1147.9L1396.3 1143.2L1396.8 1148.3L1396.8 1142.9L1396.9 1147L1397.5 1141.9L1398.1 1149.3L1398.7 1142.8L1399.3 1149.2L1399.9 1142.6L1400.6 1148L1401.1 1142.3L1401.8 1146.6L1402.4 1142.7L1403.1 1147.6L1403.2 1142.9L1403.2 1145.9L1403.6 1142.9L1404.2 1145.9L1404.8 1141L1405.4 1145.7L1406.1 1141.7L1406.6 1146.6L1407.2 1142.2L1407.8 1145.8L1408 1142.1L1408 1147.5L1408.4 1141.5L1409.2 1146.4L1409.7 1138.7L1410.2 1145.3L1410.7 1139L1411.2 1145.4L1411.8 1136.6L1412.5 1143.1L1412.8 1135.7L1412.8 1142.7L1413 1135.6L1413.7 1141.1L1414.3 1134.1L1414.9 1142.6L1415.4 1136.3L1416 1142.2L1416.7 1134.1L1417.3 1140.1L1417.8 1135.7L1418.4 1140.7L1419 1133.6L1419.2 1139.5L1419.2 1135.7L1419.6 1139.5L1420.1 1136.1L1420.8 1139.6L1421.3 1136.9L1421.9 1139.6L1422.5 1135.2L1423.1 1139L1423.7 1135.9L1424.3 1138.4L1425 1134.8L1425.5 1140.3L1425.6 1135.7L1425.6 1138.7L1426.2 1135.5L1426.8 1138.5L1427.4 1135.3L1428 1138.8L1428.5 1132.9L1429 1138.5L1429.6 1134.7L1430.2 1137.9L1430.8 1133.2L1431.5 1136.8L1432 1134.1L1432 1137.9L1432.1 1135L1432.7 1137.5L1433.3 1134L1433.8 1136.6L1434.5 1134.7L1435.1 1138.1L1435.7 1131.8L1436.3 1138.4L1436.9 1133.4L1437.4 1139.9L1438.1 1132.1L1438.4 1137.9L1438.4 1132.5L1438.7 1137.8L1439.3 1131.5L1439.9 1134.6L1440.5 1130.6L1441.2 1134.3L1441.9 1128.1L1442.5 1133.5L1443.1 1128L1443.6 1131.2L1444.2 1124.1L1444.7 1130.1L1444.8 1124.5L1444.8 1129.9L1445.3 1126.2L1445.9 1131.6L1446.4 1122.7L1446.9 1129L1447.6 1125.2L1448.2 1129.7L1448.8 1124.7L1449.4 1129.3L1450 1124.3L1450.6 1128.8L1451.1 1125L1451.2 1129.1L1451.2 1124.5L1451.8 1128.7L1452.3 1125.8L1453 1128.1L1453.6 1123.9L1454.2 1129.3L1454.7 1124.2L1455.3 1130.8L1455.8 1125.1L1456.4 1128.9L1456.9 1125.4L1457.4 1127.9L1457.6 1125.3L1457.6 1129.1L1457.9 1125.1L1458.6 1129L1459.3 1124.7L1459.8 1129L1460.4 1125.2L1461.1 1127.2L1461.6 1124.3L1462.3 1127.3L1462.9 1122.7L1463.5 1129.6L1464 1123.7L1464 1128.3L1464.2 1123.2L1464.8 1128.4L1465.4 1123.2L1466 1129L1466.7 1122.3L1467.4 1125.7L1467.9 1121.2L1468.4 1127.4L1468.8 1122.1L1468.8 1127.5L1469 1121.2L1469.5 1123.8L1470 1117.9L1470 1123.7L1470 1119.8L1470.6 1123L1471.2 1119.1L1471.7 1121.6L1472.2 1114.9L1472.8 1123.7L1473.4 1116.8L1474.1 1120.3L1474.6 1114L1475.2 1118.2L1475.6 1114.1L1475.6 1120L1475.9 1114.6L1476.5 1121.2L1477.1 1112.6L1477.7 1118.4L1478.3 1114.1L1478.8 1121.5L1479.4 1113.1L1479.9 1117.4L1480.5 1115L1481.1 1118.9L1481.2 1114.1L1481.2 1119L1481.6 1114.8L1482.3 1118.4L1482.8 1116L1483.5 1118.7L1484.1 1113.3L1484.7 1121.6L1485.4 1115.1L1486 1119.2L1486.6 1115L1486.8 1120L1486.8 1115.1L1487.2 1121.2L1487.9 1113.4L1488.4 1120L1489 1116.4L1489.6 1120.1L1490.1 1114.5L1490.8 1120.4L1491.3 1115L1492 1119.2L1492.4 1114.1L1492.4 1120L1492.5 1113.6L1493 1120.8L1493.6 1112L1494.3 1118.4L1494.9 1114.5L1495.5 1118.5L1496.1 1111.2L1496.6 1119.1L1497.1 1111.4L1497.8 1117.1L1498.1 1111.3L1498.1 1118.1L1498.5 1112.6L1499.1 1117.2L1499.7 1109.6L1500.3 1113.7L1500.8 1109.5L1501.5 1115.1L1502.1 1107.3L1502.8 1112L1503.4 1106.1L1503.7 1111.5L1503.7 1105.7L1504.1 1111.6L1504.8 1105L1505.4 1111.8L1505.9 1105.8L1506.5 1110.9L1507 1104.7L1507.5 1109.1L1508.1 1104.2L1508.7 1109.9L1509.3 1103.9L1509.3 1109.7L1509.4 1106.2L1509.9 1108.4L1510.6 1102.9L1511.3 1110.1L1511.8 1104L1512.4 1109.9L1513 1105.5L1513.7 1107.8L1514.3 1104.8L1514.9 1108.7L1514.9 1104.8L1514.9 1108.7L1515.6 1103.9L1516.1 1109.6L1516.8 1104.4L1517.5 1109.6L1518 1104.1L1518.6 1110.1L1519.2 1104L1519.8 1108.2L1520.4 1103.1L1520.5 1109.7L1520.5 1103.9L1521 1110.3L1521.6 1103.9L1522.2 1110.2L1522.9 1103L1523.4 1112L1524 1103.2L1524.5 1108.3L1525.2 1101L1525.2 1110.6L1525.2 1103.1L1525.7 1110.8L1526.3 1100.2L1526.8 1109L1527.5 1098.4L1528.1 1104.9L1528.8 1098.7L1529.3 1106.4L1529.8 1098.2L1529.8 1105.9L1529.9 1100.3L1530.5 1104.5L1531.2 1095.9L1531.8 1101.6L1532.5 1097.1L1533.1 1101.6L1533.6 1093.6L1533.6 1101.3L1533.6 1092.4L1534.1 1100.8L1534.8 1092.8L1535.3 1100.3L1535.8 1092.9L1536.4 1099.2L1537 1090.7L1537.7 1096.1L1538.3 1089.7L1538.9 1093.6L1539.2 1088.9L1539.2 1095.6L1539.6 1091.4L1540.1 1095L1540.7 1089.2L1541.4 1095.6L1542.1 1090.5L1542.6 1095.3L1543.3 1090.8L1544 1095.2L1544.6 1090.7L1544.8 1095.6L1544.8 1090.8L1545.1 1095.3L1545.6 1090.9L1546.2 1096.3L1546.9 1090.3L1547.6 1096.6L1548.1 1090.6L1548.7 1095.6L1549.2 1090.6L1549.7 1096.8L1550.2 1090.2L1550.4 1097.5L1550.4 1090.8L1550.7 1096.4L1551.2 1090.5L1551.9 1097.5L1552.4 1092.3L1553 1097.1L1553.7 1090L1554.2 1096.7L1554.8 1088L1555.4 1098.3L1555.9 1087.8L1556 1097.5L1556 1088L1556.4 1098L1557 1086.7L1557.6 1095.1L1558.3 1085.9L1558.8 1094.9L1559.3 1087.9L1559.9 1091.6L1560.5 1083.9L1560.7 1091.9L1560.7 1083.3L1561.2 1088.8L1561.8 1083.9L1562.4 1086.9L1563.1 1083.2L1563.6 1090.1L1564.3 1082L1564.9 1087.9L1565.4 1079.5L1565.4 1086.3L1565.6 1079L1566.2 1087.4L1566.7 1079.4L1567.3 1085.6L1567.9 1078.9L1568.6 1085.6L1569.2 1081L1569.8 1084.9L1570.4 1078.8L1571 1084.4L1571 1078.6L1571.1 1084.7L1571.8 1079.9L1572.4 1085.4L1573.1 1077.3L1573.8 1086.2L1574.4 1080.8L1575 1085.9L1575.6 1077.2L1576.1 1085L1576.6 1077.7L1576.6 1086.3L1576.8 1079.9L1577.3 1085.3L1578 1076.1L1578.6 1086.8L1579.2 1075.5L1579.7 1084.3L1580.4 1075.2L1581 1084.3L1581.5 1078.5L1582.2 1084.4L1582.2 1075.8L1582.2 1081.5L1582.8 1076L1583.4 1086.1L1584.1 1074.9L1584.7 1082.1L1585.2 1078.3L1585.9 1083.3L1586.6 1073.9L1586.9 1085.4L1586.9 1074.9L1587.2 1084.7L1587.8 1073.8L1588.4 1084.7L1589.1 1073.6L1589.7 1079.1L1590.3 1073.4L1590.8 1081.8L1591.4 1068.6L1591.6 1079.7L1591.6 1068.3L1592 1075.7L1592.6 1068.2L1593.2 1078.3L1593.7 1068.9L1594.3 1077.5L1595 1069.2L1595.5 1075.1L1596.2 1068.1L1596.8 1074.5L1597.2 1065.5L1597.2 1073.2L1597.4 1065L1598 1073L1598.6 1065.3L1599.2 1072.2L1599.8 1064.6L1600.4 1072.4L1601 1062.6L1601.5 1071.8L1602.1 1063.9L1602.8 1071.3L1602.8 1063.6L1602.8 1072.1L1603.4 1061.6L1604.1 1071.5L1604.8 1066.6L1605.4 1069.1L1605.9 1066.3L1606.5 1071.5L1607.2 1064.4L1607.7 1071.8L1608.3 1062.7L1608.4 1072.3L1608.4 1064.6L1608.9 1072.1L1609.4 1066.3L1610 1073.7L1610.7 1065.1L1611.3 1073.5L1611.9 1063.6L1612.5 1070.4L1613.1 1062.5L1613.6 1073.9L1614 1063.6L1614 1072.3L1614.1 1063.5L1614.6 1072.3L1615.1 1060.5L1615.7 1071.3L1616.2 1059.9L1616.8 1072.7L1616.8 1056.2L1616.8 1072.3L1617.4 1055.5L1617.9 1066.9L1618.5 1057.5L1619 1062.5L1619.7 1051.3L1620.3 1061.7L1620.8 1053.9L1621.4 1060.8L1621.5 1049.6L1621.5 1061L1621.9 1047.6L1622.4 1060.1L1623 1048.4L1623.7 1057.7L1624.2 1046.6L1624.8 1058.8L1625.2 1046.8L1625.2 1056.4L1625.4 1048.4L1626.1 1056.8L1626.7 1047L1627.3 1058.2L1627.8 1047.7L1628.3 1055.9L1628.8 1047.5L1629.5 1055.7L1630 1047.5L1630.6 1056.5L1630.8 1047.7L1630.8 1056.4L1631.3 1047.4L1631.9 1053.8L1632.5 1047.7L1633 1056.1L1633.7 1048L1634.4 1055.9L1635.1 1047.6L1635.8 1054.6L1636.4 1047.4L1636.4 1056.4L1636.4 1046.8L1637 1056.6L1637.6 1044.9L1638.2 1056.5L1638.9 1045.7L1639.5 1057.8L1640.2 1046.1L1640.9 1056L1641.5 1044.1L1642.1 1055.4L1642.1 1044.9L1642.1 1054.8L1642.7 1047.3L1643.2 1054.9L1643.8 1048.4L1644.4 1051.4L1645.1 1045.5L1645.8 1055.4L1646.4 1044.4L1646.7 1054.5L1646.7 1043.1L1647 1050.6L1647.6 1043.8L1648.2 1050.3L1648.8 1041.8L1649.4 1050.4L1649.9 1038.5L1650.5 1047.9L1651 1037.1L1651.4 1048L1651.4 1037.5L1651.6 1045.3L1652.2 1035.9L1652.8 1045.8L1653.4 1036.4L1653.9 1044.3L1654.4 1032.9L1655.1 1044.2L1655.2 1031.9L1655.2 1042.3L1655.6 1032.2L1656.3 1041.2L1656.9 1032.6L1657.6 1041.7L1658.1 1031.9L1658.8 1039.1L1659.4 1036.1L1660.1 1042L1660.7 1032.7L1660.8 1043.3L1660.8 1033.7L1661.4 1043.9L1662.1 1033.2L1662.7 1044.1L1663.2 1032.8L1663.8 1043.7L1664.3 1033.7L1664.8 1040.6L1665.5 1033L1666.2 1044.2L1666.4 1032.8L1666.4 1044.2L1666.7 1033.4L1667.4 1040.6L1668 1031.9L1668.6 1044L1669.3 1030.6L1669.9 1042.1L1670.4 1030.6L1671 1041.6L1671 1030.9L1671 1041.4L1671.6 1031.6L1672.3 1040.7L1672.9 1031.2L1673.5 1036.4L1674.2 1028.6L1674.7 1040L1675.4 1028.2L1675.7 1039.5L1675.7 1028.1L1676 1040.2L1676.7 1026.2L1677.4 1034L1678 1024.1L1678.7 1036.6L1679.3 1019.6L1679.8 1034.8L1680.4 1018.1L1680.4 1033.9L1680.4 1017.8L1681 1030.2L1681.6 1013.3L1682.2 1024L1682.8 1013.4L1683.4 1024.4L1684 1012.4L1684.1 1022.7L1684.1 1010.3L1684.6 1022.6L1685.3 1010.6L1685.8 1021.7L1686.5 1014.2L1687.2 1023.5L1687.8 1012.9L1688.4 1021.6L1688.8 1012.2L1688.8 1021.8L1689.1 1011.9L1689.7 1023L1690.4 1012.5L1690.9 1023L1691.5 1012.2L1692 1019.9L1692.6 1010.8L1693.2 1023.3L1693.9 1011.6L1694.4 1024.6L1694.4 1012.2L1694.6 1024.8L1695.3 1011.9L1696 1022.8L1696.6 1011.4L1697.2 1025.5L1697.9 1010.9L1698.5 1024.2L1699.1 1010.3L1699.1 1022.7L1699.1 1009L1699.8 1019.8L1700.4 1007.6L1701 1021.2L1701.6 1009.3L1702.1 1020.5L1702.6 1006.1L1703.2 1019L1703.8 1006.6L1703.8 1019L1703.9 1006.1L1704.5 1018.5L1705.1 1006.5L1705.7 1017L1706.4 1001.4L1707.1 1014.9L1707.6 1001.9L1708.3 1016.5L1708.5 1001L1708.5 1015.2L1708.9 1001.6L1709.5 1013.7L1710.2 996.3L1710.7 1010.9L1711.4 995.4L1711.9 1009.2L1712.2 992.6L1712.2 1007.7L1712.6 997.6L1713.1 1005.9L1713.8 992.2L1714.3 1001.9L1714.8 989.1L1715.3 996L1715.9 987.9L1715.9 998.4L1716 987.9L1716.6 998.2L1717.2 991.7L1717.9 998.1L1718.6 988.6L1719.2 998.1L1719.9 991.3L1720.5 996.1L1720.6 988.8L1720.6 997.5L1721 989.8L1721.5 995.2L1722.2 988.2L1722.9 994.8L1723.5 986.3L1724.1 997.3L1724.7 985.7L1725.3 996L1725.9 985.5L1726.2 995.6L1726.2 986L1726.6 992.1L1727.2 984.6L1727.9 996.8L1728.5 983.5L1729.1 995.1L1729.8 983.3L1730.4 996L1731 985.3L1731.6 990.9L1731.8 983.2L1731.8 993.7L1732.2 983.1L1732.8 994.4L1733.4 981L1733.9 991.9L1734.6 980.7L1735.1 990.9L1735.8 980.7L1736.5 992.7L1736.5 980.4L1736.5 990.9L1737.1 979.8L1737.7 991.3L1738.2 978.8L1738.8 988L1739.4 978.9L1739.9 989L1740.2 978.6L1740.2 989L1740.5 980.2L1741.1 982.2L1741.7 971L1742.2 984.8L1742.9 968.5L1743.1 983.4L1743.1 963.6L1743.5 983L1744.1 962.7L1744.7 978.9L1745.3 963L1746 976.3L1746.5 963.8L1746.8 976L1746.8 961.7L1747 971.5L1747.5 960.4L1748.2 974L1748.7 962.3L1749.3 975.9L1749.9 964.2L1750.5 975.3L1751 962.5L1751.7 974.9L1752.3 963.2L1752.4 976L1752.4 963.6L1752.9 975.9L1753.5 965.8L1754 974L1754.6 961.9L1755.1 974.7L1755.7 960.7L1756.3 972.6L1756.9 960.2L1757.5 970.4L1758 959.8L1758 972.2L1758.1 961.2L1758.6 969.1L1759.2 957.9L1759.7 971.1L1760.3 955.9L1760.8 970.1L1761.3 957.1L1762 970.5L1762.5 955.6L1763.1 971.5L1763.5 954.3L1763.6 970.3L1763.6 954.2L1764.1 969.9L1764.6 956.6L1765.1 969.5L1765.8 950.7L1766.3 968.3L1767 950.2L1767.5 960.2L1768.2 952.8L1768.8 964.6L1769.2 947.7L1769.2 964.7L1769.4 946.2L1770 963.3L1770.7 949.7L1771.2 963.4L1771.8 943.7L1772 961.9L1772 943L1772.4 961.8L1773 936.4L1773.6 951.6L1774.3 935.7L1774.8 943.1L1774.8 929.9L1774.8 947.9L1775.4 930.3L1776 947.1L1776.5 930L1777.2 946.9L1777.8 932.1L1778.4 946L1778.6 933.7L1778.6 946L1778.9 932L1779.6 943.6L1780.2 936.6L1780.7 941.4L1781.3 932.7L1781.9 945.3L1782.5 935.1L1783.2 942.9L1783.7 931.9L1784.2 944.2L1784.2 931.8L1784.2 940.3L1784.9 929.7L1785.5 944.4L1786.1 928.9L1786.8 937.1L1787.3 931.1L1788 940.7L1788.5 930.3L1788.9 939.5L1788.9 925.2L1789.2 939.7L1789.9 924L1790.4 938L1790.5 923.5L1790.5 937.1L1791 926.6L1791.6 936.4L1792.2 924.4L1792.9 933.4L1793.5 917.8L1794.1 931.3L1794.5 915.5L1794.5 931L1794.7 914.6L1795.2 930.1L1795.7 915.1L1796.4 926.7L1796.9 918L1797.5 927.7L1798.2 911.7L1798.6 927L1798.6 913.4L1798.8 928L1799.4 908.8L1800.1 926.8L1800.8 902.1L1801.3 918.7L1802 899.8L1802.2 927L1802.2 895.3L1802.7 923L1803.2 897.8L1803.8 913.3L1804.4 897.4L1805 915.5L1805.5 890.2L1805.6 910.8L1805.6 889.2L1806.1 910.9L1806.8 890.8L1807.4 908.2L1807.9 893.9L1808.5 907.3L1809.1 894.4L1809.7 906.8L1809.7 895.3L1809.8 908L1810.3 896.9L1810.9 906.4L1811.4 892.6L1812 903.6L1812.6 892.3L1813.2 903L1813.7 891.2L1813.7 902.8L1813.7 891.7L1814.4 899.5L1815 890.9L1815.6 903.1L1816.2 887.6L1816.7 900.7L1816.7 887.2L1816.8 896.3L1817.4 886.8L1818 898L1818.7 889.5L1819.3 902.4L1819.9 890.9L1820.4 901.2L1820.8 893.2L1820.8 901.7L1821.1 894.6L1821.6 901.5L1822.1 892.4L1822.8 899.8L1823.3 892.4L1823.8 901.7L1824.4 890.2L1824.8 900.7L1824.8 891.2L1824.9 901.5L1825.4 888.6L1825.9 899.4L1826.5 885.5L1827.1 895.3L1827.6 881.8L1827.8 896.7L1827.8 881.1L1828.2 898L1828.7 879.9L1829.3 897.7L1830 879.6L1830.5 892.2L1830.9 879.1L1830.9 898.7L1831 878.6L1831.5 898.7L1832.1 867.7L1832.7 893.5L1832.9 862.9L1832.9 898.7L1833.3 863L1834 890.7L1834.6 863.9L1835.3 872.1L1835.8 851.7L1836.4 866.6L1836.5 850.8L1836.5 870.4L1837.1 855L1837.7 864.5L1838.4 855.2L1839 868.6L1839.7 859.2L1840 867.4L1840 858.9L1840.3 867L1841 860.3L1841.5 868.4L1842.1 855.8L1842.8 865.1L1843.5 855.8L1844 864.4L1844 854.9L1844.1 864.6L1844.7 852L1845.3 863.9L1845.8 850L1846.4 862.5L1846.9 847.1L1847.4 862.4L1847.4 845.8L1847.6 862.6L1848.3 849.7L1849 862.5L1849.6 850L1850.1 861.2L1850.7 852.2L1851.1 862.4L1851.1 852.9L1851.3 862.7L1851.9 853.3L1852.5 862.4L1853.1 850.5L1853.6 863.2L1854.2 844.9L1854.8 859.4L1855.1 844.8L1855.1 862.4L1855.5 843.7L1856.1 854.4L1856.7 839.8L1857.2 857.3L1857.7 837.3L1858.1 856.3L1858.1 835.7L1858.3 857.1L1858.9 835.7L1859.4 855.7L1860.1 843.8L1860.7 854.9L1861.3 837.3L1861.9 853.6L1862.2 836.7L1862.2 854.3L1862.5 831.9L1863 850L1863.5 818L1863.6 850.3L1863.6 816.5L1864 846.5L1864.7 822.6L1865.3 833L1865.9 810.7L1866.4 828.9L1866.8 808.4L1866.8 828L1866.9 808.9L1867.5 825.3L1868 811.6L1868.6 826L1869.3 810.9L1870 824.5L1870.3 814.5L1870.3 827L1870.5 815.6L1871 826.1L1871.6 814.7L1872.3 821.2L1872.9 813.2L1873.5 823.3L1874.1 812.6L1874.3 824L1874.3 812.5L1874.6 823.3L1875.3 813.3L1875.9 823.7L1876.5 807.4L1877.1 821.4L1877.7 805.6L1878.3 820L1878.3 805.4L1878.4 819.9L1879.1 805.9L1879.7 822.8L1880.2 807.3L1880.9 821.1L1881.4 808.4L1881.4 822L1881.5 811.5L1882 818.5L1882.6 808.8L1883.1 826.3L1883.7 810.8L1884.3 826L1884.4 812.5L1884.4 826L1884.9 808.6L1885.6 827.2L1886.1 809.4L1886.6 820.7L1887.2 803.8L1887.8 827.1L1888.3 794.6L1888.4 827L1888.4 793.3L1888.8 818.5L1889.4 797.1L1889.9 823.8L1890.5 797.7L1891.2 819.1L1891.5 800.3L1891.5 817.9L1891.8 801.3L1892.4 818.3L1893 803.1L1893.5 811L1894.2 800L1894.5 823L1894.5 788.2L1894.8 821.9L1895.4 798.1L1895.9 817.3L1896.5 779.3L1897.1 812L1897.5 775.1L1897.5 809.9L1897.7 775.6L1898.4 800.5L1899 777.9L1899.7 803.4L1900.3 781.4L1900.5 801.8L1900.5 782.2L1900.8 803.5L1901.4 782.7L1901.9 801.1L1902.4 783.2L1903 797.5L1903.5 782.4L1904.2 797.3L1904.6 783.2L1904.6 795.7L1904.9 780.7L1905.5 790.9L1906.2 783.2L1906.8 795L1907.5 778.8L1908.2 791.1L1908.6 772.1L1908.6 793.7L1908.8 779.1L1909.4 789.6L1910.1 775.5L1910.6 791.8L1911.3 779.3L1911.6 795.7L1911.6 780.2L1912 793.9L1912.6 782.7L1913.2 796.9L1913.8 785L1914.4 800.8L1914.7 786.2L1914.7 799.8L1914.9 787L1915.4 801.1L1916.1 776.6L1916.7 801.7L1917.4 775.8L1917.7 801.8L1917.7 770.1L1917.9 795.5L1918.4 770.9L1919 801.3L1919.6 779.3L1920.2 802.5L1920.7 778.1L1920.7 800.8L1920.8 779L1921.5 792.3L1922.1 764.9L1922.8 788.9L1923.4 755L1923.8 797.7L1923.8 751.9L1924 787.9L1924.5 748.3L1925.1 782.5L1925.8 754.4L1926.5 765.3L1926.8 737.7L1926.8 769.5L1927 740.4L1927.7 769L1928.3 742.3L1928.8 763.8L1929.4 747.3L1930.1 765.6L1930.6 739.5L1930.8 764.4L1930.8 737.7L1931.1 762.2L1931.7 740.5L1932.3 764.4L1932.8 749.2L1933.5 758.4L1933.9 749.9L1933.9 764.4L1934 750.4L1934.5 762.6L1935.1 748.3L1935.6 762.7L1936.3 745.5L1936.9 761.4L1936.9 745.8L1937 760.5L1937.5 745.2L1938.2 762.8L1938.8 747.3L1939.3 763.3L1940 737.4L1940.3 761.4L1940.3 736.7L1940.5 762.6L1941.1 748.6L1941.6 765.9L1942.3 742.5L1942.9 769.7L1943.4 744.3L1944 773.5L1944 747.8L1944.1 775.7L1944.7 756L1945.3 777.3L1946 744.6L1946.6 781.3L1947 739.8L1947 781.6L1947.1 746L1947.8 769.4L1948.3 740.5L1949 781.7L1949.6 744.7L1950 782.6L1950 738.8L1950.2 768.7L1950.8 738.9L1951.3 774.3L1951.8 724.3L1952.5 768.1L1953 711.5L1953 765.4L1953.1 715.9L1953.7 763.5L1954.3 706.7L1955 755.5L1955.6 722.3L1956.1 763.4L1956.1 700.4L1956.3 758.2L1956.8 722.6L1957.5 740.5L1958.2 707.2L1958.7 750.8L1959.1 699.4L1959.1 747.3L1959.2 700.1L1959.9 736.1L1960.5 699.8L1961.1 738.3L1961.8 716.7L1962.1 747.3L1962.1 700.4L1962.4 733.3L1963 709.9L1963.5 746.1L1964.1 715.5L1964.8 751.8L1965.2 723.6L1965.2 753.3L1965.4 721.5L1966.1 742L1966.8 724L1967.5 743.8L1968 721.7L1968.5 749.6L1969 722.4L1969.2 754.3L1969.2 721.6L1969.7 754.4L1970.3 725.4L1970.9 745.9L1971.5 721.6L1972.2 755.4L1972.2 720.6L1972.2 755.3L1972.8 720.9L1973.5 754.7L1974.1 716.8L1974.7 764L1975.3 713.5L1975.3 764.4L1975.3 713.8L1975.9 753.3L1976.6 712.5L1977.2 764.4L1977.8 705L1977.9 763.4L1977.9 706.4L1978.4 743.9L1978.9 714.2L1979.5 751.3L1980.2 708.8" fill="none" stroke="#A021F3" stroke-width="2.8" stroke-linejoin="round" stroke-linecap="butt"/>
<path d="M1198.5 1198.5L1983.7 973.7" stroke="#F5301C" stroke-width="2.5" stroke-dasharray="7 5.6" fill="none"/>
<path d="M1550 1198.5L1983.7 701.3" stroke="#5CC1E6" stroke-width="2.5" stroke-dasharray="7 5.6" stroke-dashoffset="3" fill="none"/>
<path d="M1672 904.7V1199" stroke="#000" stroke-width="5.2" stroke-dasharray="4.9 5.9" fill="none"/>
<text x="1171.7" y="1256.5" font-family='"Liberation Serif", serif' font-size="39" text-anchor="middle">0</text>
<text x="1262.5" y="1256.5" font-family='"Liberation Serif", serif' font-size="39" text-anchor="middle">1</text>
<text x="1353.3" y="1256.5" font-family='"Liberation Serif", serif' font-size="39" text-anchor="middle">2</text>
<text x="1444" y="1256.5" font-family='"Liberation Serif", serif' font-size="39" text-anchor="middle">3</text>
<text x="1534.8" y="1256.5" font-family='"Liberation Serif", serif' font-size="39" text-anchor="middle">4</text>
<text x="1625.6" y="1256.5" font-family='"Liberation Serif", serif' font-size="39" text-anchor="middle">5</text>
<text x="1716.4" y="1256.5" font-family='"Liberation Serif", serif' font-size="39" text-anchor="middle">6</text>
<text x="1807.1" y="1256.5" font-family='"Liberation Serif", serif' font-size="39" text-anchor="middle">7</text>
<text x="1897.9" y="1256.5" font-family='"Liberation Serif", serif' font-size="39" text-anchor="middle">8</text>
<text x="1988.7" y="1256.5" font-family='"Liberation Serif", serif' font-size="39" text-anchor="middle">9</text>
<text x="1147.7" y="1213.5" font-family='"Liberation Serif", serif' font-size="39" text-anchor="end">0</text>
<text x="1147.7" y="1149.7" font-family='"Liberation Serif", serif' font-size="39" text-anchor="end">50</text>
<text x="1147.7" y="1086" font-family='"Liberation Serif", serif' font-size="39" text-anchor="end">100</text>
<text x="1147.7" y="1022.2" font-family='"Liberation Serif", serif' font-size="39" text-anchor="end">150</text>
<text x="1147.7" y="958.5" font-family='"Liberation Serif", serif' font-size="39" text-anchor="end">200</text>
<text x="1147.7" y="894.7" font-family='"Liberation Serif", serif' font-size="39" text-anchor="end">250</text>
<text x="1147.7" y="830.9" font-family='"Liberation Serif", serif' font-size="39" text-anchor="end">300</text>
<text x="1147.7" y="767.2" font-family='"Liberation Serif", serif' font-size="39" text-anchor="end">350</text>
<text x="1147.7" y="703.4" font-family='"Liberation Serif", serif' font-size="39" text-anchor="end">400</text>
<text x="1580" y="1321.7" font-family='"Liberation Serif", serif' font-size="39" text-anchor="middle">Time (ps)</text>
<text x="1230" y="823" text-anchor="middle" font-family='"Liberation Sans", sans-serif' font-weight="bold" font-size="41"><tspan font-size="45" dy="-1">(</tspan><tspan dy="1">d</tspan><tspan font-size="45" dy="-1">)</tspan></text>
<text x="1220.5" y="741.6" font-family='"Liberation Serif", serif' font-size="39" text-anchor="start">Simulation 1b</text>
<path d="M1459 727H1553.6" stroke="#A021F3" stroke-width="2.5"/>
<text x="1691.5" y="907.6" font-family='"Liberation Sans", sans-serif' font-size="46" font-weight="bold" font-style="italic" stroke="#000" stroke-width="0.9">t<tspan font-size="58" dx="6" dy="1" stroke-width="0.3">*</tspan></text>
</g>
</svg></body></html>
